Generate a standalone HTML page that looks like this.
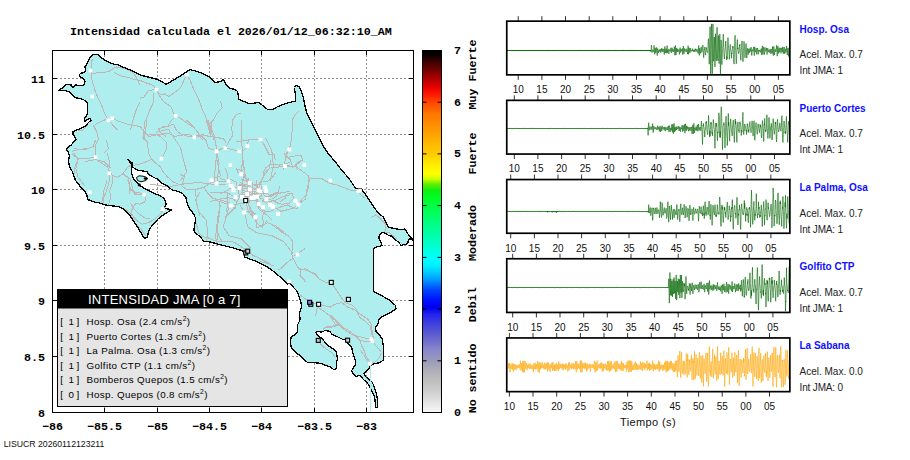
<!DOCTYPE html>
<html><head><meta charset="utf-8"><style>html,body{margin:0;padding:0;background:#fff;width:910px;height:460px;overflow:hidden}svg{display:block}</style></head>
<body><svg width="910" height="460" viewBox="0 0 910 460"><rect x="0" y="0" width="910" height="460" fill="#fff"/>
<text x="70" y="35" font-family="Liberation Mono" font-weight="bold" font-size="11.67" fill="#000">Intensidad calculada el 2026/01/12_06:32:10_AM</text>
<defs><clipPath id="mc"><rect x="52.5" y="50.5" width="361.0" height="362.0"/></clipPath></defs>
<g clip-path="url(#mc)">
<line x1="104.5" y1="50" x2="104.5" y2="412.5" stroke="#8c8c8c" stroke-width="1" stroke-dasharray="2,2" stroke-dashoffset="3" shape-rendering="crispEdges"/>
<line x1="157.5" y1="50" x2="157.5" y2="412.5" stroke="#8c8c8c" stroke-width="1" stroke-dasharray="2,2" stroke-dashoffset="3" shape-rendering="crispEdges"/>
<line x1="209.5" y1="50" x2="209.5" y2="412.5" stroke="#8c8c8c" stroke-width="1" stroke-dasharray="2,2" stroke-dashoffset="3" shape-rendering="crispEdges"/>
<line x1="261.5" y1="50" x2="261.5" y2="412.5" stroke="#8c8c8c" stroke-width="1" stroke-dasharray="2,2" stroke-dashoffset="3" shape-rendering="crispEdges"/>
<line x1="314.5" y1="50" x2="314.5" y2="412.5" stroke="#8c8c8c" stroke-width="1" stroke-dasharray="2,2" stroke-dashoffset="3" shape-rendering="crispEdges"/>
<line x1="366.5" y1="50" x2="366.5" y2="412.5" stroke="#8c8c8c" stroke-width="1" stroke-dasharray="2,2" stroke-dashoffset="3" shape-rendering="crispEdges"/>
<line x1="52" y1="78.5" x2="413.5" y2="78.5" stroke="#8c8c8c" stroke-width="1" stroke-dasharray="2,2" shape-rendering="crispEdges"/>
<line x1="52" y1="134.5" x2="413.5" y2="134.5" stroke="#8c8c8c" stroke-width="1" stroke-dasharray="2,2" shape-rendering="crispEdges"/>
<line x1="52" y1="189.5" x2="413.5" y2="189.5" stroke="#8c8c8c" stroke-width="1" stroke-dasharray="2,2" shape-rendering="crispEdges"/>
<line x1="52" y1="245.5" x2="413.5" y2="245.5" stroke="#8c8c8c" stroke-width="1" stroke-dasharray="2,2" shape-rendering="crispEdges"/>
<line x1="52" y1="300.5" x2="413.5" y2="300.5" stroke="#8c8c8c" stroke-width="1" stroke-dasharray="2,2" shape-rendering="crispEdges"/>
<line x1="52" y1="356.5" x2="413.5" y2="356.5" stroke="#8c8c8c" stroke-width="1" stroke-dasharray="2,2" shape-rendering="crispEdges"/>
<polygon points="93.3,54.3 97.7,54.3 101.4,57.6 104.2,59.8 110.5,62.8 115.0,64.8 118.3,64.8 123.7,67.4 132.4,70.7 140.0,75.0 148.7,77.2 157.4,79.3 161.7,81.5 166.1,84.3 174.8,79.3 183.5,73.9 190.0,69.6 194.3,70.7 200.9,72.8 209.6,77.2 215.0,82.6 220.4,81.5 223.7,79.3 225.9,84.8 229.1,88.0 233.3,89.1 237.6,91.3 238.7,98.9 243.0,101.1 248.5,103.3 253.9,103.3 258.3,102.2 262.6,105.4 268.0,109.8 273.5,109.1 277.8,106.5 284.3,103.9 290.9,102.2 295.2,101.1 295.2,93.5 294.1,87.0 296.3,85.2 299.6,87.0 301.3,91.3 303.5,97.8 304.6,104.3 306.8,113.0 310.0,119.6 313.3,126.1 316.5,132.6 319.8,139.1 323.3,146.5 328.7,154.1 335.2,161.7 341.8,170.4 348.7,178.0 355.2,187.8 358.5,188.9 360.7,188.3 363.9,192.2 368.3,198.7 372.6,205.2 378.0,212.8 383.5,217.2 385.9,222.6 388.5,227.0 391.1,227.8 395.4,228.7 399.8,229.6 405.0,229.1 406.7,232.2 409.3,235.7 412.0,238.3 413.5,240.4 413.5,241.0 411.1,238.9 408.5,239.3 408.0,242.6 406.7,244.3 403.3,244.3 401.5,245.7 398.9,242.6 396.3,240.4 393.7,238.3 392.0,236.1 389.3,235.7 385.9,233.9 384.1,232.6 381.5,232.6 379.3,235.2 378.9,238.3 380.2,240.9 381.5,243.5 382.0,245.7 379.8,246.1 376.3,247.0 373.7,248.3 373.5,291.7 378.0,293.9 382.4,296.1 389.1,300.0 395.2,305.2 396.1,308.7 390.9,312.2 382.2,316.5 378.7,320.0 377.8,324.3 375.2,327.8 376.1,331.3 379.6,334.8 382.2,339.1 383.0,343.5 383.8,350.0 383.8,356.1 383.1,360.1 379.8,362.8 375.0,363.5 371.7,364.8 369.0,368.2 366.3,370.9 364.0,373.5 366.0,377.0 369.5,380.0 372.0,382.0 373.8,385.5 375.5,390.5 376.8,395.5 377.6,401.0 377.6,407.2 375.4,407.2 375.2,401.7 374.4,396.5 372.8,392.6 370.8,388.7 368.8,385.0 366.5,382.3 363.0,379.0 360.0,375.5 356.2,376.3 352.8,373.6 351.5,370.9 353.5,367.5 355.5,364.8 355.5,360.8 354.2,356.7 352.8,352.7 351.7,347.0 349.1,344.3 346.5,342.6 345.7,340.0 342.2,339.1 337.0,336.5 332.6,334.8 329.6,331.3 325.2,330.4 321.7,332.2 318.3,331.3 315.7,332.2 316.5,333.9 319.1,336.5 322.6,339.1 325.2,342.6 328.7,346.1 333.0,348.7 336.5,352.2 337.4,358.3 336.5,363.5 336.5,368.7 333.9,369.6 330.4,367.0 326.1,365.6 320.9,363.5 314.8,362.6 307.8,362.6 304.3,360.0 300.0,355.7 295.7,352.2 291.3,347.8 290.4,342.6 291.3,336.5 293.9,335.7 297.4,332.2 297.4,325.2 300.0,320.0 299.6,312.2 301.7,306.7 300.7,301.3 298.5,294.8 296.3,290.4 293.5,287.4 289.1,283.0 287.0,284.1 284.8,280.9 278.3,275.4 271.7,270.0 265.2,265.7 258.7,262.4 250.0,259.1 244.6,257.0 244.6,252.6 241.3,250.4 230.4,247.2 217.4,243.9 208.7,241.7 204.3,241.7 200.4,237.0 195.0,232.6 193.9,230.0 194.8,223.9 195.7,218.7 193.9,214.3 191.3,210.9 188.7,207.4 187.0,202.2 186.0,197.8 182.6,193.5 179.1,191.7 172.2,190.0 167.0,185.7 161.7,183.0 158.3,179.6 153.0,177.0 148.7,174.3 147.0,171.7 142.6,170.9 137.4,170.0 133.0,167.4 132.2,163.0 127.8,159.6 131.3,163.9 131.3,172.6 133.9,179.6 139.1,184.8 144.3,188.3 149.6,190.9 154.8,193.5 160.9,196.1 164.3,198.7 166.1,203.9 164.3,208.3 168.7,209.1 171.3,210.0 167.0,212.6 161.7,216.1 158.3,218.7 155.9,221.7 152.6,225.0 149.3,229.3 147.2,237.0 145.0,238.7 142.8,235.9 139.6,230.4 134.1,221.7 130.3,216.1 126.8,212.6 123.3,209.1 118.1,206.5 111.1,205.7 104.2,204.8 99.8,203.0 94.6,202.2 90.3,200.4 87.7,199.6 86.8,195.2 85.0,191.7 82.4,189.1 79.0,184.8 75.5,180.4 73.7,175.2 72.0,170.9 69.4,166.5 68.5,160.4 69.4,156.1 68.5,152.6 66.3,149.1 68.3,147.2 71.6,144.6 73.5,142.0 76.1,140.0 74.8,136.7 72.9,134.1 72.9,131.5 76.1,130.2 79.4,128.9 83.3,127.0 85.9,125.7 88.5,122.4 91.1,120.4 89.8,118.5 87.2,119.8 84.6,121.7 84.6,117.8 86.6,115.9 87.9,112.0 87.2,108.0 87.9,104.1 86.6,101.5 83.3,99.6 79.4,98.3 74.8,97.6 72.6,94.8 70.0,92.2 66.1,90.9 62.2,90.3 58.9,90.3 59.6,89.6 63.5,87.6 64.8,85.7 66.1,84.4 71.3,85.0 72.6,87.6 75.2,85.0 81.8,85.7 84.4,84.4 85.0,81.8 83.7,78.5 80.5,77.2 79.2,75.2 80.5,73.3 84.4,72.6 85.7,70.0 85.0,66.8 87.0,63.5 89.6,58.3" fill="#afeeee" stroke="none"/>
<polyline points="92.2,58.7 91.3,67.4 91.0,74.3 92.2,81.3 94.8,90.0 98.3,98.7 101.7,105.7 104.3,112.6 107.0,117.8 109.6,121.3 113.9,126.5 117.4,130.0" fill="none" stroke="#bfb6b6" stroke-width="1" shape-rendering="crispEdges"/>
<polyline points="91.3,73.5 100.0,72.6 108.7,71.7 112.2,69.1 117.4,66.5" fill="none" stroke="#bfb6b6" stroke-width="1" shape-rendering="crispEdges"/>
<polyline points="113.9,72.6 120.9,76.1 129.6,77.8 134.8,79.6 140.0,80.4 145.2,82.6 150.4,84.3 153.9,86.1" fill="none" stroke="#bfb6b6" stroke-width="1" shape-rendering="crispEdges"/>
<polyline points="113.9,67.4 119.1,67.4 126.1,69.1 133.0,72.6 136.5,77.8 140.0,84.8" fill="none" stroke="#bfb6b6" stroke-width="1" shape-rendering="crispEdges"/>
<polyline points="140.0,102.2 136.5,109.1 133.0,119.6 131.3,126.5 130.4,130.0" fill="none" stroke="#bfb6b6" stroke-width="1" shape-rendering="crispEdges"/>
<polyline points="94.8,124.8 105.2,119.6 112.2,118.7 119.1,121.3 129.6,124.8 140.0,126.5" fill="none" stroke="#bfb6b6" stroke-width="1" shape-rendering="crispEdges"/>
<polyline points="187.0,74.8 184.3,79.1 181.7,86.1 177.4,90.4 171.3,94.8 168.7,96.5 164.3,93.9 160.9,94.8 157.4,92.2 155.7,88.7 153.9,86.1" fill="none" stroke="#bfb6b6" stroke-width="1" shape-rendering="crispEdges"/>
<polyline points="187.0,74.8 190.4,80.9 193.9,89.6 197.4,96.5 200.9,105.2 202.6,110.4 205.2,115.7 207.8,122.6 210.4,129.6 213.0,136.5 213.9,140.0" fill="none" stroke="#bfb6b6" stroke-width="1" shape-rendering="crispEdges"/>
<polyline points="153.9,86.1 155.7,89.6 148.7,90.4 143.5,97.4 140.0,98.3" fill="none" stroke="#bfb6b6" stroke-width="1" shape-rendering="crispEdges"/>
<polyline points="157.4,92.2 160.0,96.5 163.5,101.7 168.7,105.2 171.3,107.0 173.0,112.2 175.7,115.7 181.7,119.1 188.7,124.3 193.9,127.8 198.3,133.0 200.0,136.5 202.6,140.0" fill="none" stroke="#bfb6b6" stroke-width="1" shape-rendering="crispEdges"/>
<polyline points="175.7,115.7 171.3,120.9 167.8,126.1 162.6,127.0 159.1,129.6 160.9,133.0 166.1,136.5" fill="none" stroke="#bfb6b6" stroke-width="1" shape-rendering="crispEdges"/>
<polyline points="153.9,93.0 153.0,103.5 149.6,110.4 147.0,117.4 146.1,126.1 144.3,136.5 143.5,140.0" fill="none" stroke="#bfb6b6" stroke-width="1" shape-rendering="crispEdges"/>
<polyline points="220.4,100.9 222.2,107.8 217.0,113.0 213.5,120.0 210.0,123.5 209.6,127.8" fill="none" stroke="#bfb6b6" stroke-width="1" shape-rendering="crispEdges"/>
<polyline points="140.0,126.5 148.7,136.5 157.4,134.8 167.8,133.0 174.8,136.5 183.5,134.8 188.7,136.5 193.9,136.5 202.6,134.8 209.6,136.5 217.0,137.4 223.9,139.1 225.7,142.6" fill="none" stroke="#bfb6b6" stroke-width="1" shape-rendering="crispEdges"/>
<polyline points="241.3,113.0 236.1,114.8 232.6,120.0 231.7,128.7 232.6,135.7 229.1,140.9 225.7,147.8 232.6,149.6 238.7,151.3" fill="none" stroke="#bfb6b6" stroke-width="1" shape-rendering="crispEdges"/>
<polyline points="236.1,141.7 248.3,140.0 260.4,139.5 263.9,144.3 267.4,151.3 269.1,154.8 274.3,154.8 275.2,160.0" fill="none" stroke="#bfb6b6" stroke-width="1" shape-rendering="crispEdges"/>
<polyline points="248.3,140.0 247.4,146.1 243.0,151.3 242.2,160.0 243.0,165.2 244.8,170.4 244.8,177.4 248.3,182.6" fill="none" stroke="#bfb6b6" stroke-width="1" shape-rendering="crispEdges"/>
<polyline points="225.7,147.8 220.4,149.6 217.0,151.3 216.1,160.0 217.0,160.0 218.7,168.7 220.4,175.7 217.0,177.4 210.0,179.1" fill="none" stroke="#bfb6b6" stroke-width="1" shape-rendering="crispEdges"/>
<polyline points="211.7,123.5 210.9,132.2 210.0,135.7" fill="none" stroke="#bfb6b6" stroke-width="1" shape-rendering="crispEdges"/>
<polyline points="289.1,149.6 286.5,154.8 285.7,160.0" fill="none" stroke="#bfb6b6" stroke-width="1" shape-rendering="crispEdges"/>
<polyline points="299.1,110.9 295.7,114.3 292.2,119.6 292.2,130.0 291.3,138.7 290.4,145.7 287.0,152.6 285.2,159.6 284.3,164.8 283.5,170.0" fill="none" stroke="#bfb6b6" stroke-width="1" shape-rendering="crispEdges"/>
<polyline points="286.9,157.8 293.9,156.1 300.9,155.2 302.6,159.6 299.1,163.0 295.7,164.8 297.4,170.0" fill="none" stroke="#bfb6b6" stroke-width="1" shape-rendering="crispEdges"/>
<polyline points="283.5,166.1 295.7,166.1 297.4,162.6 302.6,160.0" fill="none" stroke="#bfb6b6" stroke-width="1" shape-rendering="crispEdges"/>
<polyline points="295.7,166.1 300.9,170.4 306.1,173.9 310.4,178.3 314.8,178.3 321.7,178.3 325.2,180.9 330.4,183.5 337.4,185.2 344.3,187.8 351.3,190.4 356.5,190.4 361.7,195.7 365.2,198.3" fill="none" stroke="#bfb6b6" stroke-width="1" shape-rendering="crispEdges"/>
<polyline points="310.4,178.3 308.7,182.6 307.0,189.6 306.1,194.8 302.6,198.3 300.0,201.7 298.3,205.2 297.4,208.7" fill="none" stroke="#bfb6b6" stroke-width="1" shape-rendering="crispEdges"/>
<polyline points="280.0,201.7 285.2,198.3 287.0,193.9 292.2,193.9 293.9,198.3 290.4,201.7 287.0,205.2" fill="none" stroke="#bfb6b6" stroke-width="1" shape-rendering="crispEdges"/>
<polyline points="280.0,207.0 287.0,205.2 292.2,207.0 297.4,208.7" fill="none" stroke="#bfb6b6" stroke-width="1" shape-rendering="crispEdges"/>
<polyline points="280.0,231.3 287.0,234.8 292.2,240.0" fill="none" stroke="#bfb6b6" stroke-width="1" shape-rendering="crispEdges"/>
<polyline points="270.9,160.0 269.1,168.7 263.9,175.7 260.4,182.6 258.0,190.0" fill="none" stroke="#bfb6b6" stroke-width="1" shape-rendering="crispEdges"/>
<polyline points="290.0,165.2 279.6,167.0 270.9,167.8" fill="none" stroke="#bfb6b6" stroke-width="1" shape-rendering="crispEdges"/>
<polyline points="370.4,218.3 375.7,214.8 379.1,217.4 385.2,223.5 386.1,228.7 384.3,232.2 388.7,232.2 393.0,235.7 397.4,239.1" fill="none" stroke="#bfb6b6" stroke-width="1" shape-rendering="crispEdges"/>
<polyline points="93.3,125.0 96.8,132.0 98.5,138.9 95.9,144.1 95.0,151.1 96.8,159.8 102.0,163.3 107.2,166.7 109.8,172.0 112.4,175.4 117.7,177.2 122.9,173.7 128.1,166.7 130.0,165.7" fill="none" stroke="#bfb6b6" stroke-width="1" shape-rendering="crispEdges"/>
<polyline points="107.2,152.8 109.0,159.8 109.0,166.7" fill="none" stroke="#bfb6b6" stroke-width="1" shape-rendering="crispEdges"/>
<polyline points="72.4,151.1 79.4,149.3 88.1,148.5 95.0,145.9" fill="none" stroke="#bfb6b6" stroke-width="1" shape-rendering="crispEdges"/>
<polyline points="72.4,154.6 77.7,158.0 84.6,158.9 95.0,157.2" fill="none" stroke="#bfb6b6" stroke-width="1" shape-rendering="crispEdges"/>
<polyline points="78.0,160.0 75.0,166.7 74.2,173.7" fill="none" stroke="#bfb6b6" stroke-width="1" shape-rendering="crispEdges"/>
<polyline points="109.8,172.0 109.0,182.4 106.3,191.1 103.7,198.0 102.9,205.0" fill="none" stroke="#bfb6b6" stroke-width="1" shape-rendering="crispEdges"/>
<polyline points="112.4,175.4 112.4,182.4 109.8,191.1 110.7,198.0 109.6,200.9 108.3,204.8" fill="none" stroke="#bfb6b6" stroke-width="1" shape-rendering="crispEdges"/>
<polyline points="122.9,173.7 128.1,177.2 129.8,185.9 129.0,194.6" fill="none" stroke="#bfb6b6" stroke-width="1" shape-rendering="crispEdges"/>
<polyline points="88.1,125.0 82.9,130.2 78.0,131.0" fill="none" stroke="#bfb6b6" stroke-width="1" shape-rendering="crispEdges"/>
<polyline points="127.8,180.0 129.1,183.9 130.4,187.8 133.0,191.7 139.6,193.0 143.5,194.3 146.1,197.0 144.8,202.2 139.6,204.1 135.7,203.5 133.0,207.4 131.1,211.3 131.7,213.9 134.3,217.8 138.3,221.7 142.2,224.3 147.4,223.0 152.6,220.4 156.5,217.8 160.4,213.9 163.0,210.0" fill="none" stroke="#bfb6b6" stroke-width="1" shape-rendering="crispEdges"/>
<polyline points="107.0,180.0 105.7,185.2 103.7,190.4 103.0,197.0 101.7,202.2" fill="none" stroke="#bfb6b6" stroke-width="1" shape-rendering="crispEdges"/>
<polyline points="145.2,120.0 144.1,128.7 143.0,137.4 147.4,141.7 148.5,152.6 151.7,159.1 156.1,163.5 160.4,166.7 162.6,171.1 167.0,176.5 173.5,182.0 181.1,185.2 186.5,189.6 195.2,189.6 203.9,187.4 210.4,183.0 217.0,180.9 225.7,182.0 230.0,183.0 234.3,186.0" fill="none" stroke="#bfb6b6" stroke-width="1" shape-rendering="crispEdges"/>
<polyline points="147.4,135.2 153.9,134.1 160.4,136.3 165.9,141.7 167.0,148.3 164.8,152.6 162.6,157.0 161.5,158.7" fill="none" stroke="#bfb6b6" stroke-width="1" shape-rendering="crispEdges"/>
<polyline points="158.3,128.7 167.0,126.5 173.5,124.3 176.7,130.9 182.2,135.2 188.7,134.1 194.1,137.4 201.7,136.3 206.1,140.7 208.3,148.3 212.6,149.3 215.9,151.5 221.3,148.3 225.7,148.3" fill="none" stroke="#bfb6b6" stroke-width="1" shape-rendering="crispEdges"/>
<polyline points="186.5,120.0 190.9,124.3 195.2,128.7" fill="none" stroke="#bfb6b6" stroke-width="1" shape-rendering="crispEdges"/>
<polyline points="206.1,120.0 208.3,126.5 210.4,135.2" fill="none" stroke="#bfb6b6" stroke-width="1" shape-rendering="crispEdges"/>
<polyline points="217.0,152.6 219.1,163.5 218.0,174.3 217.0,180.9" fill="none" stroke="#bfb6b6" stroke-width="1" shape-rendering="crispEdges"/>
<polyline points="195.2,189.6 196.3,198.3 197.4,207.0 199.6,215.7" fill="none" stroke="#bfb6b6" stroke-width="1" shape-rendering="crispEdges"/>
<polyline points="203.9,187.4 208.3,193.9 212.6,198.3 221.3,200.4 230.0,202.6" fill="none" stroke="#bfb6b6" stroke-width="1" shape-rendering="crispEdges"/>
<polyline points="180.0,174.3 184.3,176.5 182.2,185.2" fill="none" stroke="#bfb6b6" stroke-width="1" shape-rendering="crispEdges"/>
<polyline points="130.0,165.7 138.7,164.6 147.4,161.3 151.7,159.1" fill="none" stroke="#bfb6b6" stroke-width="1" shape-rendering="crispEdges"/>
<polyline points="130.0,189.6 136.5,193.9 143.0,195.0" fill="none" stroke="#bfb6b6" stroke-width="1" shape-rendering="crispEdges"/>
<polyline points="210.0,193.0 218.7,192.2 227.4,193.0 234.3,196.5 240.0,196.0" fill="none" stroke="#bfb6b6" stroke-width="1" shape-rendering="crispEdges"/>
<polyline points="210.0,201.7 215.2,200.0 220.4,201.7 225.7,203.5 230.5,205.6 238.0,204.0 245.0,203.0" fill="none" stroke="#bfb6b6" stroke-width="1" shape-rendering="crispEdges"/>
<polyline points="220.4,205.2 218.7,212.2 217.0,220.9 217.0,229.6 217.8,240.0" fill="none" stroke="#bfb6b6" stroke-width="1" shape-rendering="crispEdges"/>
<polyline points="227.4,193.0 227.4,205.2 226.5,212.0" fill="none" stroke="#bfb6b6" stroke-width="1" shape-rendering="crispEdges"/>
<polyline points="250.0,207.0 251.7,213.9 255.2,217.4 257.0,222.6 256.1,227.8 262.2,226.1 267.4,222.6 276.1,226.1 283.0,231.3 286.5,236.5" fill="none" stroke="#bfb6b6" stroke-width="1" shape-rendering="crispEdges"/>
<polyline points="262.0,201.0 269.1,201.7 276.1,200.0 283.0,196.5 290.0,194.8" fill="none" stroke="#bfb6b6" stroke-width="1" shape-rendering="crispEdges"/>
<polyline points="272.6,207.0 276.1,208.7 283.0,206.1 290.0,205.2" fill="none" stroke="#bfb6b6" stroke-width="1" shape-rendering="crispEdges"/>
<polyline points="265.0,210.0 262.2,217.4 264.0,224.0" fill="none" stroke="#bfb6b6" stroke-width="1" shape-rendering="crispEdges"/>
<polyline points="276.1,192.2 270.0,196.0" fill="none" stroke="#bfb6b6" stroke-width="1" shape-rendering="crispEdges"/>
<polyline points="255.2,217.6 256.1,222.0 259.6,225.4 264.8,224.6 267.0,220.0" fill="none" stroke="#bfb6b6" stroke-width="1" shape-rendering="crispEdges"/>
<polyline points="219.6,215.0 217.8,222.0 216.1,227.2 217.8,232.4 219.6,237.6 222.0,241.0" fill="none" stroke="#bfb6b6" stroke-width="1" shape-rendering="crispEdges"/>
<polyline points="195.2,220.2 198.7,232.4 202.2,236.7 207.4,237.6 216.1,241.1 224.8,242.0 230.0,241.1 235.2,242.8 240.4,246.3 245.7,249.8 252.6,255.0 259.6,258.5 266.5,262.0 270.0,263.7" fill="none" stroke="#bfb6b6" stroke-width="1" shape-rendering="crispEdges"/>
<polyline points="260.0,261.5 267.0,263.3 274.0,266.0" fill="none" stroke="#bfb6b6" stroke-width="1" shape-rendering="crispEdges"/>
<polyline points="272.2,225.0 277.4,228.5 282.6,232.0 287.8,235.4 292.2,240.7 293.0,247.6 291.3,252.8 293.0,258.0 294.8,261.5 297.4,266.7 300.9,270.2 305.2,268.5 310.4,272.0 315.7,273.7 319.1,278.9 326.1,282.4 331.3,282.4 334.8,287.6 338.3,292.8 341.7,298.3 345.2,302.6 352.2,305.2 355.7,308.7 357.4,312.2 362.6,315.7 367.8,319.1 371.3,324.3 372.2,331.3 373.0,336.5 373.0,340.0" fill="none" stroke="#bfb6b6" stroke-width="1" shape-rendering="crispEdges"/>
<polyline points="293.0,258.0 286.1,263.3 280.9,268.5 277.4,270.2" fill="none" stroke="#bfb6b6" stroke-width="1" shape-rendering="crispEdges"/>
<polyline points="294.0,256.0 299.1,252.8 305.2,248.5" fill="none" stroke="#bfb6b6" stroke-width="1" shape-rendering="crispEdges"/>
<polyline points="300.9,270.2 300.0,275.4 303.5,278.9 306.1,282.4" fill="none" stroke="#bfb6b6" stroke-width="1" shape-rendering="crispEdges"/>
<polyline points="263.5,225.0 261.7,228.5" fill="none" stroke="#bfb6b6" stroke-width="1" shape-rendering="crispEdges"/>
<polyline points="300.0,268.7 307.0,270.4 312.2,273.0 316.5,275.7 319.1,279.1" fill="none" stroke="#bfb6b6" stroke-width="1" shape-rendering="crispEdges"/>
<polyline points="300.0,276.5 303.5,278.3 305.2,282.6" fill="none" stroke="#bfb6b6" stroke-width="1" shape-rendering="crispEdges"/>
<polyline points="300.0,294.8 307.0,300.0 313.9,303.5 322.6,305.2 330.4,307.0 334.8,304.3 341.7,302.6" fill="none" stroke="#bfb6b6" stroke-width="1" shape-rendering="crispEdges"/>
<polyline points="317.4,307.0 316.5,312.2 315.7,315.7" fill="none" stroke="#bfb6b6" stroke-width="1" shape-rendering="crispEdges"/>
<polyline points="317.4,307.0 322.6,310.4 329.6,315.7 334.8,320.0 338.3,324.3 341.7,327.8 347.0,331.3 352.2,334.8 359.1,336.5 366.1,338.3 371.3,339.1" fill="none" stroke="#bfb6b6" stroke-width="1" shape-rendering="crispEdges"/>
<polyline points="338.3,324.3 333.0,326.1 326.1,327.0 322.6,329.6" fill="none" stroke="#bfb6b6" stroke-width="1" shape-rendering="crispEdges"/>
<polyline points="341.7,302.6 347.4,307.0 356.1,310.4 359.6,317.4 364.8,320.9 370.0,326.1 371.7,333.0 372.6,340.0 375.2,345.2 378.7,348.7 381.3,352.2" fill="none" stroke="#bfb6b6" stroke-width="1" shape-rendering="crispEdges"/>
<polyline points="330.0,315.7 335.2,324.3 340.4,326.1 347.4,329.6 354.3,334.8 359.6,340.0 361.3,345.2 364.8,352.2 366.5,357.4 370.0,362.6" fill="none" stroke="#bfb6b6" stroke-width="1" shape-rendering="crispEdges"/>
<polyline points="359.6,340.0 364.8,341.7 372.0,341.0" fill="none" stroke="#bfb6b6" stroke-width="1" shape-rendering="crispEdges"/>
<polyline points="360.2,350.0 364.3,355.4 367.0,360.8 370.3,363.5 375.0,362.1 379.1,358.1 381.8,352.7" fill="none" stroke="#bfb6b6" stroke-width="1" shape-rendering="crispEdges"/>
<polyline points="324.1,327.4 329.3,327.4 334.6,326.7 339.8,324.1 343.0,327.0" fill="none" stroke="#bfb6b6" stroke-width="1" shape-rendering="crispEdges"/>
<polyline points="330.7,315.0 334.6,318.9 338.5,322.8 342.4,326.7 345.0,329.0" fill="none" stroke="#bfb6b6" stroke-width="1" shape-rendering="crispEdges"/>
<polyline points="320.2,343.7 324.1,347.6 328.0,350.2 332.0,352.8 334.6,356.7" fill="none" stroke="#bfb6b6" stroke-width="1" shape-rendering="crispEdges"/>
<polyline points="324.1,364.6 328.0,365.2" fill="none" stroke="#bfb6b6" stroke-width="1" shape-rendering="crispEdges"/>
<polyline points="200.3,191.6 195.7,199.2 198.7,211.4 206.4,220.5 207.9,235.7 206.4,241.8" fill="none" stroke="#bfb6b6" stroke-width="1" shape-rendering="crispEdges"/>
<polyline points="220.0,202.2 218.5,220.5 215.5,235.7 217.0,244.9" fill="none" stroke="#bfb6b6" stroke-width="1" shape-rendering="crispEdges"/>
<polyline points="229.2,205.3 226.2,217.5 223.1,226.6 229.2,235.7 241.4,238.8 250.5,247.9" fill="none" stroke="#bfb6b6" stroke-width="1" shape-rendering="crispEdges"/>
<polyline points="244.4,211.4 247.5,226.6 256.6,232.7 271.8,235.7 284.0,241.8 293.2,254.0" fill="none" stroke="#bfb6b6" stroke-width="1" shape-rendering="crispEdges"/>
<polyline points="271.8,205.3 281.0,211.4 293.2,208.3 305.3,199.2 308.4,187.0 308.4,174.8" fill="none" stroke="#bfb6b6" stroke-width="1" shape-rendering="crispEdges"/>
<polyline points="265.7,138.3 271.8,150.5 273.4,165.7 270.3,180.9" fill="none" stroke="#bfb6b6" stroke-width="1" shape-rendering="crispEdges"/>
<polyline points="241.4,120.0 241.4,138.3 242.9,156.6 241.4,171.8" fill="none" stroke="#bfb6b6" stroke-width="1" shape-rendering="crispEdges"/>
<polyline points="284.0,153.5 290.1,159.6 293.0,168.0" fill="none" stroke="#bfb6b6" stroke-width="1" shape-rendering="crispEdges"/>
<polyline points="150.0,184.0 168.3,187.0 183.5,184.0 198.7,182.4 210.9,184.0 226.2,184.0" fill="none" stroke="#bfb6b6" stroke-width="1" shape-rendering="crispEdges"/>
<polyline points="156.1,132.2 168.3,129.1 174.4,138.3 180.5,147.4 183.5,159.6 186.6,171.8 180.5,180.9" fill="none" stroke="#bfb6b6" stroke-width="1" shape-rendering="crispEdges"/>
<polyline points="207.9,120.0 214.0,135.2 217.0,150.5 215.5,165.7 214.0,180.9" fill="none" stroke="#bfb6b6" stroke-width="1" shape-rendering="crispEdges"/>
<polyline points="73.7,148.7 84.6,149.8 93.3,146.5 95.5,140.0" fill="none" stroke="#bfb6b6" stroke-width="1" shape-rendering="crispEdges"/>
<polyline points="73.7,153.0 78.1,159.6 75.9,168.3 78.1,177.0 84.6,185.7" fill="none" stroke="#bfb6b6" stroke-width="1" shape-rendering="crispEdges"/>
<polyline points="84.6,161.7 95.5,159.6 104.2,161.7 110.7,168.3" fill="none" stroke="#bfb6b6" stroke-width="1" shape-rendering="crispEdges"/>
<polyline points="106.3,140.0 108.5,148.7 104.2,153.0" fill="none" stroke="#bfb6b6" stroke-width="1" shape-rendering="crispEdges"/>
<polyline points="123.7,174.8 130.3,179.1 132.4,187.8 134.6,194.3 143.3,194.3" fill="none" stroke="#bfb6b6" stroke-width="1" shape-rendering="crispEdges"/>
<polyline points="125.9,209.6 130.0,213.0 134.6,222.6 141.1,229.1 145.5,235.7" fill="none" stroke="#bfb6b6" stroke-width="1" shape-rendering="crispEdges"/>
<polyline points="130.3,203.0 134.6,209.6 139.0,213.9 145.5,218.3 150.0,218.0" fill="none" stroke="#bfb6b6" stroke-width="1" shape-rendering="crispEdges"/>
<polygon points="93.3,54.3 97.7,54.3 101.4,57.6 104.2,59.8 110.5,62.8 115.0,64.8 118.3,64.8 123.7,67.4 132.4,70.7 140.0,75.0 148.7,77.2 157.4,79.3 161.7,81.5 166.1,84.3 174.8,79.3 183.5,73.9 190.0,69.6 194.3,70.7 200.9,72.8 209.6,77.2 215.0,82.6 220.4,81.5 223.7,79.3 225.9,84.8 229.1,88.0 233.3,89.1 237.6,91.3 238.7,98.9 243.0,101.1 248.5,103.3 253.9,103.3 258.3,102.2 262.6,105.4 268.0,109.8 273.5,109.1 277.8,106.5 284.3,103.9 290.9,102.2 295.2,101.1 295.2,93.5 294.1,87.0 296.3,85.2 299.6,87.0 301.3,91.3 303.5,97.8 304.6,104.3 306.8,113.0 310.0,119.6 313.3,126.1 316.5,132.6 319.8,139.1 323.3,146.5 328.7,154.1 335.2,161.7 341.8,170.4 348.7,178.0 355.2,187.8 358.5,188.9 360.7,188.3 363.9,192.2 368.3,198.7 372.6,205.2 378.0,212.8 383.5,217.2 385.9,222.6 388.5,227.0 391.1,227.8 395.4,228.7 399.8,229.6 405.0,229.1 406.7,232.2 409.3,235.7 412.0,238.3 413.5,240.4 413.5,241.0 411.1,238.9 408.5,239.3 408.0,242.6 406.7,244.3 403.3,244.3 401.5,245.7 398.9,242.6 396.3,240.4 393.7,238.3 392.0,236.1 389.3,235.7 385.9,233.9 384.1,232.6 381.5,232.6 379.3,235.2 378.9,238.3 380.2,240.9 381.5,243.5 382.0,245.7 379.8,246.1 376.3,247.0 373.7,248.3 373.5,291.7 378.0,293.9 382.4,296.1 389.1,300.0 395.2,305.2 396.1,308.7 390.9,312.2 382.2,316.5 378.7,320.0 377.8,324.3 375.2,327.8 376.1,331.3 379.6,334.8 382.2,339.1 383.0,343.5 383.8,350.0 383.8,356.1 383.1,360.1 379.8,362.8 375.0,363.5 371.7,364.8 369.0,368.2 366.3,370.9 364.0,373.5 366.0,377.0 369.5,380.0 372.0,382.0 373.8,385.5 375.5,390.5 376.8,395.5 377.6,401.0 377.6,407.2 375.4,407.2 375.2,401.7 374.4,396.5 372.8,392.6 370.8,388.7 368.8,385.0 366.5,382.3 363.0,379.0 360.0,375.5 356.2,376.3 352.8,373.6 351.5,370.9 353.5,367.5 355.5,364.8 355.5,360.8 354.2,356.7 352.8,352.7 351.7,347.0 349.1,344.3 346.5,342.6 345.7,340.0 342.2,339.1 337.0,336.5 332.6,334.8 329.6,331.3 325.2,330.4 321.7,332.2 318.3,331.3 315.7,332.2 316.5,333.9 319.1,336.5 322.6,339.1 325.2,342.6 328.7,346.1 333.0,348.7 336.5,352.2 337.4,358.3 336.5,363.5 336.5,368.7 333.9,369.6 330.4,367.0 326.1,365.6 320.9,363.5 314.8,362.6 307.8,362.6 304.3,360.0 300.0,355.7 295.7,352.2 291.3,347.8 290.4,342.6 291.3,336.5 293.9,335.7 297.4,332.2 297.4,325.2 300.0,320.0 299.6,312.2 301.7,306.7 300.7,301.3 298.5,294.8 296.3,290.4 293.5,287.4 289.1,283.0 287.0,284.1 284.8,280.9 278.3,275.4 271.7,270.0 265.2,265.7 258.7,262.4 250.0,259.1 244.6,257.0 244.6,252.6 241.3,250.4 230.4,247.2 217.4,243.9 208.7,241.7 204.3,241.7 200.4,237.0 195.0,232.6 193.9,230.0 194.8,223.9 195.7,218.7 193.9,214.3 191.3,210.9 188.7,207.4 187.0,202.2 186.0,197.8 182.6,193.5 179.1,191.7 172.2,190.0 167.0,185.7 161.7,183.0 158.3,179.6 153.0,177.0 148.7,174.3 147.0,171.7 142.6,170.9 137.4,170.0 133.0,167.4 132.2,163.0 127.8,159.6 131.3,163.9 131.3,172.6 133.9,179.6 139.1,184.8 144.3,188.3 149.6,190.9 154.8,193.5 160.9,196.1 164.3,198.7 166.1,203.9 164.3,208.3 168.7,209.1 171.3,210.0 167.0,212.6 161.7,216.1 158.3,218.7 155.9,221.7 152.6,225.0 149.3,229.3 147.2,237.0 145.0,238.7 142.8,235.9 139.6,230.4 134.1,221.7 130.3,216.1 126.8,212.6 123.3,209.1 118.1,206.5 111.1,205.7 104.2,204.8 99.8,203.0 94.6,202.2 90.3,200.4 87.7,199.6 86.8,195.2 85.0,191.7 82.4,189.1 79.0,184.8 75.5,180.4 73.7,175.2 72.0,170.9 69.4,166.5 68.5,160.4 69.4,156.1 68.5,152.6 66.3,149.1 68.3,147.2 71.6,144.6 73.5,142.0 76.1,140.0 74.8,136.7 72.9,134.1 72.9,131.5 76.1,130.2 79.4,128.9 83.3,127.0 85.9,125.7 88.5,122.4 91.1,120.4 89.8,118.5 87.2,119.8 84.6,121.7 84.6,117.8 86.6,115.9 87.9,112.0 87.2,108.0 87.9,104.1 86.6,101.5 83.3,99.6 79.4,98.3 74.8,97.6 72.6,94.8 70.0,92.2 66.1,90.9 62.2,90.3 58.9,90.3 59.6,89.6 63.5,87.6 64.8,85.7 66.1,84.4 71.3,85.0 72.6,87.6 75.2,85.0 81.8,85.7 84.4,84.4 85.0,81.8 83.7,78.5 80.5,77.2 79.2,75.2 80.5,73.3 84.4,72.6 85.7,70.0 85.0,66.8 87.0,63.5 89.6,58.3" fill="none" stroke="#000" stroke-width="1.3" stroke-linejoin="round" shape-rendering="crispEdges"/>
<line x1="370.5" y1="364" x2="370.5" y2="412" stroke="#afeeee" stroke-width="1"/>
<path d="M136.5,177.5 L139,175.8 L143,176.2 L146.5,177.3 L147.5,179 L145.5,180.6 L141,181.8 L137.5,180.5 Z" fill="#afeeee" stroke="#000" stroke-width="1"/>
<ellipse cx="145.6" cy="178.6" rx="1.8" ry="1.3" fill="#000"/>
<ellipse cx="139.3" cy="185" rx="1.6" ry="1.4" fill="#000"/>
<polyline points="243.5,160.0 244.1,167.8 244.8,173.0 246.1,178.3 248.7,182.2" fill="none" stroke="#bfb6b6" stroke-width="1" shape-rendering="crispEdges"/>
<polyline points="237.0,169.1 240.9,170.4 244.8,169.8" fill="none" stroke="#bfb6b6" stroke-width="1" shape-rendering="crispEdges"/>
<polyline points="220.0,178.3 227.8,180.9 233.0,186.1 239.6,188.7 246.1,191.3 253.9,191.9 260.4,191.3 265.6,192.6 269.5,195.2 276.1,193.9 282.6,192.6 290.0,191.3" fill="none" stroke="#bfb6b6" stroke-width="1" shape-rendering="crispEdges"/>
<polyline points="235.6,180.9 237.0,186.1 238.3,191.3 239.6,196.5 237.0,201.7 235.6,206.9 230.4,212.2 225.2,217.4" fill="none" stroke="#bfb6b6" stroke-width="1" shape-rendering="crispEdges"/>
<polyline points="240.9,179.6 246.1,180.9 251.3,183.5 256.5,186.1 259.1,190.0 263.0,193.9 266.9,197.8" fill="none" stroke="#bfb6b6" stroke-width="1" shape-rendering="crispEdges"/>
<polyline points="250.0,188.7 251.3,193.9 250.0,199.1 248.7,204.3 250.0,209.5 253.9,213.5 256.5,217.4 257.8,220.0" fill="none" stroke="#bfb6b6" stroke-width="1" shape-rendering="crispEdges"/>
<polyline points="253.9,192.6 259.1,197.8 263.0,199.1 268.2,199.1 272.2,200.4 277.4,203.0 282.6,204.3 290.0,203.0" fill="none" stroke="#bfb6b6" stroke-width="1" shape-rendering="crispEdges"/>
<polyline points="257.8,199.1 256.5,204.3 259.1,209.5 263.0,212.2 268.2,216.1 272.2,220.0" fill="none" stroke="#bfb6b6" stroke-width="1" shape-rendering="crispEdges"/>
<polyline points="263.0,173.0 265.6,167.8 269.5,165.2 273.5,163.9 278.7,165.2 290.0,162.6" fill="none" stroke="#bfb6b6" stroke-width="1" shape-rendering="crispEdges"/>
<polyline points="260.4,184.8 263.0,177.0 263.0,173.0" fill="none" stroke="#bfb6b6" stroke-width="1" shape-rendering="crispEdges"/>
<polyline points="272.2,199.1 276.1,196.5 278.7,192.6" fill="none" stroke="#bfb6b6" stroke-width="1" shape-rendering="crispEdges"/>
<polyline points="220.0,199.1 227.8,197.8 233.0,199.1 237.0,201.7" fill="none" stroke="#bfb6b6" stroke-width="1" shape-rendering="crispEdges"/>
<polyline points="233.0,186.1 227.8,190.0 222.6,192.6 220.0,193.9" fill="none" stroke="#bfb6b6" stroke-width="1" shape-rendering="crispEdges"/>
<polyline points="225.2,167.8 227.8,175.6 227.8,180.9" fill="none" stroke="#bfb6b6" stroke-width="1" shape-rendering="crispEdges"/>
<polyline points="239.0,184.0 262.0,184.0" fill="none" stroke="#bfb6b6" stroke-width="1" shape-rendering="crispEdges"/>
<polyline points="240.0,188.0 258.0,188.0" fill="none" stroke="#bfb6b6" stroke-width="1" shape-rendering="crispEdges"/>
<polyline points="241.0,192.0 250.0,192.0" fill="none" stroke="#bfb6b6" stroke-width="1" shape-rendering="crispEdges"/>
<polyline points="243.0,196.0 262.0,196.0" fill="none" stroke="#bfb6b6" stroke-width="1" shape-rendering="crispEdges"/>
<polyline points="246.0,200.0 256.0,200.0" fill="none" stroke="#bfb6b6" stroke-width="1" shape-rendering="crispEdges"/>
<polyline points="242.0,180.0 242.0,199.0" fill="none" stroke="#bfb6b6" stroke-width="1" shape-rendering="crispEdges"/>
<polyline points="247.0,179.0 247.0,200.0" fill="none" stroke="#bfb6b6" stroke-width="1" shape-rendering="crispEdges"/>
<polyline points="252.0,182.0 253.0,200.0" fill="none" stroke="#bfb6b6" stroke-width="1" shape-rendering="crispEdges"/>
<polyline points="257.0,184.0 257.0,198.0" fill="none" stroke="#bfb6b6" stroke-width="1" shape-rendering="crispEdges"/>
<polyline points="261.0,186.0 261.0,196.0" fill="none" stroke="#bfb6b6" stroke-width="1" shape-rendering="crispEdges"/>
<polyline points="240.0,182.0 244.0,186.0 248.0,184.0 252.0,188.0 256.0,190.0" fill="none" stroke="#bfb6b6" stroke-width="1" shape-rendering="crispEdges"/>
<polyline points="244.0,194.0 248.0,197.0 254.0,195.0 258.0,193.0" fill="none" stroke="#bfb6b6" stroke-width="1" shape-rendering="crispEdges"/>
<polyline points="236.5,168.0 237.6,172.3 243.0,174.5 244.1,180.0" fill="none" stroke="#bfb6b6" stroke-width="1" shape-rendering="crispEdges"/>
<polyline points="270.0,168.0 265.0,172.0 262.0,180.0 258.0,185.0" fill="none" stroke="#bfb6b6" stroke-width="1" shape-rendering="crispEdges"/>
<polyline points="262.6,181.5 268.0,181.0 272.0,178.0 276.0,172.0" fill="none" stroke="#bfb6b6" stroke-width="1" shape-rendering="crispEdges"/>
<polyline points="240.0,205.0 243.0,210.0 250.0,213.0 256.0,214.0" fill="none" stroke="#bfb6b6" stroke-width="1" shape-rendering="crispEdges"/>
<polyline points="256.0,200.0 258.0,206.0 262.0,210.0 268.0,212.0 274.0,210.0" fill="none" stroke="#bfb6b6" stroke-width="1" shape-rendering="crispEdges"/>
<polyline points="266.0,196.0 272.0,196.0 278.0,192.0 280.0,186.0" fill="none" stroke="#bfb6b6" stroke-width="1" shape-rendering="crispEdges"/>
<polyline points="246.0,202.0 248.0,210.0 252.0,216.0" fill="none" stroke="#bfb6b6" stroke-width="1" shape-rendering="crispEdges"/>
<polyline points="262.6,200.0 268.0,205.0" fill="none" stroke="#bfb6b6" stroke-width="1" shape-rendering="crispEdges"/>
<polyline points="230.0,178.9 236.5,182.1" fill="none" stroke="#bfb6b6" stroke-width="1" shape-rendering="crispEdges"/>
<polyline points="230.0,205.0 236.5,209.3" fill="none" stroke="#bfb6b6" stroke-width="1" shape-rendering="crispEdges"/>
<polyline points="249.6,207.1 251.7,213.7 252.8,218.0" fill="none" stroke="#bfb6b6" stroke-width="1" shape-rendering="crispEdges"/>
<polyline points="238.0,185.0 262.0,190.0" fill="none" stroke="#bfb6b6" stroke-width="1" shape-rendering="crispEdges"/>
<polyline points="240.0,195.0 266.0,193.0" fill="none" stroke="#bfb6b6" stroke-width="1" shape-rendering="crispEdges"/>
<polyline points="248.0,178.0 250.0,200.0" fill="none" stroke="#bfb6b6" stroke-width="1" shape-rendering="crispEdges"/>
<polyline points="257.0,180.0 256.0,200.0" fill="none" stroke="#bfb6b6" stroke-width="1" shape-rendering="crispEdges"/>
<rect x="239.6" y="172.5" width="3.6" height="3.6" fill="#fff"/>
<rect x="247.8" y="181.4" width="3.6" height="3.6" fill="#fff"/>
<rect x="237.4" y="186.3" width="3.6" height="3.6" fill="#fff"/>
<rect x="231.5" y="188.5" width="3.6" height="3.6" fill="#fff"/>
<rect x="229.3" y="183.6" width="3.6" height="3.6" fill="#fff"/>
<rect x="247.8" y="187.4" width="3.6" height="3.6" fill="#fff"/>
<rect x="245.6" y="192.3" width="3.6" height="3.6" fill="#fff"/>
<rect x="233.6" y="195.5" width="3.6" height="3.6" fill="#fff"/>
<rect x="240.2" y="195.3" width="3.6" height="3.6" fill="#fff"/>
<rect x="249.4" y="196.1" width="3.6" height="3.6" fill="#fff"/>
<rect x="251.7" y="195.7" width="3.6" height="3.6" fill="#fff"/>
<rect x="253.7" y="195.2" width="3.6" height="3.6" fill="#fff"/>
<rect x="255.4" y="195.0" width="3.6" height="3.6" fill="#fff"/>
<rect x="256.5" y="188.5" width="3.6" height="3.6" fill="#fff"/>
<rect x="258.6" y="189.6" width="3.6" height="3.6" fill="#fff"/>
<rect x="263.5" y="185.5" width="3.6" height="3.6" fill="#fff"/>
<rect x="264.6" y="189.4" width="3.6" height="3.6" fill="#fff"/>
<rect x="264.6" y="197.7" width="3.6" height="3.6" fill="#fff"/>
<rect x="256.7" y="202.4" width="3.6" height="3.6" fill="#fff"/>
<rect x="261.4" y="205.3" width="3.6" height="3.6" fill="#fff"/>
<rect x="268.4" y="203.2" width="3.6" height="3.6" fill="#fff"/>
<rect x="270.2" y="203.7" width="3.6" height="3.6" fill="#fff"/>
<rect x="271.7" y="204.8" width="3.6" height="3.6" fill="#fff"/>
<rect x="242.3" y="210.8" width="3.6" height="3.6" fill="#fff"/>
<rect x="253.7" y="215.1" width="3.6" height="3.6" fill="#fff"/>
<rect x="276.0" y="212.4" width="3.6" height="3.6" fill="#fff"/>
<rect x="229.8" y="203.7" width="3.6" height="3.6" fill="#fff"/>
<rect x="88.6" y="68.7" width="3.6" height="3.6" fill="#fff"/>
<rect x="90.4" y="94.6" width="3.6" height="3.6" fill="#fff"/>
<rect x="106.5" y="118.6" width="3.6" height="3.6" fill="#fff"/>
<rect x="110.4" y="116.5" width="3.6" height="3.6" fill="#fff"/>
<rect x="185.2" y="73.0" width="3.6" height="3.6" fill="#fff"/>
<rect x="154.7" y="87.8" width="3.6" height="3.6" fill="#fff"/>
<rect x="173.9" y="113.9" width="3.6" height="3.6" fill="#fff"/>
<rect x="192.5" y="135.6" width="3.6" height="3.6" fill="#fff"/>
<rect x="223.5" y="146.5" width="3.6" height="3.6" fill="#fff"/>
<rect x="258.6" y="137.7" width="3.6" height="3.6" fill="#fff"/>
<rect x="245.6" y="144.3" width="3.6" height="3.6" fill="#fff"/>
<rect x="237.4" y="149.5" width="3.6" height="3.6" fill="#fff"/>
<rect x="214.8" y="149.5" width="3.6" height="3.6" fill="#fff"/>
<rect x="287.3" y="147.8" width="3.6" height="3.6" fill="#fff"/>
<rect x="287.8" y="147.7" width="3.6" height="3.6" fill="#fff"/>
<rect x="283.1" y="164.2" width="3.6" height="3.6" fill="#fff"/>
<rect x="302.5" y="163.3" width="3.6" height="3.6" fill="#fff"/>
<rect x="93.8" y="155.4" width="3.6" height="3.6" fill="#fff"/>
<rect x="107.5" y="171.5" width="3.6" height="3.6" fill="#fff"/>
<rect x="87.5" y="190.5" width="3.6" height="3.6" fill="#fff"/>
<rect x="159.7" y="156.9" width="3.6" height="3.6" fill="#fff"/>
<rect x="214.7" y="149.7" width="3.6" height="3.6" fill="#fff"/>
<rect x="209.7" y="178.6" width="3.6" height="3.6" fill="#fff"/>
<rect x="214.7" y="181.9" width="3.6" height="3.6" fill="#fff"/>
<rect x="142.3" y="192.8" width="3.6" height="3.6" fill="#fff"/>
<rect x="160.8" y="207.3" width="3.6" height="3.6" fill="#fff"/>
<rect x="228.5" y="163.4" width="3.6" height="3.6" fill="#fff"/>
<rect x="239.5" y="172.5" width="3.6" height="3.6" fill="#fff"/>
<rect x="209.9" y="178.2" width="3.6" height="3.6" fill="#fff"/>
<rect x="214.8" y="181.3" width="3.6" height="3.6" fill="#fff"/>
<rect x="226.5" y="179.4" width="3.6" height="3.6" fill="#fff"/>
<rect x="228.7" y="183.9" width="3.6" height="3.6" fill="#fff"/>
<rect x="230.8" y="184.6" width="3.6" height="3.6" fill="#fff"/>
<rect x="237.8" y="186.0" width="3.6" height="3.6" fill="#fff"/>
<rect x="247.9" y="181.3" width="3.6" height="3.6" fill="#fff"/>
<rect x="248.2" y="187.8" width="3.6" height="3.6" fill="#fff"/>
<rect x="245.2" y="192.1" width="3.6" height="3.6" fill="#fff"/>
<rect x="232.0" y="188.6" width="3.6" height="3.6" fill="#fff"/>
<rect x="233.9" y="195.2" width="3.6" height="3.6" fill="#fff"/>
<rect x="240.4" y="195.2" width="3.6" height="3.6" fill="#fff"/>
<rect x="249.9" y="195.6" width="3.6" height="3.6" fill="#fff"/>
<rect x="255.2" y="194.7" width="3.6" height="3.6" fill="#fff"/>
<rect x="256.9" y="188.6" width="3.6" height="3.6" fill="#fff"/>
<rect x="263.5" y="185.7" width="3.6" height="3.6" fill="#fff"/>
<rect x="264.4" y="189.5" width="3.6" height="3.6" fill="#fff"/>
<rect x="264.7" y="197.3" width="3.6" height="3.6" fill="#fff"/>
<rect x="256.9" y="202.2" width="3.6" height="3.6" fill="#fff"/>
<rect x="261.2" y="205.5" width="3.6" height="3.6" fill="#fff"/>
<rect x="268.2" y="203.1" width="3.6" height="3.6" fill="#fff"/>
<rect x="270.8" y="205.2" width="3.6" height="3.6" fill="#fff"/>
<rect x="228.7" y="203.8" width="3.6" height="3.6" fill="#fff"/>
<rect x="242.6" y="210.4" width="3.6" height="3.6" fill="#fff"/>
<rect x="253.8" y="215.6" width="3.6" height="3.6" fill="#fff"/>
<rect x="276.5" y="212.5" width="3.6" height="3.6" fill="#fff"/>
<rect x="283.0" y="164.3" width="3.6" height="3.6" fill="#fff"/>
<rect x="251.2" y="196.2" width="3.6" height="3.6" fill="#fff"/>
<rect x="253.2" y="195.2" width="3.6" height="3.6" fill="#fff"/>
<rect x="328.6" y="178.7" width="3.6" height="3.6" fill="#fff"/>
<rect x="293.5" y="198.7" width="3.6" height="3.6" fill="#fff"/>
<rect x="296.5" y="202.5" width="3.6" height="3.6" fill="#fff"/>
<rect x="356.5" y="189.5" width="3.6" height="3.6" fill="#fff"/>
<rect x="358.2" y="188.6" width="3.6" height="3.6" fill="#fff"/>
<rect x="295.6" y="252.8" width="3.6" height="3.6" fill="#fff"/>
<rect x="287.4" y="279.7" width="3.6" height="3.6" fill="#fff"/>
<rect x="369.5" y="337.3" width="3.6" height="3.6" fill="#fff"/>
<rect x="370.5" y="339.4" width="3.6" height="3.6" fill="#fff"/>
<rect x="368.2" y="361.7" width="3.6" height="3.6" fill="#fff"/>
<rect x="161.2" y="207.5" width="3.6" height="3.6" fill="#fff"/>
<rect x="88.2" y="190.6" width="3.6" height="3.6" fill="#fff"/>
<rect x="293.9" y="199.1" width="3.6" height="3.6" fill="#fff"/>
<rect x="296.5" y="203.0" width="3.6" height="3.6" fill="#fff"/>
<rect x="243.7" y="198.5" width="4" height="4" fill="#fff" stroke="#000" stroke-width="1.1"/>
<rect x="329.3" y="280.4" width="4" height="4" fill="#fff" stroke="#000" stroke-width="1.1"/>
<rect x="346.4" y="297.4" width="4" height="4" fill="#fff" stroke="#000" stroke-width="1.1"/>
<rect x="316.6" y="302.3" width="4" height="4" fill="#fff" stroke="#000" stroke-width="1.1"/>
<rect x="308.8" y="302.3" width="4" height="4" fill="#c8c8c8" stroke="#000" stroke-width="1.1"/>
<rect x="307.6" y="300.3" width="4" height="4" fill="#8080e0" stroke="#000" stroke-width="1.1"/>
<rect x="316.3" y="338.4" width="4" height="4" fill="#c0c0c0" stroke="#000" stroke-width="1.1"/>
<rect x="345.6" y="338.2" width="4" height="4" fill="#d0d0d0" stroke="#000" stroke-width="1.1"/>
<rect x="243.7" y="250.9" width="4" height="4" fill="#c0c0c0" stroke="#000" stroke-width="1.1"/>
<rect x="245.7" y="249.2" width="4" height="4" fill="#c8c8c8" stroke="#000" stroke-width="1.1"/>
</g>
<rect x="52.5" y="50.5" width="361.0" height="362.0" fill="none" stroke="#000" stroke-width="1"/>
<line x1="52.5" y1="412.5" x2="52.5" y2="408.0" stroke="#000" stroke-width="1"/>
<line x1="52.5" y1="50.5" x2="52.5" y2="55.0" stroke="#000" stroke-width="1"/>
<line x1="104.5" y1="412.5" x2="104.5" y2="408.0" stroke="#000" stroke-width="1"/>
<line x1="104.5" y1="50.5" x2="104.5" y2="55.0" stroke="#000" stroke-width="1"/>
<line x1="157.5" y1="412.5" x2="157.5" y2="408.0" stroke="#000" stroke-width="1"/>
<line x1="157.5" y1="50.5" x2="157.5" y2="55.0" stroke="#000" stroke-width="1"/>
<line x1="209.5" y1="412.5" x2="209.5" y2="408.0" stroke="#000" stroke-width="1"/>
<line x1="209.5" y1="50.5" x2="209.5" y2="55.0" stroke="#000" stroke-width="1"/>
<line x1="261.5" y1="412.5" x2="261.5" y2="408.0" stroke="#000" stroke-width="1"/>
<line x1="261.5" y1="50.5" x2="261.5" y2="55.0" stroke="#000" stroke-width="1"/>
<line x1="314.5" y1="412.5" x2="314.5" y2="408.0" stroke="#000" stroke-width="1"/>
<line x1="314.5" y1="50.5" x2="314.5" y2="55.0" stroke="#000" stroke-width="1"/>
<line x1="366.5" y1="412.5" x2="366.5" y2="408.0" stroke="#000" stroke-width="1"/>
<line x1="366.5" y1="50.5" x2="366.5" y2="55.0" stroke="#000" stroke-width="1"/>
<line x1="52.5" y1="78.5" x2="57.0" y2="78.5" stroke="#000" stroke-width="1"/>
<line x1="413.5" y1="78.5" x2="409.0" y2="78.5" stroke="#000" stroke-width="1"/>
<line x1="52.5" y1="134.5" x2="57.0" y2="134.5" stroke="#000" stroke-width="1"/>
<line x1="413.5" y1="134.5" x2="409.0" y2="134.5" stroke="#000" stroke-width="1"/>
<line x1="52.5" y1="189.5" x2="57.0" y2="189.5" stroke="#000" stroke-width="1"/>
<line x1="413.5" y1="189.5" x2="409.0" y2="189.5" stroke="#000" stroke-width="1"/>
<line x1="52.5" y1="245.5" x2="57.0" y2="245.5" stroke="#000" stroke-width="1"/>
<line x1="413.5" y1="245.5" x2="409.0" y2="245.5" stroke="#000" stroke-width="1"/>
<line x1="52.5" y1="300.5" x2="57.0" y2="300.5" stroke="#000" stroke-width="1"/>
<line x1="413.5" y1="300.5" x2="409.0" y2="300.5" stroke="#000" stroke-width="1"/>
<line x1="52.5" y1="356.5" x2="57.0" y2="356.5" stroke="#000" stroke-width="1"/>
<line x1="413.5" y1="356.5" x2="409.0" y2="356.5" stroke="#000" stroke-width="1"/>
<line x1="52.5" y1="412.5" x2="57.0" y2="412.5" stroke="#000" stroke-width="1"/>
<line x1="413.5" y1="412.5" x2="409.0" y2="412.5" stroke="#000" stroke-width="1"/>
<text x="52.5" y="430" font-family="Liberation Mono" font-weight="bold" font-size="11.67" text-anchor="middle">−86</text>
<text x="104.5" y="430" font-family="Liberation Mono" font-weight="bold" font-size="11.67" text-anchor="middle">−85.5</text>
<text x="157.5" y="430" font-family="Liberation Mono" font-weight="bold" font-size="11.67" text-anchor="middle">−85</text>
<text x="209.5" y="430" font-family="Liberation Mono" font-weight="bold" font-size="11.67" text-anchor="middle">−84.5</text>
<text x="261.5" y="430" font-family="Liberation Mono" font-weight="bold" font-size="11.67" text-anchor="middle">−84</text>
<text x="314.5" y="430" font-family="Liberation Mono" font-weight="bold" font-size="11.67" text-anchor="middle">−83.5</text>
<text x="366.5" y="430" font-family="Liberation Mono" font-weight="bold" font-size="11.67" text-anchor="middle">−83</text>
<text x="45" y="82.5" font-family="Liberation Mono" font-weight="bold" font-size="11.67" text-anchor="end">11</text>
<text x="45" y="138.5" font-family="Liberation Mono" font-weight="bold" font-size="11.67" text-anchor="end">10.5</text>
<text x="45" y="193.5" font-family="Liberation Mono" font-weight="bold" font-size="11.67" text-anchor="end">10</text>
<text x="45" y="249.5" font-family="Liberation Mono" font-weight="bold" font-size="11.67" text-anchor="end">9.5</text>
<text x="45" y="304.5" font-family="Liberation Mono" font-weight="bold" font-size="11.67" text-anchor="end">9</text>
<text x="45" y="360.5" font-family="Liberation Mono" font-weight="bold" font-size="11.67" text-anchor="end">8.5</text>
<text x="45" y="416.5" font-family="Liberation Mono" font-weight="bold" font-size="11.67" text-anchor="end">8</text>
<rect x="57.5" y="289.5" width="230.0" height="117.0" fill="#e5e5e5" stroke="#000" stroke-width="1"/>
<rect x="57.5" y="289.5" width="230.0" height="19" fill="#000"/>
<text x="88" y="304" font-family="Liberation Sans" font-size="13" letter-spacing="0.24" fill="#fff">INTENSIDAD JMA [0 a 7]</text>
<text x="60.3" y="325.1" font-family="Liberation Sans" font-size="9.8">[</text>
<text x="68.6" y="325.1" font-family="Liberation Sans" font-size="9.8">1</text>
<text x="76.4" y="325.1" font-family="Liberation Sans" font-size="9.8">]</text>
<text x="86.5" y="325.1" font-family="Liberation Sans" font-size="9.8" letter-spacing="0.36">Hosp. Osa (2.4 cm/s<tspan font-size="6.8" dy="-4">2</tspan><tspan dy="4">)</tspan></text>
<text x="60.3" y="339.6" font-family="Liberation Sans" font-size="9.8">[</text>
<text x="68.6" y="339.6" font-family="Liberation Sans" font-size="9.8">1</text>
<text x="76.4" y="339.6" font-family="Liberation Sans" font-size="9.8">]</text>
<text x="86.5" y="339.6" font-family="Liberation Sans" font-size="9.8" letter-spacing="0.36">Puerto Cortes (1.3 cm/s<tspan font-size="6.8" dy="-4">2</tspan><tspan dy="4">)</tspan></text>
<text x="60.3" y="354.1" font-family="Liberation Sans" font-size="9.8">[</text>
<text x="68.6" y="354.1" font-family="Liberation Sans" font-size="9.8">1</text>
<text x="76.4" y="354.1" font-family="Liberation Sans" font-size="9.8">]</text>
<text x="86.5" y="354.1" font-family="Liberation Sans" font-size="9.8" letter-spacing="0.36">La Palma. Osa (1.3 cm/s<tspan font-size="6.8" dy="-4">2</tspan><tspan dy="4">)</tspan></text>
<text x="60.3" y="368.5" font-family="Liberation Sans" font-size="9.8">[</text>
<text x="68.6" y="368.5" font-family="Liberation Sans" font-size="9.8">1</text>
<text x="76.4" y="368.5" font-family="Liberation Sans" font-size="9.8">]</text>
<text x="86.5" y="368.5" font-family="Liberation Sans" font-size="9.8" letter-spacing="0.36">Golfito CTP (1.1 cm/s<tspan font-size="6.8" dy="-4">2</tspan><tspan dy="4">)</tspan></text>
<text x="60.3" y="383.0" font-family="Liberation Sans" font-size="9.8">[</text>
<text x="68.6" y="383.0" font-family="Liberation Sans" font-size="9.8">1</text>
<text x="76.4" y="383.0" font-family="Liberation Sans" font-size="9.8">]</text>
<text x="86.5" y="383.0" font-family="Liberation Sans" font-size="9.8" letter-spacing="0.36">Bomberos Quepos (1.5 cm/s<tspan font-size="6.8" dy="-4">2</tspan><tspan dy="4">)</tspan></text>
<text x="60.3" y="397.5" font-family="Liberation Sans" font-size="9.8">[</text>
<text x="68.6" y="397.5" font-family="Liberation Sans" font-size="9.8">0</text>
<text x="76.4" y="397.5" font-family="Liberation Sans" font-size="9.8">]</text>
<text x="86.5" y="397.5" font-family="Liberation Sans" font-size="9.8" letter-spacing="0.36">Hosp. Quepos (0.8 cm/s<tspan font-size="6.8" dy="-4">2</tspan><tspan dy="4">)</tspan></text>
<defs><linearGradient id="cb" x1="0" y1="0" x2="0" y2="1"><stop offset="0.0" stop-color="#000"/><stop offset="0.0097" stop-color="#000"/><stop offset="0.0262" stop-color="#300"/><stop offset="0.0483" stop-color="#600"/><stop offset="0.076" stop-color="#a00"/><stop offset="0.1036" stop-color="#e00"/><stop offset="0.1257" stop-color="#f20"/><stop offset="0.1423" stop-color="#f40"/><stop offset="0.1754" stop-color="#f70"/><stop offset="0.2196" stop-color="#f90"/><stop offset="0.261" stop-color="#fb0"/><stop offset="0.2859" stop-color="#fc0"/><stop offset="0.3163" stop-color="#fe0"/><stop offset="0.3412" stop-color="#ff0"/><stop offset="0.355" stop-color="#cf0"/><stop offset="0.3688" stop-color="#6e0"/><stop offset="0.3854" stop-color="#1e1"/><stop offset="0.4047" stop-color="#0f2"/><stop offset="0.4296" stop-color="#0f4"/><stop offset="0.4682" stop-color="#0f7"/><stop offset="0.5235" stop-color="#0fb"/><stop offset="0.5511" stop-color="#0fd"/><stop offset="0.5732" stop-color="#0ff"/><stop offset="0.5953" stop-color="#0ef"/><stop offset="0.6119" stop-color="#0cf"/><stop offset="0.634" stop-color="#09f"/><stop offset="0.6616" stop-color="#04f"/><stop offset="0.6892" stop-color="#01f"/><stop offset="0.7113" stop-color="#00e"/><stop offset="0.7279" stop-color="#22e"/><stop offset="0.7583" stop-color="#44d"/><stop offset="0.7942" stop-color="#66c"/><stop offset="0.8273" stop-color="#88c"/><stop offset="0.855" stop-color="#99b"/><stop offset="0.8771" stop-color="#aab"/><stop offset="0.9047" stop-color="#bbb"/><stop offset="0.9378" stop-color="#ccc"/><stop offset="0.9655" stop-color="#e0e0e0"/><stop offset="1.0" stop-color="#f8f8f8"/></linearGradient></defs>
<rect x="422.5" y="50.5" width="19.0" height="362.0" fill="url(#cb)" stroke="#000" stroke-width="1"/>
<text x="454" y="416.0" font-family="Liberation Mono" font-weight="bold" font-size="11.67">0</text>
<line x1="422.5" y1="360.8" x2="426.5" y2="360.8" stroke="#000" stroke-width="1"/>
<line x1="441.5" y1="360.8" x2="437.5" y2="360.8" stroke="#000" stroke-width="1"/>
<text x="454" y="364.3" font-family="Liberation Mono" font-weight="bold" font-size="11.67">1</text>
<line x1="422.5" y1="309.1" x2="426.5" y2="309.1" stroke="#000" stroke-width="1"/>
<line x1="441.5" y1="309.1" x2="437.5" y2="309.1" stroke="#000" stroke-width="1"/>
<text x="454" y="312.6" font-family="Liberation Mono" font-weight="bold" font-size="11.67">2</text>
<line x1="422.5" y1="257.4" x2="426.5" y2="257.4" stroke="#000" stroke-width="1"/>
<line x1="441.5" y1="257.4" x2="437.5" y2="257.4" stroke="#000" stroke-width="1"/>
<text x="454" y="260.9" font-family="Liberation Mono" font-weight="bold" font-size="11.67">3</text>
<line x1="422.5" y1="205.6" x2="426.5" y2="205.6" stroke="#000" stroke-width="1"/>
<line x1="441.5" y1="205.6" x2="437.5" y2="205.6" stroke="#000" stroke-width="1"/>
<text x="454" y="209.1" font-family="Liberation Mono" font-weight="bold" font-size="11.67">4</text>
<line x1="422.5" y1="153.9" x2="426.5" y2="153.9" stroke="#000" stroke-width="1"/>
<line x1="441.5" y1="153.9" x2="437.5" y2="153.9" stroke="#000" stroke-width="1"/>
<text x="454" y="157.4" font-family="Liberation Mono" font-weight="bold" font-size="11.67">5</text>
<line x1="422.5" y1="102.2" x2="426.5" y2="102.2" stroke="#000" stroke-width="1"/>
<line x1="441.5" y1="102.2" x2="437.5" y2="102.2" stroke="#000" stroke-width="1"/>
<text x="454" y="105.7" font-family="Liberation Mono" font-weight="bold" font-size="11.67">6</text>
<text x="454" y="54.0" font-family="Liberation Mono" font-weight="bold" font-size="11.67">7</text>
<text transform="translate(475.6,74.5) rotate(-90)" font-family="Liberation Mono" font-weight="bold" font-size="11.67" text-anchor="middle">Muy Fuerte</text>
<text transform="translate(475.6,153.4) rotate(-90)" font-family="Liberation Mono" font-weight="bold" font-size="11.67" text-anchor="middle">Fuerte</text>
<text transform="translate(475.6,233) rotate(-90)" font-family="Liberation Mono" font-weight="bold" font-size="11.67" text-anchor="middle">Moderado</text>
<text transform="translate(475.6,304.8) rotate(-90)" font-family="Liberation Mono" font-weight="bold" font-size="11.67" text-anchor="middle">Debil</text>
<text transform="translate(475.6,378.4) rotate(-90)" font-family="Liberation Mono" font-weight="bold" font-size="11.67" text-anchor="middle">No sentido</text>
<line x1="506.75" y1="50.5" x2="651" y2="50.5" stroke="#0a6a0a" stroke-width="0.9"/>
<path d="M507.8,50.5 507.9,50.6 508.1,50.5 508.3,50.4 508.5,50.5 508.7,50.5 508.9,50.6 509.1,50.5 509.3,50.5 509.5,50.5 509.7,50.5 509.9,50.5 510.1,50.5 510.3,50.6 510.5,50.5 510.7,50.3 510.9,50.5 511.1,50.7 511.3,50.7 511.5,50.4 511.7,50.3 511.9,50.3 512.1,50.5 512.3,50.7 512.5,50.7 512.7,50.5 512.9,50.3 513.1,50.4 513.3,50.6 513.5,50.7 513.7,50.6 513.9,50.4 514.1,50.4 514.3,50.5 514.5,50.6 514.7,50.6 514.9,50.5 515.1,50.5 515.3,50.5 515.5,50.5 515.7,50.6 515.9,50.5 516.1,50.5 516.3,50.5 516.5,50.5 516.7,50.5 516.9,50.6 517.1,50.5 517.3,50.4 517.5,50.5 517.7,50.5 517.9,50.6 518.1,50.6 518.3,50.6 518.5,50.5 518.7,50.4 518.9,50.5 519.1,50.6 519.3,50.6 519.5,50.5 519.7,50.5 519.9,50.5 520.1,50.5 520.3,50.6 520.5,50.5 520.7,50.5 520.9,50.4 521.1,50.5 521.3,50.6 521.5,50.6 521.7,50.5 521.9,50.5 522.1,50.4 522.3,50.5 522.5,50.5 522.7,50.6 522.9,50.5 523.1,50.4 523.3,50.4 523.5,50.5 523.7,50.5 523.9,50.5 524.1,50.5 524.3,50.5 524.5,50.4 524.7,50.5 524.9,50.5 525.1,50.5 525.3,50.5 525.5,50.5 525.7,50.4 525.9,50.5 526.1,50.7 526.3,50.5 526.5,50.5 526.7,50.5 526.9,50.4 527.1,50.6 527.3,50.7 527.5,50.6 527.7,50.4 527.9,50.4 528.1,50.4 528.3,50.6 528.5,50.5 528.7,50.5 528.9,50.4 529.1,50.5 529.3,50.5 529.5,50.5 529.7,50.5 529.9,50.5 530.1,50.4 530.3,50.5 530.5,50.6 530.7,50.5 530.9,50.5 531.1,50.5 531.3,50.5 531.5,50.5 531.7,50.6 531.9,50.6 532.1,50.4 532.3,50.3 532.5,50.4 532.7,50.7 532.9,50.7 533.1,50.6 533.3,50.4 533.5,50.4 533.7,50.4 533.9,50.5 534.1,50.5 534.3,50.6 534.5,50.5 534.7,50.4 534.9,50.5 535.1,50.5 535.3,50.6 535.5,50.5 535.7,50.4 535.9,50.4 536.1,50.4 536.3,50.5 536.5,50.6 536.7,50.6 536.9,50.5 537.1,50.4 537.3,50.5 537.5,50.5 537.7,50.5 537.9,50.5 538.1,50.4 538.3,50.3 538.5,50.5 538.7,50.6 538.9,50.6 539.1,50.4 539.3,50.4 539.5,50.5 539.7,50.5 539.9,50.5 540.1,50.5 540.3,50.5 540.5,50.4 540.7,50.4 540.9,50.5 541.1,50.7 541.3,50.6 541.5,50.4 541.7,50.4 541.9,50.5 542.1,50.6 542.3,50.6 542.5,50.5 542.7,50.4 542.9,50.4 543.1,50.5 543.3,50.6 543.5,50.5 543.7,50.5 543.9,50.4 544.1,50.5 544.3,50.5 544.5,50.6 544.7,50.6 544.9,50.5 545.1,50.5 545.3,50.4 545.5,50.5 545.7,50.6 545.9,50.6 546.1,50.5 546.3,50.4 546.5,50.4 546.7,50.7 546.9,50.7 547.1,50.5 547.3,50.4 547.5,50.3 547.7,50.5 547.9,50.6 548.1,50.7 548.3,50.4 548.5,50.4 548.7,50.4 548.9,50.6 549.1,50.6 549.3,50.5 549.5,50.4 549.7,50.3 549.9,50.4 550.1,50.6 550.3,50.7 550.5,50.6 550.7,50.4 550.9,50.3 551.1,50.4 551.3,50.6 551.5,50.7 551.7,50.6 551.9,50.4 552.1,50.3 552.3,50.5 552.5,50.7 552.7,50.7 552.9,50.5 553.1,50.4 553.3,50.4 553.5,50.6 553.7,50.7 553.9,50.5 554.1,50.4 554.3,50.5 554.5,50.5 554.7,50.6 554.9,50.5 555.1,50.5 555.3,50.5 555.5,50.4 555.7,50.5 555.9,50.6 556.1,50.5 556.3,50.5 556.5,50.4 556.7,50.4 556.9,50.5 557.1,50.7 557.3,50.6 557.5,50.3 557.7,50.3 557.9,50.4 558.1,50.7 558.3,50.7 558.5,50.5 558.7,50.5 558.9,50.5 559.1,50.5 559.3,50.5 559.5,50.5 559.7,50.4 559.9,50.4 560.1,50.5 560.3,50.5 560.5,50.6 560.7,50.5 560.9,50.5 561.1,50.4 561.3,50.5 561.5,50.5 561.7,50.6 561.9,50.5 562.1,50.4 562.3,50.4 562.5,50.5 562.7,50.5 562.9,50.6 563.1,50.5 563.3,50.4 563.5,50.4 563.7,50.5 563.9,50.6 564.1,50.5 564.3,50.5 564.5,50.4 564.7,50.5 564.9,50.6 565.1,50.5 565.3,50.5 565.5,50.4 565.7,50.4 565.9,50.6 566.1,50.6 566.3,50.5 566.5,50.4 566.7,50.3 566.9,50.4 567.1,50.5 567.3,50.6 567.5,50.6 567.7,50.5 567.9,50.5 568.1,50.5 568.3,50.6 568.5,50.6 568.7,50.5 568.9,50.5 569.1,50.5 569.3,50.5 569.5,50.5 569.7,50.5 569.9,50.5 570.1,50.4 570.3,50.4 570.5,50.5 570.7,50.6 570.9,50.6 571.1,50.6 571.3,50.4 571.5,50.5 571.7,50.5 571.9,50.5 572.1,50.5 572.3,50.4 572.5,50.5 572.7,50.5 572.9,50.6 573.1,50.5 573.3,50.5 573.5,50.5 573.7,50.5 573.9,50.5 574.1,50.6 574.3,50.5 574.5,50.5 574.7,50.4 574.9,50.5 575.1,50.5 575.3,50.6 575.5,50.7 575.7,50.6 575.9,50.4 576.1,50.4 576.3,50.5 576.5,50.6 576.7,50.6 576.9,50.5 577.1,50.4 577.3,50.4 577.5,50.5 577.7,50.5 577.9,50.5 578.1,50.5 578.3,50.4 578.5,50.5 578.7,50.5 578.9,50.5 579.1,50.5 579.3,50.4 579.5,50.4 579.7,50.5 579.9,50.6 580.1,50.6 580.3,50.5 580.5,50.4 580.7,50.4 580.9,50.5 581.1,50.6 581.3,50.7 581.5,50.5 581.7,50.3 581.9,50.5 582.1,50.5 582.3,50.6 582.5,50.5 582.7,50.5 582.9,50.5 583.1,50.5 583.3,50.5 583.5,50.5 583.7,50.6 583.9,50.5 584.1,50.4 584.3,50.5 584.5,50.5 584.7,50.6 584.9,50.6 585.1,50.5 585.3,50.4 585.5,50.5 585.7,50.4 585.9,50.6 586.1,50.6 586.3,50.6 586.5,50.4 586.7,50.4 586.9,50.5 587.1,50.6 587.3,50.5 587.5,50.5 587.7,50.5 587.9,50.5 588.1,50.5 588.3,50.6 588.5,50.5 588.7,50.5 588.9,50.4 589.1,50.5 589.3,50.5 589.5,50.5 589.7,50.6 589.9,50.5 590.1,50.5 590.3,50.4 590.5,50.4 590.7,50.6 590.9,50.6 591.1,50.5 591.3,50.5 591.5,50.5 591.7,50.4 591.9,50.5 592.1,50.5 592.3,50.6 592.5,50.4 592.7,50.4 592.9,50.5 593.1,50.5 593.3,50.6 593.5,50.6 593.7,50.4 593.9,50.3 594.1,50.3 594.3,50.6 594.5,50.7 594.7,50.6 594.9,50.5 595.1,50.3 595.3,50.3 595.5,50.5 595.7,50.6 595.9,50.5 596.1,50.5 596.3,50.5 596.5,50.5 596.7,50.5 596.9,50.5 597.1,50.5 597.3,50.4 597.5,50.5 597.7,50.5 597.9,50.6 598.1,50.5 598.3,50.5 598.5,50.5 598.7,50.5 598.9,50.5 599.1,50.6 599.3,50.6 599.5,50.5 599.7,50.3 599.9,50.4 600.1,50.5 600.3,50.7 600.5,50.6 600.7,50.4 600.9,50.3 601.1,50.3 601.3,50.5 601.5,50.7 601.7,50.7 601.9,50.5 602.1,50.4 602.3,50.4 602.5,50.4 602.7,50.6 602.9,50.6 603.1,50.5 603.3,50.5 603.5,50.4 603.7,50.4 603.9,50.5 604.1,50.6 604.3,50.5 604.5,50.5 604.7,50.4 604.9,50.4 605.1,50.5 605.3,50.6 605.5,50.6 605.7,50.4 605.9,50.4 606.1,50.4 606.3,50.6 606.5,50.7 606.7,50.6 606.9,50.4 607.1,50.4 607.3,50.4 607.5,50.6 607.7,50.6 607.9,50.6 608.1,50.5 608.3,50.4 608.5,50.4 608.7,50.5 608.9,50.6 609.1,50.6 609.3,50.5 609.5,50.3 609.7,50.4 609.9,50.5 610.1,50.5 610.3,50.6 610.5,50.5 610.7,50.4 610.9,50.5 611.1,50.5 611.3,50.6 611.5,50.5 611.7,50.5 611.9,50.4 612.1,50.4 612.3,50.5 612.5,50.6 612.7,50.6 612.9,50.4 613.1,50.4 613.3,50.5 613.5,50.6 613.7,50.6 613.9,50.4 614.1,50.3 614.3,50.4 614.5,50.5 614.7,50.7 614.9,50.7 615.1,50.6 615.3,50.4 615.5,50.3 615.7,50.4 615.9,50.6 616.1,50.7 616.3,50.6 616.5,50.5 616.7,50.4 616.9,50.4 617.1,50.5 617.3,50.6 617.5,50.6 617.7,50.4 617.9,50.4 618.1,50.5 618.3,50.6 618.5,50.5 618.7,50.5 618.9,50.5 619.1,50.5 619.3,50.5 619.5,50.5 619.7,50.5 619.9,50.5 620.1,50.5 620.3,50.5 620.5,50.5 620.7,50.6 620.9,50.5 621.1,50.5 621.3,50.4 621.5,50.5 621.7,50.5 621.9,50.5 622.1,50.6 622.3,50.3 622.5,50.3 622.7,50.5 622.9,50.7 623.1,50.7 623.3,50.5 623.5,50.4 623.7,50.4 623.9,50.5 624.1,50.6 624.3,50.6 624.5,50.5 624.7,50.4 624.9,50.5 625.1,50.5 625.3,50.5 625.5,50.6 625.7,50.5 625.9,50.4 626.1,50.4 626.3,50.6 626.5,50.6 626.7,50.5 626.9,50.4 627.1,50.5 627.3,50.5 627.5,50.5 627.7,50.6 627.9,50.4 628.1,50.3 628.3,50.4 628.5,50.6 628.7,50.7 628.9,50.7 629.1,50.4 629.3,50.3 629.5,50.4 629.7,50.6 629.9,50.6 630.1,50.5 630.3,50.4 630.5,50.5 630.7,50.5 630.9,50.5 631.1,50.5 631.3,50.4 631.5,50.4 631.7,50.4 631.9,50.6 632.1,50.7 632.3,50.6 632.5,50.3 632.7,50.3 632.9,50.5 633.1,50.6 633.3,50.6 633.5,50.4 633.7,50.3 633.9,50.4 634.1,50.5 634.3,50.6 634.5,50.6 634.7,50.4 634.9,50.5 635.1,50.5 635.3,50.6 635.5,50.6 635.7,50.5 635.9,50.4 636.1,50.4 636.3,50.5 636.5,50.6 636.7,50.5 636.9,50.5 637.1,50.4 637.3,50.4 637.5,50.5 637.7,50.5 637.9,50.5 638.1,50.5 638.3,50.5 638.5,50.4 638.7,50.5 638.9,50.6 639.1,50.5 639.3,50.5 639.5,50.5 639.7,50.5 639.9,50.5 640.1,50.7 640.3,50.6 640.5,50.4 640.7,50.3 640.9,50.4 641.1,50.6 641.3,50.7 641.5,50.6 641.7,50.5 641.9,50.4 642.1,50.4 642.3,50.6 642.5,50.7 642.7,50.5 642.9,50.4 643.1,50.3 643.3,50.4 643.5,50.5 643.7,50.5 643.9,50.5 644.1,50.5 644.3,50.5 644.5,50.5 644.7,50.5 644.9,50.6 645.1,50.6 645.3,50.5 645.5,50.4 645.7,50.6 645.9,50.7 646.1,50.6 646.3,50.5 646.5,50.4 646.7,50.4 646.9,50.6 647.1,50.7 647.3,50.7 647.5,50.5 647.7,50.3 647.9,50.4 648.1,50.6 648.3,50.7 648.5,50.6 648.7,50.3 648.9,50.3 649.1,50.5 649.3,50.6 649.5,50.6 649.7,50.6 649.9,50.4 650.1,50.5 650.3,50.5 650.5,50.7 650.7,51.2 650.9,51.7 651.1,49.9 651.3,47.2 651.5,45.1 651.7,48.7 651.9,52.0 652.1,52.6 652.3,51.6 652.5,50.5 652.7,49.9 652.9,49.7 653.1,50.2 653.3,51.7 653.5,51.9 653.7,50.9 653.9,46.6 654.1,45.4 654.3,48.6 654.5,53.7 654.7,54.4 654.9,52.9 655.1,49.5 655.3,47.8 655.5,48.3 655.7,52.9 655.9,52.3 656.1,51.0 656.3,49.7 656.5,47.4 656.7,48.1 656.9,51.6 657.1,55.1 657.3,55.6 657.5,50.5 657.7,48.6 657.9,49.5 658.1,50.3 658.3,50.8 658.5,52.9 658.7,50.8 658.9,50.3 659.1,50.0 659.3,49.8 659.5,51.0 659.7,51.4 659.9,51.7 660.1,49.1 660.3,49.5 660.5,50.1 660.7,52.6 660.9,52.0 661.1,50.1 661.3,48.8 661.5,48.4 661.7,51.0 661.9,51.4 662.1,51.0 662.3,48.6 662.5,49.7 662.7,50.5 662.9,51.1 663.1,52.0 663.3,50.6 663.5,50.0 663.7,48.9 663.9,50.5 664.1,52.9 664.3,54.6 664.5,52.2 664.7,47.3 664.9,46.4 665.1,49.8 665.3,52.3 665.5,53.0 665.7,50.9 665.9,48.8 666.1,48.6 666.3,49.7 666.5,52.2 666.7,53.3 666.9,50.1 667.1,45.5 667.3,48.9 667.5,51.9 667.7,52.7 667.9,50.7 668.1,49.9 668.3,49.3 668.5,49.1 668.7,52.7 668.9,53.9 669.1,51.3 669.3,49.7 669.5,49.6 669.7,49.7 669.9,50.6 670.1,51.3 670.3,51.5 670.5,50.3 670.7,48.4 670.9,47.8 671.1,49.4 671.3,52.9 671.5,52.7 671.7,51.3 671.9,47.7 672.1,47.8 672.3,51.2 672.5,51.4 672.7,51.5 672.9,49.3 673.1,49.2 673.3,50.1 673.5,51.8 673.7,51.4 673.9,50.5 674.1,49.8 674.3,46.7 674.5,48.6 674.7,53.6 674.9,55.2 675.1,52.1 675.3,47.7 675.5,45.5 675.7,49.4 675.9,55.1 676.1,54.9 676.3,50.9 676.5,48.0 676.7,49.7 676.9,51.5 677.1,52.0 677.3,51.1 677.5,49.5 677.7,48.8 677.9,50.4 678.1,51.7 678.3,50.8 678.5,50.4 678.7,49.6 678.9,49.8 679.1,50.6 679.3,54.4 679.5,53.8 679.7,50.9 679.9,48.5 680.1,47.5 680.3,50.2 680.5,52.7 680.7,52.2 680.9,50.6 681.1,49.0 681.3,49.5 681.5,50.5 681.7,51.3 681.9,50.7 682.1,49.8 682.3,48.5 682.5,50.4 682.7,54.6 682.9,54.5 683.1,49.3 683.3,46.0 683.5,47.5 683.7,50.5 683.9,53.8 684.1,53.5 684.3,50.7 684.5,48.5 684.7,49.3 684.9,50.7 685.1,51.4 685.3,50.7 685.5,49.8 685.7,49.5 685.9,50.4 686.1,51.9 686.3,51.6 686.5,50.4 686.7,49.1 686.9,48.7 687.1,50.0 687.3,50.8 687.5,54.1 687.7,52.8 687.9,49.4 688.1,45.7 688.3,48.0 688.5,54.3 688.7,54.0 688.9,50.0 689.1,48.5 689.3,47.8 689.5,50.4 689.7,52.2 689.9,52.9 690.1,51.3 690.3,49.1 690.5,48.1 690.7,48.8 690.9,51.3 691.1,51.6 691.3,50.7 691.5,49.9 691.7,50.0 691.9,50.4 692.1,51.1 692.3,50.8 692.5,49.8 692.7,48.6 692.9,50.4 693.1,51.1 693.3,50.9 693.5,51.6 693.7,50.0 693.9,50.0 694.1,50.1 694.3,51.8 694.5,51.0 694.7,50.6 694.9,50.1 695.1,48.8 695.3,50.4 695.5,51.3 695.7,51.4 695.9,48.8 696.1,49.2 696.3,49.9 696.5,50.6 696.7,51.3 696.9,51.7 697.1,49.7 697.3,49.4 697.5,49.7 697.7,50.6 697.9,52.6 698.1,53.4 698.3,53.0 698.5,47.7 698.7,45.5 698.9,48.7 699.1,53.6 699.3,55.4 699.5,51.3 699.7,48.1 699.9,49.5 700.1,50.4 700.3,52.5 700.5,53.4 700.7,50.6 700.9,49.9 701.1,47.4 701.3,46.8 701.5,51.2 701.7,52.4 701.9,52.1 702.1,51.3 702.3,50.7 702.5,48.2 702.7,47.4 702.9,45.1 703.1,48.8 703.3,52.0 703.5,55.7 703.7,57.7 703.9,53.3 704.1,50.6 704.3,49.1 704.5,49.5 704.7,48.3 704.9,46.9 705.1,51.2 705.3,55.1 705.5,55.1 705.7,54.1 705.9,50.9 706.1,49.9 706.3,47.5 706.5,49.4 706.7,49.5 706.9,51.2 707.1,51.8 707.3,51.9 707.5,51.9 707.7,52.6 707.9,49.1 708.1,42.7 708.3,39.2 708.5,38.7 708.7,44.8 708.9,49.6 709.1,61.8 709.3,64.2 709.5,55.9 709.7,44.0 709.9,30.8 710.1,26.7 710.3,42.7 710.5,69.1 710.7,73.8 710.9,69.4 711.1,49.4 711.3,31.4 711.5,23.9 711.7,33.3 711.9,51.6 712.1,69.8 712.3,73.8 712.5,63.3 712.7,34.7 712.9,23.9 713.1,28.3 713.3,53.1 713.5,61.2 713.7,59.9 713.9,52.5 714.1,42.6 714.3,37.1 714.5,41.0 714.7,59.6 714.9,67.0 715.1,65.6 715.3,48.9 715.5,33.7 715.7,43.1 715.9,49.0 716.1,58.9 716.3,60.9 716.5,57.0 716.7,48.8 716.9,31.8 717.1,27.2 717.3,47.1 717.5,57.9 717.7,58.8 717.9,60.9 718.1,53.5 718.3,43.2 718.5,35.6 718.7,43.9 718.9,55.8 719.1,63.6 719.3,58.0 719.5,46.3 719.7,34.6 719.9,33.9 720.1,52.4 720.3,68.1 720.5,73.8 720.7,67.0 720.9,46.5 721.1,39.9 721.3,43.4 721.5,48.5 721.7,60.1 721.9,64.6 722.1,57.0 722.3,53.5 722.5,50.5 722.7,48.5 722.9,44.3 723.1,37.2 723.3,34.1 723.5,39.5 723.7,47.6 723.9,53.2 724.1,56.4 724.3,59.0 724.5,58.1 724.7,54.0 724.9,52.7 725.1,49.6 725.3,47.8 725.5,43.4 725.7,41.1 725.9,42.2 726.1,49.6 726.3,51.5 726.5,53.3 726.7,60.1 726.9,56.7 727.1,58.2 727.3,58.6 727.5,52.1 727.7,44.4 727.9,37.5 728.1,38.7 728.3,45.9 728.5,45.9 728.7,48.8 728.9,51.0 729.1,54.5 729.3,59.3 729.5,56.7 729.7,54.0 729.9,48.2 730.1,46.4 730.3,44.5 730.5,47.4 730.7,49.8 730.9,50.1 731.1,51.9 731.3,54.5 731.5,58.2 731.7,53.1 731.9,54.0 732.1,51.7 732.3,50.0 732.5,48.4 732.7,46.2 732.9,47.6 733.1,46.6 733.3,50.5 733.5,54.4 733.7,61.5 733.9,63.1 734.1,64.1 734.3,57.2 734.5,48.0 734.7,45.1 734.9,36.7 735.1,35.3 735.3,46.2 735.5,49.3 735.7,50.9 735.9,55.1 736.1,61.6 736.3,63.7 736.5,61.6 736.7,55.0 736.9,48.4 737.1,42.2 737.3,39.5 737.5,41.2 737.7,49.1 737.9,47.8 738.1,50.3 738.3,51.4 738.5,53.6 738.7,53.0 738.9,52.0 739.1,51.4 739.3,48.1 739.5,45.1 739.7,45.9 739.9,44.2 740.1,48.8 740.3,53.7 740.5,55.4 740.7,59.6 740.9,60.3 741.1,55.3 741.3,49.8 741.5,47.6 741.7,47.1 741.9,41.0 742.1,40.9 742.3,48.9 742.5,52.4 742.7,58.3 742.9,61.7 743.1,61.2 743.3,56.0 743.5,50.4 743.7,47.2 743.9,41.4 744.1,41.5 744.3,44.3 744.5,46.7 744.7,53.5 744.9,57.8 745.1,57.6 745.3,54.3 745.5,51.9 745.7,49.9 745.9,46.2 746.1,43.5 746.3,48.9 746.5,55.5 746.7,58.0 746.9,57.5 747.1,52.9 747.3,48.9 747.5,48.3 747.7,50.2 747.9,51.5 748.1,54.9 748.3,54.4 748.5,50.9 748.7,48.8 748.9,49.0 749.1,51.3 749.3,52.9 749.5,50.9 749.7,50.0 749.9,48.5 750.1,48.3 750.3,51.3 750.5,51.0 750.7,51.4 750.9,49.6 751.1,47.1 751.3,49.2 751.5,50.6 751.7,55.5 751.9,54.5 752.1,50.6 752.3,49.4 752.5,49.7 752.7,50.5 752.9,51.4 753.1,51.0 753.3,50.5 753.5,47.0 753.7,47.5 753.9,49.5 754.1,54.4 754.3,55.7 754.5,51.5 754.7,46.7 754.9,48.1 755.1,50.2 755.3,51.5 755.5,52.2 755.7,50.8 755.9,49.6 756.1,48.2 756.3,48.5 756.5,52.5 756.7,54.3 756.9,51.8 757.1,50.6 757.3,49.9 757.5,48.0 757.7,49.1 757.9,51.2 758.1,54.3 758.3,53.7 758.5,50.0 758.7,50.0 758.9,50.5 759.1,51.2 759.3,51.4 759.5,50.7 759.7,50.0 759.9,49.8 760.1,51.0 760.3,52.4 760.5,51.2 760.7,50.9 760.9,50.0 761.1,50.0 761.3,48.6 761.5,51.4 761.7,55.1 761.9,53.5 762.1,49.1 762.3,45.8 762.5,47.2 762.7,52.6 762.9,54.4 763.1,54.4 763.3,50.8 763.5,48.0 763.7,46.9 763.9,48.6 764.1,52.5 764.3,54.1 764.5,54.5 764.7,51.7 764.9,47.6 765.1,47.5 765.3,49.8 765.5,50.6 765.7,51.3 765.9,51.3 766.1,50.5 766.3,50.0 766.5,47.9 766.7,49.9 766.9,54.1 767.1,54.5 767.3,53.4 767.5,49.4 767.7,48.1 767.9,48.4 768.1,50.3 768.3,51.1 768.5,52.0 768.7,50.7 768.9,49.9 769.1,49.9 769.3,50.6 769.5,52.6 769.7,51.6 769.9,50.7 770.1,49.0 770.3,49.3 770.5,50.6 770.7,53.8 770.9,53.7 771.1,50.4 771.3,49.0 771.5,50.1 771.7,51.0 771.9,52.0 772.1,53.4 772.3,50.1 772.5,46.5 772.7,49.8 772.9,50.7 773.1,54.0 773.3,55.7 773.5,50.3 773.7,46.4 773.9,46.8 774.1,48.3 774.3,52.6 774.5,54.9 774.7,52.3 774.9,50.5 775.1,49.3 775.3,49.2 775.5,49.8 775.7,51.9 775.9,51.2 776.1,51.1 776.3,49.2 776.5,45.7 776.7,45.2 776.9,49.4 777.1,55.8 777.3,56.2 777.5,52.6 777.7,46.5 777.9,46.0 778.1,47.6 778.3,53.5 778.5,52.5 778.7,50.5 778.9,49.5 779.1,47.7 779.3,50.1 779.5,52.4 779.7,52.2 779.9,50.6 780.1,49.3 780.3,47.9 780.5,48.5 780.7,50.9 780.9,53.3 781.1,52.8 781.3,50.1 781.5,49.7 781.7,47.8 781.9,50.8 782.1,50.9 782.3,51.9 782.5,50.4 782.7,46.9 782.9,47.5 783.1,51.2 783.3,53.8 783.5,50.9 783.7,50.0 783.9,49.9 784.1,46.9 784.3,48.6 784.5,53.5 784.7,52.4 784.9,53.3 785.1,50.2 785.3,49.7 785.5,48.8 785.7,50.4 785.9,52.1 786.1,51.5 786.3,51.0 786.5,46.1 786.7,46.0 786.9,50.8 787.1,54.5 787.3,55.1 787.5,50.8 787.7,49.7 787.9,47.9 788.1,48.2 788.3,53.8 788.5,56.4 788.7,55.0 788.9,50.3 789.1,47.8" fill="none" stroke="#006400" stroke-width="0.6"/>
<rect x="506.75" y="21.15" width="283.1" height="53.7" fill="none" stroke="#000" stroke-width="1.7"/>
<line x1="518.2" y1="21.15" x2="518.2" y2="16.15" stroke="#000" stroke-width="0.8"/>
<line x1="518.2" y1="74.85" x2="518.2" y2="79.85" stroke="#000" stroke-width="0.8"/>
<text x="518.2" y="93.1" font-family="Liberation Sans" font-size="10" text-anchor="middle" fill="#111">10</text>
<line x1="541.9" y1="21.15" x2="541.9" y2="16.15" stroke="#000" stroke-width="0.8"/>
<line x1="541.9" y1="74.85" x2="541.9" y2="79.85" stroke="#000" stroke-width="0.8"/>
<text x="541.9" y="93.1" font-family="Liberation Sans" font-size="10" text-anchor="middle" fill="#111">15</text>
<line x1="565.5" y1="21.15" x2="565.5" y2="16.15" stroke="#000" stroke-width="0.8"/>
<line x1="565.5" y1="74.85" x2="565.5" y2="79.85" stroke="#000" stroke-width="0.8"/>
<text x="565.5" y="93.1" font-family="Liberation Sans" font-size="10" text-anchor="middle" fill="#111">20</text>
<line x1="589.2" y1="21.15" x2="589.2" y2="16.15" stroke="#000" stroke-width="0.8"/>
<line x1="589.2" y1="74.85" x2="589.2" y2="79.85" stroke="#000" stroke-width="0.8"/>
<text x="589.2" y="93.1" font-family="Liberation Sans" font-size="10" text-anchor="middle" fill="#111">25</text>
<line x1="612.8" y1="21.15" x2="612.8" y2="16.15" stroke="#000" stroke-width="0.8"/>
<line x1="612.8" y1="74.85" x2="612.8" y2="79.85" stroke="#000" stroke-width="0.8"/>
<text x="612.8" y="93.1" font-family="Liberation Sans" font-size="10" text-anchor="middle" fill="#111">30</text>
<line x1="636.5" y1="21.15" x2="636.5" y2="16.15" stroke="#000" stroke-width="0.8"/>
<line x1="636.5" y1="74.85" x2="636.5" y2="79.85" stroke="#000" stroke-width="0.8"/>
<text x="636.5" y="93.1" font-family="Liberation Sans" font-size="10" text-anchor="middle" fill="#111">35</text>
<line x1="660.1" y1="21.15" x2="660.1" y2="16.15" stroke="#000" stroke-width="0.8"/>
<line x1="660.1" y1="74.85" x2="660.1" y2="79.85" stroke="#000" stroke-width="0.8"/>
<text x="660.1" y="93.1" font-family="Liberation Sans" font-size="10" text-anchor="middle" fill="#111">40</text>
<line x1="683.8" y1="21.15" x2="683.8" y2="16.15" stroke="#000" stroke-width="0.8"/>
<line x1="683.8" y1="74.85" x2="683.8" y2="79.85" stroke="#000" stroke-width="0.8"/>
<text x="683.8" y="93.1" font-family="Liberation Sans" font-size="10" text-anchor="middle" fill="#111">45</text>
<line x1="707.4" y1="21.15" x2="707.4" y2="16.15" stroke="#000" stroke-width="0.8"/>
<line x1="707.4" y1="74.85" x2="707.4" y2="79.85" stroke="#000" stroke-width="0.8"/>
<text x="707.4" y="93.1" font-family="Liberation Sans" font-size="10" text-anchor="middle" fill="#111">50</text>
<line x1="731.1" y1="21.15" x2="731.1" y2="16.15" stroke="#000" stroke-width="0.8"/>
<line x1="731.1" y1="74.85" x2="731.1" y2="79.85" stroke="#000" stroke-width="0.8"/>
<text x="731.1" y="93.1" font-family="Liberation Sans" font-size="10" text-anchor="middle" fill="#111">55</text>
<line x1="754.7" y1="21.15" x2="754.7" y2="16.15" stroke="#000" stroke-width="0.8"/>
<line x1="754.7" y1="74.85" x2="754.7" y2="79.85" stroke="#000" stroke-width="0.8"/>
<text x="754.7" y="93.1" font-family="Liberation Sans" font-size="10" text-anchor="middle" fill="#111">00</text>
<line x1="778.4" y1="21.15" x2="778.4" y2="16.15" stroke="#000" stroke-width="0.8"/>
<line x1="778.4" y1="74.85" x2="778.4" y2="79.85" stroke="#000" stroke-width="0.8"/>
<text x="778.4" y="93.1" font-family="Liberation Sans" font-size="10" text-anchor="middle" fill="#111">05</text>
<text x="799.5" y="32.5" font-family="Liberation Sans" font-weight="bold" font-size="10" fill="#1010ff">Hosp. Osa</text>
<text x="799.5" y="58.0" font-family="Liberation Sans" font-size="10" fill="#222">Acel. Max. 0.7</text>
<text x="799.5" y="74.2" font-family="Liberation Sans" font-size="10" fill="#222" letter-spacing="-0.15">Int JMA: 1</text>
<line x1="506.75" y1="128.5" x2="648" y2="128.5" stroke="#5fa25f" stroke-width="0.9"/>
<path d="M507.8,128.6 507.9,128.6 508.1,128.5 508.3,128.3 508.5,128.4 508.7,128.5 508.9,128.6 509.1,128.5 509.3,128.5 509.5,128.5 509.7,128.5 509.9,128.6 510.1,128.6 510.3,128.5 510.5,128.5 510.7,128.4 510.9,128.5 511.1,128.6 511.3,128.6 511.5,128.5 511.7,128.4 511.9,128.4 512.1,128.5 512.3,128.6 512.5,128.7 512.7,128.6 512.9,128.3 513.1,128.3 513.3,128.4 513.5,128.7 513.7,128.7 513.9,128.5 514.1,128.4 514.3,128.4 514.5,128.5 514.7,128.6 514.9,128.5 515.1,128.5 515.3,128.5 515.5,128.4 515.7,128.5 515.9,128.6 516.1,128.6 516.3,128.4 516.5,128.3 516.7,128.4 516.9,128.6 517.1,128.7 517.3,128.6 517.5,128.5 517.7,128.3 517.9,128.5 518.1,128.5 518.3,128.5 518.5,128.5 518.7,128.5 518.9,128.5 519.1,128.5 519.3,128.5 519.5,128.5 519.7,128.5 519.9,128.5 520.1,128.5 520.3,128.5 520.5,128.6 520.7,128.5 520.9,128.5 521.1,128.5 521.3,128.5 521.5,128.5 521.7,128.6 521.9,128.6 522.1,128.4 522.3,128.4 522.5,128.5 522.7,128.7 522.9,128.6 523.1,128.5 523.3,128.4 523.5,128.5 523.7,128.5 523.9,128.6 524.1,128.7 524.3,128.5 524.5,128.3 524.7,128.4 524.9,128.6 525.1,128.6 525.3,128.5 525.5,128.4 525.7,128.4 525.9,128.5 526.1,128.6 526.3,128.7 526.5,128.5 526.7,128.4 526.9,128.4 527.1,128.5 527.3,128.5 527.5,128.5 527.7,128.5 527.9,128.5 528.1,128.4 528.3,128.5 528.5,128.5 528.7,128.5 528.9,128.3 529.1,128.3 529.3,128.4 529.5,128.6 529.7,128.7 529.9,128.5 530.1,128.4 530.3,128.4 530.5,128.5 530.7,128.6 530.9,128.6 531.1,128.5 531.3,128.4 531.5,128.5 531.7,128.5 531.9,128.6 532.1,128.5 532.3,128.4 532.5,128.4 532.7,128.5 532.9,128.5 533.1,128.6 533.3,128.4 533.5,128.4 533.7,128.4 533.9,128.5 534.1,128.6 534.3,128.6 534.5,128.4 534.7,128.4 534.9,128.5 535.1,128.6 535.3,128.5 535.5,128.5 535.7,128.5 535.9,128.5 536.1,128.6 536.3,128.6 536.5,128.4 536.7,128.4 536.9,128.4 537.1,128.6 537.3,128.7 537.5,128.7 537.7,128.4 537.9,128.3 538.1,128.5 538.3,128.6 538.5,128.6 538.7,128.5 538.9,128.4 539.1,128.4 539.3,128.5 539.5,128.5 539.7,128.5 539.9,128.5 540.1,128.4 540.3,128.4 540.5,128.5 540.7,128.6 540.9,128.6 541.1,128.4 541.3,128.4 541.5,128.4 541.7,128.5 541.9,128.6 542.1,128.6 542.3,128.4 542.5,128.5 542.7,128.5 542.9,128.6 543.1,128.6 543.3,128.5 543.5,128.3 543.7,128.3 543.9,128.5 544.1,128.6 544.3,128.6 544.5,128.4 544.7,128.3 544.9,128.5 545.1,128.5 545.3,128.6 545.5,128.4 545.7,128.5 545.9,128.5 546.1,128.5 546.3,128.7 546.5,128.6 546.7,128.4 546.9,128.3 547.1,128.5 547.3,128.7 547.5,128.7 547.7,128.5 547.9,128.3 548.1,128.4 548.3,128.5 548.5,128.7 548.7,128.7 548.9,128.5 549.1,128.3 549.3,128.4 549.5,128.7 549.7,128.6 549.9,128.5 550.1,128.4 550.3,128.4 550.5,128.5 550.7,128.6 550.9,128.6 551.1,128.5 551.3,128.4 551.5,128.4 551.7,128.5 551.9,128.6 552.1,128.6 552.3,128.5 552.5,128.5 552.7,128.5 552.9,128.5 553.1,128.6 553.3,128.5 553.5,128.5 553.7,128.5 553.9,128.5 554.1,128.6 554.3,128.6 554.5,128.5 554.7,128.3 554.9,128.4 555.1,128.5 555.3,128.6 555.5,128.5 555.7,128.5 555.9,128.4 556.1,128.4 556.3,128.5 556.5,128.6 556.7,128.7 556.9,128.5 557.1,128.4 557.3,128.4 557.5,128.5 557.7,128.6 557.9,128.5 558.1,128.5 558.3,128.5 558.5,128.5 558.7,128.5 558.9,128.6 559.1,128.6 559.3,128.5 559.5,128.4 559.7,128.5 559.9,128.5 560.1,128.5 560.3,128.5 560.5,128.5 560.7,128.5 560.9,128.5 561.1,128.5 561.3,128.6 561.5,128.5 561.7,128.5 561.9,128.5 562.1,128.4 562.3,128.5 562.5,128.5 562.7,128.5 562.9,128.5 563.1,128.4 563.3,128.4 563.5,128.5 563.7,128.7 563.9,128.7 564.1,128.6 564.3,128.4 564.5,128.3 564.7,128.4 564.9,128.6 565.1,128.7 565.3,128.6 565.5,128.5 565.7,128.5 565.9,128.5 566.1,128.5 566.3,128.6 566.5,128.6 566.7,128.5 566.9,128.5 567.1,128.4 567.3,128.5 567.5,128.7 567.7,128.7 567.9,128.4 568.1,128.3 568.3,128.4 568.5,128.5 568.7,128.6 568.9,128.6 569.1,128.5 569.3,128.5 569.5,128.4 569.7,128.5 569.9,128.5 570.1,128.5 570.3,128.5 570.5,128.5 570.7,128.5 570.9,128.5 571.1,128.5 571.3,128.6 571.5,128.5 571.7,128.5 571.9,128.3 572.1,128.4 572.3,128.5 572.5,128.6 572.7,128.6 572.9,128.5 573.1,128.4 573.3,128.5 573.5,128.5 573.7,128.6 573.9,128.5 574.1,128.5 574.3,128.4 574.5,128.5 574.7,128.5 574.9,128.5 575.1,128.5 575.3,128.5 575.5,128.5 575.7,128.5 575.9,128.5 576.1,128.6 576.3,128.6 576.5,128.5 576.7,128.4 576.9,128.4 577.1,128.5 577.3,128.6 577.5,128.6 577.7,128.5 577.9,128.4 578.1,128.5 578.3,128.5 578.5,128.6 578.7,128.6 578.9,128.5 579.1,128.5 579.3,128.5 579.5,128.6 579.7,128.6 579.9,128.4 580.1,128.3 580.3,128.5 580.5,128.6 580.7,128.5 580.9,128.5 581.1,128.4 581.3,128.5 581.5,128.5 581.7,128.5 581.9,128.5 582.1,128.4 582.3,128.4 582.5,128.5 582.7,128.7 582.9,128.7 583.1,128.6 583.3,128.5 583.5,128.4 583.7,128.5 583.9,128.5 584.1,128.5 584.3,128.5 584.5,128.4 584.7,128.5 584.9,128.6 585.1,128.6 585.3,128.5 585.5,128.4 585.7,128.4 585.9,128.5 586.1,128.6 586.3,128.5 586.5,128.5 586.7,128.5 586.9,128.5 587.1,128.5 587.3,128.5 587.5,128.5 587.7,128.4 587.9,128.3 588.1,128.4 588.3,128.7 588.5,128.7 588.7,128.5 588.9,128.4 589.1,128.3 589.3,128.5 589.5,128.7 589.7,128.6 589.9,128.5 590.1,128.4 590.3,128.5 590.5,128.5 590.7,128.6 590.9,128.6 591.1,128.4 591.3,128.3 591.5,128.4 591.7,128.7 591.9,128.7 592.1,128.6 592.3,128.4 592.5,128.3 592.7,128.4 592.9,128.7 593.1,128.7 593.3,128.6 593.5,128.4 593.7,128.3 593.9,128.6 594.1,128.7 594.3,128.6 594.5,128.5 594.7,128.4 594.9,128.5 595.1,128.5 595.3,128.7 595.5,128.6 595.7,128.4 595.9,128.4 596.1,128.5 596.3,128.5 596.5,128.5 596.7,128.4 596.9,128.4 597.1,128.5 597.3,128.6 597.5,128.5 597.7,128.5 597.9,128.4 598.1,128.5 598.3,128.5 598.5,128.5 598.7,128.5 598.9,128.4 599.1,128.3 599.3,128.5 599.5,128.6 599.7,128.6 599.9,128.5 600.1,128.3 600.3,128.5 600.5,128.5 600.7,128.6 600.9,128.5 601.1,128.5 601.3,128.4 601.5,128.4 601.7,128.6 601.9,128.7 602.1,128.6 602.3,128.5 602.5,128.4 602.7,128.5 602.9,128.6 603.1,128.6 603.3,128.5 603.5,128.4 603.7,128.4 603.9,128.5 604.1,128.5 604.3,128.6 604.5,128.6 604.7,128.5 604.9,128.4 605.1,128.5 605.3,128.5 605.5,128.6 605.7,128.5 605.9,128.5 606.1,128.4 606.3,128.4 606.5,128.5 606.7,128.6 606.9,128.6 607.1,128.5 607.3,128.4 607.5,128.4 607.7,128.6 607.9,128.6 608.1,128.5 608.3,128.5 608.5,128.4 608.7,128.5 608.9,128.5 609.1,128.6 609.3,128.6 609.5,128.5 609.7,128.5 609.9,128.4 610.1,128.5 610.3,128.6 610.5,128.6 610.7,128.5 610.9,128.3 611.1,128.3 611.3,128.6 611.5,128.6 611.7,128.6 611.9,128.5 612.1,128.4 612.3,128.4 612.5,128.5 612.7,128.5 612.9,128.6 613.1,128.5 613.3,128.5 613.5,128.5 613.7,128.5 613.9,128.5 614.1,128.5 614.3,128.6 614.5,128.5 614.7,128.5 614.9,128.5 615.1,128.5 615.3,128.5 615.5,128.6 615.7,128.5 615.9,128.4 616.1,128.5 616.3,128.5 616.5,128.6 616.7,128.5 616.9,128.4 617.1,128.3 617.3,128.5 617.5,128.6 617.7,128.7 617.9,128.5 618.1,128.4 618.3,128.4 618.5,128.5 618.7,128.6 618.9,128.6 619.1,128.5 619.3,128.4 619.5,128.4 619.7,128.5 619.9,128.6 620.1,128.5 620.3,128.5 620.5,128.4 620.7,128.5 620.9,128.5 621.1,128.6 621.3,128.6 621.5,128.5 621.7,128.4 621.9,128.4 622.1,128.5 622.3,128.6 622.5,128.6 622.7,128.5 622.9,128.4 623.1,128.4 623.3,128.5 623.5,128.6 623.7,128.6 623.9,128.5 624.1,128.4 624.3,128.5 624.5,128.5 624.7,128.6 624.9,128.6 625.1,128.4 625.3,128.3 625.5,128.5 625.7,128.7 625.9,128.6 626.1,128.5 626.3,128.4 626.5,128.5 626.7,128.5 626.9,128.5 627.1,128.5 627.3,128.5 627.5,128.5 627.7,128.5 627.9,128.6 628.1,128.6 628.3,128.5 628.5,128.4 628.7,128.4 628.9,128.5 629.1,128.5 629.3,128.6 629.5,128.5 629.7,128.5 629.9,128.4 630.1,128.5 630.3,128.7 630.5,128.7 630.7,128.4 630.9,128.3 631.1,128.4 631.3,128.5 631.5,128.7 631.7,128.6 631.9,128.4 632.1,128.4 632.3,128.5 632.5,128.6 632.7,128.6 632.9,128.5 633.1,128.4 633.3,128.4 633.5,128.6 633.7,128.6 633.9,128.5 634.1,128.5 634.3,128.4 634.5,128.5 634.7,128.5 634.9,128.6 635.1,128.5 635.3,128.4 635.5,128.4 635.7,128.4 635.9,128.5 636.1,128.6 636.3,128.6 636.5,128.5 636.7,128.4 636.9,128.4 637.1,128.5 637.3,128.5 637.5,128.5 637.7,128.5 637.9,128.5 638.1,128.4 638.3,128.5 638.5,128.6 638.7,128.6 638.9,128.5 639.1,128.5 639.3,128.3 639.5,128.5 639.7,128.5 639.9,128.5 640.1,128.5 640.3,128.5 640.5,128.5 640.7,128.5 640.9,128.6 641.1,128.6 641.3,128.5 641.5,128.4 641.7,128.4 641.9,128.5 642.1,128.6 642.3,128.5 642.5,128.5 642.7,128.5 642.9,128.5 643.1,128.5 643.3,128.6 643.5,128.6 643.7,128.4 643.9,128.3 644.1,128.5 644.3,128.7 644.5,128.7 644.7,128.6 644.9,128.3 645.1,128.4 645.3,128.5 645.5,128.6 645.7,128.6 645.9,128.5 646.1,128.5 646.3,128.4 646.5,128.5 646.7,128.6 646.9,128.5 647.1,128.5 647.3,128.5 647.5,128.3 647.7,127.8 647.9,130.3 648.1,135.4 648.3,130.1 648.5,123.0 648.7,122.7 648.9,126.8 649.1,130.2 649.3,130.2 649.5,129.5 649.7,128.2 649.9,126.5 650.1,127.5 650.3,128.2 650.5,129.1 650.7,129.4 650.9,128.9 651.1,127.5 651.3,126.7 651.5,127.9 651.7,128.9 651.9,129.7 652.1,129.8 652.3,128.4 652.5,125.2 652.7,123.7 652.9,128.4 653.1,132.5 653.3,132.5 653.5,129.9 653.7,126.1 653.9,126.3 654.1,128.2 654.3,129.2 654.5,129.0 654.7,128.9 654.9,128.5 655.1,127.7 655.3,127.2 655.5,128.2 655.7,129.2 655.9,128.9 656.1,128.4 656.3,127.5 656.5,127.8 656.7,128.7 656.9,130.0 657.1,129.0 657.3,128.8 657.5,127.0 657.7,125.6 657.9,128.3 658.1,129.5 658.3,129.0 658.5,128.3 658.7,127.1 658.9,127.4 659.1,128.8 659.3,131.3 659.5,130.5 659.7,127.5 659.9,126.2 660.1,125.8 660.3,129.7 660.5,132.0 660.7,131.0 660.9,128.3 661.1,127.1 661.3,126.8 661.5,129.3 661.7,130.9 661.9,129.5 662.1,126.9 662.3,125.8 662.5,127.5 662.7,128.9 662.9,129.2 663.1,128.9 663.3,128.3 663.5,128.1 663.7,127.2 663.9,128.8 664.1,130.2 664.3,129.3 664.5,128.2 664.7,127.2 664.9,126.8 665.1,129.5 665.3,131.2 665.5,129.7 665.7,127.5 665.9,127.3 666.1,127.8 666.3,128.7 666.5,129.6 666.7,129.6 666.9,127.3 667.1,127.5 667.3,127.4 667.5,128.4 667.7,130.0 667.9,129.5 668.1,128.3 668.3,126.0 668.5,127.9 668.7,128.9 668.9,131.8 669.1,129.7 669.3,125.5 669.5,126.0 669.7,126.8 669.9,129.4 670.1,131.7 670.3,131.7 670.5,128.3 670.7,128.0 670.9,128.2 671.1,128.8 671.3,130.3 671.5,129.8 671.7,126.0 671.9,124.3 672.1,128.0 672.3,132.3 672.5,132.2 672.7,126.9 672.9,124.4 673.1,125.3 673.3,130.0 673.5,133.6 673.7,131.2 673.9,124.9 674.1,123.3 674.3,126.5 674.5,132.1 674.7,131.7 674.9,127.8 675.1,127.2 675.3,128.2 675.5,130.8 675.7,130.5 675.9,128.6 676.1,126.6 676.3,127.5 676.5,130.0 676.7,129.4 676.9,128.5 677.1,126.7 677.3,127.6 677.5,127.9 677.7,129.1 677.9,129.0 678.1,129.1 678.3,128.4 678.5,126.3 678.7,126.1 678.9,128.0 679.1,131.0 679.3,130.0 679.5,129.4 679.7,126.8 679.9,127.1 680.1,128.5 680.3,130.9 680.5,131.7 680.7,129.4 680.9,127.7 681.1,127.4 681.3,128.6 681.5,129.1 681.7,129.1 681.9,127.4 682.1,125.2 682.3,127.5 682.5,129.7 682.7,131.7 682.9,128.3 683.1,125.3 683.3,125.6 683.5,128.2 683.7,130.4 683.9,130.6 684.1,129.1 684.3,127.7 684.5,124.5 684.7,127.3 684.9,133.2 685.1,130.7 685.3,127.8 685.5,123.8 685.7,125.5 685.9,128.8 686.1,131.0 686.3,130.9 686.5,125.9 686.7,126.6 686.9,128.7 687.1,129.5 687.3,129.2 687.5,128.2 687.7,126.6 687.9,127.9 688.1,128.3 688.3,129.5 688.5,131.2 688.7,129.2 688.9,127.0 689.1,127.9 689.3,128.5 689.5,130.3 689.7,129.1 689.9,128.6 690.1,127.2 690.3,127.6 690.5,127.7 690.7,129.1 690.9,130.9 691.1,128.7 691.3,128.0 691.5,126.9 691.7,128.5 691.9,131.6 692.1,133.8 692.3,130.3 692.5,127.0 692.7,125.1 692.9,125.2 693.1,131.4 693.3,133.9 693.5,129.8 693.7,125.8 693.9,123.4 694.1,129.4 694.3,132.9 694.5,131.9 694.7,128.4 694.9,127.8 695.1,127.7 695.3,129.1 695.5,129.8 695.7,130.4 695.9,128.2 696.1,126.5 696.3,128.0 696.5,129.6 696.7,130.6 696.9,128.6 697.1,126.8 697.3,124.8 697.5,126.5 697.7,130.0 697.9,131.3 698.1,130.0 698.3,127.3 698.5,124.1 698.7,125.3 698.9,128.5 699.1,129.1 699.3,130.3 699.5,128.4 699.7,128.2 699.9,127.0 700.1,127.4 700.3,130.0 700.5,130.6 700.7,130.4 700.9,128.2 701.1,125.6 701.3,121.0 701.5,121.5 701.7,126.5 701.9,131.0 702.1,134.2 702.3,137.4 702.5,144.5 702.7,136.7 702.9,129.2 703.1,125.2 703.3,125.8 703.5,123.5 703.7,125.9 703.9,126.6 704.1,128.1 704.3,129.2 704.5,133.0 704.7,137.1 704.9,136.2 705.1,130.6 705.3,130.2 705.5,129.7 705.7,126.9 705.9,122.3 706.1,123.3 706.3,121.2 706.5,123.4 706.7,125.1 706.9,130.2 707.1,131.4 707.3,132.4 707.5,134.6 707.7,134.2 707.9,130.9 708.1,126.7 708.3,123.4 708.5,115.4 708.7,117.9 708.9,122.6 709.1,127.5 709.3,129.4 709.5,131.1 709.7,137.1 709.9,131.0 710.1,135.8 710.3,130.7 710.5,125.5 710.7,122.7 710.9,123.8 711.1,122.4 711.3,122.4 711.5,123.2 711.7,129.4 711.9,133.5 712.1,132.4 712.3,132.5 712.5,135.8 712.7,129.5 712.9,128.2 713.1,124.2 713.3,119.5 713.5,121.7 713.7,123.0 713.9,125.2 714.1,127.6 714.3,128.8 714.5,129.7 714.7,138.2 714.9,148.3 715.1,145.7 715.3,133.6 715.5,129.0 715.7,125.6 715.9,123.0 716.1,126.5 716.3,125.4 716.5,123.5 716.7,123.5 716.9,129.9 717.1,134.3 717.3,139.3 717.5,140.8 717.7,131.9 717.9,132.5 718.1,132.8 718.3,127.0 718.5,119.8 718.7,116.6 718.9,112.8 719.1,116.3 719.3,116.3 719.5,122.9 719.7,134.2 719.9,137.2 720.1,131.3 720.3,137.7 720.5,133.0 720.7,125.9 720.9,116.9 721.1,106.8 721.3,106.8 721.5,107.6 721.7,118.8 721.9,128.1 722.1,129.1 722.3,140.7 722.5,149.7 722.7,142.8 722.9,136.7 723.1,126.8 723.3,125.6 723.5,124.2 723.7,124.7 723.9,122.4 724.1,123.2 724.3,127.3 724.5,129.1 724.7,137.0 724.9,147.9 725.1,146.9 725.3,138.6 725.5,131.5 725.7,121.2 725.9,119.5 726.1,116.2 726.3,121.3 726.5,126.0 726.7,129.0 726.9,136.7 727.1,138.4 727.3,145.6 727.5,141.2 727.7,131.3 727.9,127.7 728.1,121.7 728.3,113.5 728.5,125.7 728.7,122.0 728.9,127.2 729.1,129.3 729.3,133.7 729.5,140.8 729.7,141.2 729.9,130.6 730.1,128.2 730.3,124.0 730.5,120.9 730.7,118.9 730.9,122.4 731.1,126.0 731.3,128.9 731.5,131.9 731.7,132.1 731.9,132.0 732.1,135.9 732.3,134.0 732.5,126.3 732.7,126.5 732.9,122.9 733.1,120.6 733.3,120.0 733.5,121.2 733.7,127.9 733.9,133.1 734.1,138.8 734.3,142.4 734.5,140.5 734.7,130.9 734.9,128.1 735.1,123.3 735.3,119.0 735.5,124.1 735.7,121.0 735.9,122.7 736.1,126.8 736.3,129.1 736.5,135.2 736.7,139.0 736.9,142.3 737.1,131.0 737.3,128.7 737.5,123.4 737.7,122.9 737.9,123.0 738.1,122.2 738.3,127.4 738.5,130.9 738.7,130.4 738.9,131.2 739.1,132.6 739.3,131.2 739.5,129.4 739.7,127.1 739.9,121.7 740.1,124.1 740.3,123.9 740.5,123.7 740.7,126.3 740.9,127.0 741.1,131.8 741.3,135.5 741.5,130.2 741.7,130.4 741.9,132.1 742.1,129.0 742.3,127.0 742.5,119.7 742.7,116.5 742.9,112.3 743.1,119.6 743.3,125.1 743.5,130.2 743.7,134.5 743.9,130.9 744.1,130.2 744.3,130.6 744.5,130.1 744.7,124.1 744.9,124.0 745.1,126.5 745.3,126.4 745.5,127.1 745.7,128.1 745.9,129.1 746.1,131.2 746.3,130.0 746.5,134.5 746.7,132.6 746.9,129.3 747.1,124.5 747.3,123.7 747.5,124.8 747.7,123.9 747.9,127.8 748.1,129.1 748.3,131.6 748.5,129.8 748.7,132.5 748.9,130.7 749.1,128.5 749.3,125.5 749.5,125.5 749.7,122.6 749.9,121.6 750.1,124.6 750.3,127.5 750.5,129.9 750.7,130.2 750.9,131.5 751.1,132.7 751.3,129.2 751.5,128.5 751.7,126.6 751.9,123.8 752.1,120.9 752.3,124.8 752.5,126.9 752.7,130.4 752.9,132.3 753.1,136.1 753.3,131.2 753.5,129.4 753.7,123.9 753.9,121.0 754.1,120.7 754.3,124.3 754.5,133.5 754.7,140.1 754.9,140.3 755.1,135.7 755.3,130.9 755.5,128.4 755.7,127.8 755.9,123.4 756.1,122.6 756.3,126.5 756.5,128.6 756.7,129.6 756.9,129.9 757.1,133.4 757.3,134.4 757.5,131.6 757.7,128.5 757.9,126.9 758.1,123.8 758.3,124.8 758.5,127.0 758.7,128.1 758.9,129.4 759.1,129.4 759.3,131.3 759.5,132.7 759.7,129.4 759.9,128.3 760.1,124.4 760.3,126.8 760.5,127.1 760.7,125.3 760.9,128.2 761.1,131.4 761.3,135.9 761.5,138.0 761.7,137.4 761.9,134.3 762.1,126.1 762.3,122.9 762.5,120.5 762.7,121.7 762.9,124.4 763.1,128.6 763.3,130.3 763.5,136.8 763.7,141.5 763.9,136.2 764.1,129.2 764.3,123.9 764.5,125.0 764.7,118.4 764.9,124.2 765.1,127.9 765.3,129.6 765.5,131.5 765.7,129.9 765.9,131.7 766.1,130.6 766.3,128.3 766.5,124.4 766.7,122.4 766.9,114.8 767.1,124.0 767.3,128.2 767.5,130.2 767.7,135.5 767.9,138.5 768.1,135.1 768.3,132.1 768.5,130.3 768.7,123.1 768.9,117.4 769.1,117.4 769.3,122.4 769.5,126.9 769.7,134.3 769.9,138.3 770.1,137.4 770.3,132.7 770.5,129.0 770.7,126.7 770.9,127.2 771.1,127.0 771.3,123.3 771.5,127.3 771.7,131.7 771.9,139.7 772.1,138.8 772.3,139.4 772.5,133.2 772.7,128.6 772.9,124.7 773.1,118.7 773.3,119.8 773.5,122.9 773.7,126.0 773.9,130.7 774.1,131.3 774.3,134.3 774.5,131.3 774.7,129.9 774.9,129.0 775.1,127.4 775.3,122.2 775.5,123.8 775.7,121.9 775.9,126.4 776.1,132.5 776.3,139.0 776.5,141.8 776.7,141.9 776.9,134.5 777.1,127.8 777.3,122.1 777.5,119.3 777.7,121.4 777.9,125.8 778.1,126.4 778.3,129.6 778.5,130.6 778.7,131.9 778.9,130.7 779.1,129.1 779.3,127.8 779.5,127.5 779.7,124.7 779.9,122.9 780.1,125.5 780.3,129.1 780.5,130.2 780.7,130.3 780.9,131.2 781.1,129.5 781.3,127.5 781.5,124.3 781.7,118.8 781.9,115.7 782.1,121.3 782.3,127.5 782.5,134.9 782.7,138.8 782.9,142.5 783.1,138.2 783.3,134.9 783.5,130.7 783.7,127.9 783.9,123.1 784.1,121.0 784.3,124.3 784.5,124.8 784.7,126.9 784.9,129.7 785.1,133.2 785.3,131.4 785.5,133.9 785.7,132.8 785.9,128.6 786.1,124.8 786.3,117.7 786.5,116.4 786.7,122.9 786.9,126.3 787.1,129.1 787.3,133.9 787.5,138.8 787.7,142.4 787.9,135.2 788.1,134.3 788.3,128.4 788.5,121.8 788.7,121.3 788.9,122.4 789.1,124.6" fill="none" stroke="#006400" stroke-width="0.6"/>
<rect x="506.75" y="100.35" width="283.1" height="53.7" fill="none" stroke="#000" stroke-width="1.7"/>
<line x1="514.3" y1="100.35" x2="514.3" y2="95.35" stroke="#000" stroke-width="0.8"/>
<line x1="514.3" y1="154.05" x2="514.3" y2="159.05" stroke="#000" stroke-width="0.8"/>
<text x="514.3" y="172.4" font-family="Liberation Sans" font-size="10" text-anchor="middle" fill="#111">10</text>
<line x1="537.9" y1="100.35" x2="537.9" y2="95.35" stroke="#000" stroke-width="0.8"/>
<line x1="537.9" y1="154.05" x2="537.9" y2="159.05" stroke="#000" stroke-width="0.8"/>
<text x="537.9" y="172.4" font-family="Liberation Sans" font-size="10" text-anchor="middle" fill="#111">15</text>
<line x1="561.6" y1="100.35" x2="561.6" y2="95.35" stroke="#000" stroke-width="0.8"/>
<line x1="561.6" y1="154.05" x2="561.6" y2="159.05" stroke="#000" stroke-width="0.8"/>
<text x="561.6" y="172.4" font-family="Liberation Sans" font-size="10" text-anchor="middle" fill="#111">20</text>
<line x1="585.2" y1="100.35" x2="585.2" y2="95.35" stroke="#000" stroke-width="0.8"/>
<line x1="585.2" y1="154.05" x2="585.2" y2="159.05" stroke="#000" stroke-width="0.8"/>
<text x="585.2" y="172.4" font-family="Liberation Sans" font-size="10" text-anchor="middle" fill="#111">25</text>
<line x1="608.9" y1="100.35" x2="608.9" y2="95.35" stroke="#000" stroke-width="0.8"/>
<line x1="608.9" y1="154.05" x2="608.9" y2="159.05" stroke="#000" stroke-width="0.8"/>
<text x="608.9" y="172.4" font-family="Liberation Sans" font-size="10" text-anchor="middle" fill="#111">30</text>
<line x1="632.5" y1="100.35" x2="632.5" y2="95.35" stroke="#000" stroke-width="0.8"/>
<line x1="632.5" y1="154.05" x2="632.5" y2="159.05" stroke="#000" stroke-width="0.8"/>
<text x="632.5" y="172.4" font-family="Liberation Sans" font-size="10" text-anchor="middle" fill="#111">35</text>
<line x1="656.2" y1="100.35" x2="656.2" y2="95.35" stroke="#000" stroke-width="0.8"/>
<line x1="656.2" y1="154.05" x2="656.2" y2="159.05" stroke="#000" stroke-width="0.8"/>
<text x="656.2" y="172.4" font-family="Liberation Sans" font-size="10" text-anchor="middle" fill="#111">40</text>
<line x1="679.8" y1="100.35" x2="679.8" y2="95.35" stroke="#000" stroke-width="0.8"/>
<line x1="679.8" y1="154.05" x2="679.8" y2="159.05" stroke="#000" stroke-width="0.8"/>
<text x="679.8" y="172.4" font-family="Liberation Sans" font-size="10" text-anchor="middle" fill="#111">45</text>
<line x1="703.5" y1="100.35" x2="703.5" y2="95.35" stroke="#000" stroke-width="0.8"/>
<line x1="703.5" y1="154.05" x2="703.5" y2="159.05" stroke="#000" stroke-width="0.8"/>
<text x="703.5" y="172.4" font-family="Liberation Sans" font-size="10" text-anchor="middle" fill="#111">50</text>
<line x1="727.1" y1="100.35" x2="727.1" y2="95.35" stroke="#000" stroke-width="0.8"/>
<line x1="727.1" y1="154.05" x2="727.1" y2="159.05" stroke="#000" stroke-width="0.8"/>
<text x="727.1" y="172.4" font-family="Liberation Sans" font-size="10" text-anchor="middle" fill="#111">55</text>
<line x1="750.8" y1="100.35" x2="750.8" y2="95.35" stroke="#000" stroke-width="0.8"/>
<line x1="750.8" y1="154.05" x2="750.8" y2="159.05" stroke="#000" stroke-width="0.8"/>
<text x="750.8" y="172.4" font-family="Liberation Sans" font-size="10" text-anchor="middle" fill="#111">00</text>
<line x1="774.5" y1="100.35" x2="774.5" y2="95.35" stroke="#000" stroke-width="0.8"/>
<line x1="774.5" y1="154.05" x2="774.5" y2="159.05" stroke="#000" stroke-width="0.8"/>
<text x="774.5" y="172.4" font-family="Liberation Sans" font-size="10" text-anchor="middle" fill="#111">05</text>
<text x="799.5" y="111.6" font-family="Liberation Sans" font-weight="bold" font-size="10" fill="#1010ff">Puerto Cortes</text>
<text x="799.5" y="137.2" font-family="Liberation Sans" font-size="10" fill="#222">Acel. Max. 0.7</text>
<text x="799.5" y="153.4" font-family="Liberation Sans" font-size="10" fill="#222" letter-spacing="-0.15">Int JMA: 1</text>
<line x1="506.75" y1="211.5" x2="649" y2="211.5" stroke="#5fa25f" stroke-width="0.9"/>
<path d="M507.8,211.5 507.9,211.5 508.1,211.5 508.3,211.4 508.5,211.4 508.7,211.5 508.9,211.6 509.1,211.7 509.3,211.6 509.5,211.4 509.7,211.3 509.9,211.4 510.1,211.5 510.3,211.5 510.5,211.6 510.7,211.5 510.9,211.4 511.1,211.4 511.3,211.5 511.5,211.6 511.7,211.5 511.9,211.5 512.1,211.4 512.3,211.4 512.5,211.5 512.7,211.5 512.9,211.5 513.1,211.4 513.3,211.4 513.5,211.5 513.7,211.6 513.9,211.7 514.1,211.5 514.3,211.4 514.5,211.3 514.7,211.4 514.9,211.6 515.1,211.7 515.3,211.6 515.5,211.3 515.7,211.3 515.9,211.5 516.1,211.7 516.3,211.5 516.5,211.4 516.7,211.4 516.9,211.5 517.1,211.6 517.3,211.5 517.5,211.5 517.7,211.4 517.9,211.5 518.1,211.5 518.3,211.6 518.5,211.5 518.7,211.3 518.9,211.4 519.1,211.6 519.3,211.7 519.5,211.7 519.7,211.4 519.9,211.3 520.1,211.4 520.3,211.6 520.5,211.7 520.7,211.5 520.9,211.4 521.1,211.4 521.3,211.5 521.5,211.6 521.7,211.7 521.9,211.4 522.1,211.3 522.3,211.5 522.5,211.5 522.7,211.5 522.9,211.5 523.1,211.5 523.3,211.4 523.5,211.5 523.7,211.5 523.9,211.6 524.1,211.6 524.3,211.4 524.5,211.3 524.7,211.4 524.9,211.5 525.1,211.6 525.3,211.6 525.5,211.5 525.7,211.5 525.9,211.4 526.1,211.5 526.3,211.6 526.5,211.5 526.7,211.5 526.9,211.4 527.1,211.4 527.3,211.5 527.5,211.6 527.7,211.5 527.9,211.5 528.1,211.5 528.3,211.4 528.5,211.5 528.7,211.6 528.9,211.5 529.1,211.5 529.3,211.5 529.5,211.5 529.7,211.6 529.9,211.7 530.1,211.6 530.3,211.5 530.5,211.3 530.7,211.4 530.9,211.7 531.1,211.7 531.3,211.5 531.5,211.3 531.7,211.3 531.9,211.6 532.1,211.7 532.3,211.7 532.5,211.4 532.7,211.3 532.9,211.4 533.1,211.5 533.3,211.6 533.5,211.6 533.7,211.5 533.9,211.3 534.1,211.4 534.3,211.5 534.5,211.7 534.7,211.6 534.9,211.5 535.1,211.4 535.3,211.4 535.5,211.5 535.7,211.5 535.9,211.5 536.1,211.5 536.3,211.5 536.5,211.5 536.7,211.5 536.9,211.5 537.1,211.6 537.3,211.5 537.5,211.4 537.7,211.3 537.9,211.5 538.1,211.7 538.3,211.7 538.5,211.5 538.7,211.3 538.9,211.4 539.1,211.6 539.3,211.7 539.5,211.6 539.7,211.4 539.9,211.3 540.1,211.3 540.3,211.5 540.5,211.7 540.7,211.7 540.9,211.5 541.1,211.4 541.3,211.3 541.5,211.5 541.7,211.6 541.9,211.6 542.1,211.5 542.3,211.4 542.5,211.5 542.7,211.5 542.9,211.6 543.1,211.6 543.3,211.3 543.5,211.3 543.7,211.5 543.9,211.7 544.1,211.6 544.3,211.4 544.5,211.3 544.7,211.5 544.9,211.5 545.1,211.6 545.3,211.5 545.5,211.4 545.7,211.4 545.9,211.5 546.1,211.5 546.3,211.5 546.5,211.5 546.7,211.5 546.9,211.5 547.1,211.7 547.3,211.6 547.5,211.2 547.7,212.5 547.9,211.3 548.1,212.0 548.3,211.5 548.5,211.6 548.7,211.5 548.9,211.3 549.1,211.3 549.3,211.4 549.5,211.6 549.7,211.7 549.9,211.6 550.1,211.5 550.3,211.4 550.5,211.5 550.7,211.5 550.9,211.6 551.1,211.6 551.3,211.5 551.5,211.5 551.7,211.5 551.9,211.5 552.1,212.4 552.3,211.2 552.5,211.5 552.7,211.1 552.9,212.0 553.1,211.6 553.3,211.7 553.5,211.5 553.7,211.3 553.9,211.4 554.1,211.5 554.3,211.5 554.5,211.6 554.7,211.5 554.9,211.4 555.1,211.3 555.3,211.0 555.5,212.1 555.7,211.9 555.9,211.1 556.1,212.1 556.3,211.6 556.5,212.8 556.7,212.3 556.9,211.2 557.1,211.4 557.3,211.1 557.5,211.6 557.7,211.5 557.9,211.9 558.1,211.5 558.3,211.4 558.5,211.4 558.7,211.5 558.9,211.7 559.1,211.5 559.3,211.3 559.5,211.3 559.7,211.5 559.9,211.6 560.1,211.6 560.3,211.5 560.5,211.4 560.7,211.4 560.9,211.5 561.1,211.7 561.3,211.7 561.5,211.4 561.7,211.3 561.9,211.4 562.1,211.6 562.3,211.6 562.5,211.5 562.7,211.5 562.9,211.4 563.1,211.4 563.3,211.5 563.5,211.6 563.7,211.7 563.9,211.5 564.1,211.3 564.3,211.4 564.5,211.6 564.7,211.7 564.9,211.5 565.1,211.3 565.3,211.3 565.5,211.5 565.7,211.6 565.9,211.5 566.1,211.5 566.3,211.5 566.5,211.5 566.7,211.5 566.9,211.5 567.1,211.5 567.3,211.4 567.5,211.4 567.7,211.5 567.9,211.5 568.1,211.5 568.3,211.5 568.5,211.4 568.7,211.3 568.9,211.5 569.1,211.5 569.3,211.6 569.5,211.6 569.7,211.4 569.9,211.5 570.1,211.5 570.3,211.5 570.5,211.5 570.7,211.5 570.9,211.5 571.1,211.4 571.3,211.5 571.5,211.5 571.7,211.6 571.9,211.5 572.1,211.4 572.3,211.4 572.5,211.4 572.7,211.6 572.9,211.6 573.1,211.6 573.3,211.5 573.5,211.4 573.7,211.5 573.9,211.6 574.1,211.6 574.3,211.5 574.5,211.5 574.7,211.5 574.9,211.5 575.1,211.6 575.3,211.7 575.5,211.6 575.7,211.5 575.9,211.5 576.1,211.5 576.3,211.5 576.5,211.6 576.7,211.5 576.9,211.4 577.1,211.5 577.3,211.5 577.5,211.6 577.7,211.6 577.9,211.6 578.1,211.4 578.3,211.4 578.5,211.5 578.7,211.6 578.9,211.5 579.1,211.5 579.3,211.4 579.5,211.5 579.7,211.5 579.9,211.6 580.1,211.6 580.3,211.5 580.5,211.4 580.7,211.4 580.9,211.5 581.1,211.6 581.3,211.5 581.5,211.5 581.7,211.4 581.9,211.4 582.1,211.5 582.3,211.6 582.5,211.6 582.7,211.5 582.9,211.4 583.1,211.4 583.3,211.5 583.5,211.6 583.7,211.5 583.9,211.5 584.1,211.4 584.3,211.5 584.5,211.5 584.7,211.5 584.9,211.5 585.1,211.4 585.3,211.3 585.5,211.4 585.7,211.6 585.9,211.7 586.1,211.6 586.3,211.4 586.5,211.3 586.7,211.5 586.9,211.6 587.1,211.6 587.3,211.5 587.5,211.4 587.7,211.4 587.9,211.5 588.1,211.6 588.3,211.5 588.5,211.5 588.7,211.4 588.9,211.4 589.1,211.6 589.3,211.7 589.5,211.5 589.7,211.5 589.9,211.4 590.1,211.5 590.3,211.5 590.5,211.6 590.7,211.6 590.9,211.5 591.1,211.3 591.3,211.4 591.5,211.5 591.7,211.6 591.9,211.5 592.1,211.5 592.3,211.4 592.5,211.5 592.7,211.6 592.9,211.6 593.1,211.5 593.3,211.4 593.5,211.5 593.7,211.5 593.9,211.6 594.1,211.5 594.3,211.5 594.5,211.5 594.7,211.4 594.9,211.5 595.1,211.5 595.3,211.6 595.5,211.5 595.7,211.5 595.9,211.4 596.1,211.4 596.3,211.5 596.5,211.7 596.7,211.6 596.9,211.4 597.1,211.3 597.3,211.5 597.5,211.7 597.7,211.7 597.9,211.5 598.1,211.3 598.3,211.4 598.5,211.6 598.7,211.6 598.9,211.5 599.1,211.5 599.3,211.4 599.5,211.5 599.7,211.6 599.9,211.6 600.1,211.5 600.3,211.5 600.5,211.5 600.7,211.5 600.9,211.6 601.1,211.5 601.3,211.4 601.5,211.3 601.7,211.5 601.9,211.7 602.1,211.6 602.3,211.5 602.5,211.3 602.7,211.4 602.9,211.6 603.1,211.6 603.3,211.6 603.5,211.5 603.7,211.3 603.9,211.4 604.1,211.5 604.3,211.6 604.5,211.6 604.7,211.5 604.9,211.4 605.1,211.4 605.3,211.6 605.5,211.6 605.7,211.5 605.9,211.5 606.1,211.5 606.3,211.5 606.5,211.5 606.7,211.6 606.9,211.6 607.1,211.4 607.3,211.4 607.5,211.5 607.7,211.5 607.9,211.5 608.1,211.5 608.3,211.4 608.5,211.5 608.7,211.5 608.9,211.5 609.1,211.5 609.3,211.4 609.5,211.4 609.7,211.5 609.9,211.5 610.1,211.6 610.3,211.5 610.5,211.5 610.7,211.5 610.9,211.5 611.1,211.5 611.3,211.6 611.5,211.5 611.7,211.5 611.9,211.3 612.1,211.4 612.3,211.5 612.5,211.7 612.7,211.6 612.9,211.5 613.1,211.5 613.3,211.5 613.5,211.5 613.7,211.5 613.9,211.6 614.1,211.5 614.3,211.5 614.5,211.5 614.7,211.5 614.9,211.6 615.1,211.6 615.3,211.4 615.5,211.4 615.7,211.4 615.9,211.5 616.1,211.5 616.3,211.5 616.5,211.5 616.7,211.4 616.9,211.4 617.1,211.5 617.3,211.6 617.5,211.6 617.7,211.5 617.9,211.5 618.1,211.5 618.3,211.5 618.5,211.6 618.7,211.5 618.9,211.5 619.1,211.5 619.3,211.5 619.5,211.6 619.7,211.5 619.9,211.5 620.1,211.4 620.3,211.4 620.5,211.5 620.7,211.6 620.9,211.5 621.1,211.5 621.3,211.5 621.5,211.5 621.7,211.6 621.9,211.7 622.1,211.5 622.3,211.3 622.5,211.4 622.7,211.5 622.9,211.6 623.1,211.6 623.3,211.4 623.5,211.4 623.7,211.4 623.9,211.7 624.1,211.7 624.3,211.5 624.5,211.4 624.7,211.5 624.9,211.5 625.1,211.5 625.3,211.6 625.5,211.5 625.7,211.5 625.9,211.5 626.1,211.5 626.3,211.6 626.5,211.6 626.7,211.5 626.9,211.4 627.1,211.4 627.3,211.5 627.5,211.5 627.7,211.5 627.9,211.5 628.1,211.4 628.3,211.5 628.5,211.7 628.7,211.6 628.9,211.5 629.1,211.4 629.3,211.4 629.5,211.5 629.7,211.6 629.9,211.7 630.1,211.5 630.3,211.3 630.5,211.3 630.7,211.6 630.9,211.7 631.1,211.6 631.3,211.4 631.5,211.3 631.7,211.3 631.9,211.5 632.1,211.7 632.3,211.5 632.5,211.4 632.7,211.5 632.9,211.5 633.1,211.6 633.3,211.6 633.5,211.4 633.7,211.3 633.9,211.5 634.1,211.6 634.3,211.5 634.5,211.5 634.7,211.5 634.9,211.5 635.1,211.5 635.3,211.5 635.5,211.5 635.7,211.5 635.9,211.4 636.1,211.5 636.3,211.6 636.5,211.6 636.7,211.5 636.9,211.4 637.1,211.4 637.3,211.5 637.5,211.6 637.7,211.5 637.9,211.5 638.1,211.4 638.3,211.4 638.5,211.5 638.7,211.5 638.9,211.5 639.1,211.5 639.3,211.4 639.5,211.4 639.7,211.5 639.9,211.6 640.1,211.7 640.3,211.6 640.5,211.3 640.7,211.3 640.9,211.5 641.1,211.7 641.3,211.7 641.5,211.4 641.7,211.3 641.9,211.5 642.1,211.5 642.3,211.6 642.5,211.5 642.7,211.5 642.9,211.4 643.1,211.5 643.3,211.6 643.5,211.6 643.7,211.5 643.9,211.3 644.1,211.4 644.3,211.5 644.5,211.5 644.7,211.6 644.9,211.5 645.1,211.4 645.3,211.4 645.5,211.6 645.7,211.7 645.9,211.6 646.1,211.5 646.3,211.4 646.5,211.5 646.7,211.7 646.9,211.7 647.1,211.6 647.3,211.4 647.5,211.4 647.7,211.5 647.9,211.5 648.1,211.9 648.3,212.7 648.5,209.5 648.7,204.7 648.9,209.1 649.1,212.0 649.3,212.6 649.5,213.1 649.7,211.7 649.9,208.1 650.1,207.7 650.3,207.5 650.5,211.1 650.7,215.1 650.9,215.7 651.1,213.7 651.3,212.4 651.5,210.8 651.7,210.0 651.9,208.0 652.1,207.7 652.3,211.7 652.5,215.2 652.7,220.4 652.9,215.5 653.1,214.0 653.3,210.6 653.5,207.9 653.7,209.0 653.9,209.6 654.1,210.8 654.3,211.9 654.5,213.7 654.7,213.1 654.9,212.2 655.1,210.8 655.3,207.8 655.5,209.7 655.7,210.4 655.9,212.6 656.1,214.1 656.3,212.6 656.5,212.1 656.7,211.1 656.9,207.5 657.1,209.4 657.3,211.3 657.5,212.4 657.7,213.3 657.9,213.7 658.1,211.6 658.3,210.5 658.5,210.0 658.7,209.6 658.9,210.4 659.1,212.4 659.3,214.4 659.5,217.9 659.7,214.7 659.9,211.3 660.1,206.1 660.3,201.6 660.5,204.4 660.7,210.1 660.9,212.0 661.1,212.9 661.3,214.9 661.5,217.4 661.7,214.6 661.9,208.8 662.1,202.7 662.3,204.3 662.5,209.6 662.7,211.9 662.9,212.2 663.1,215.3 663.3,212.7 663.5,212.9 663.7,211.2 663.9,209.2 664.1,208.5 664.3,207.5 664.5,209.7 664.7,213.0 664.9,213.2 665.1,213.0 665.3,213.3 665.5,211.8 665.7,210.0 665.9,209.9 666.1,208.3 666.3,210.4 666.5,212.6 666.7,218.6 666.9,217.1 667.1,216.3 667.3,211.7 667.5,210.4 667.7,206.0 667.9,201.7 668.1,210.0 668.3,212.9 668.5,217.8 668.7,222.2 668.9,218.6 669.1,214.9 669.3,206.9 669.5,206.0 669.7,206.0 669.9,208.7 670.1,212.7 670.3,216.0 670.5,219.7 670.7,215.8 670.9,211.6 671.1,210.2 671.3,205.1 671.5,206.8 671.7,210.1 671.9,211.9 672.1,214.0 672.3,214.4 672.5,219.5 672.7,213.1 672.9,210.9 673.1,210.5 673.3,209.2 673.5,210.8 673.7,211.8 673.9,216.6 674.1,217.8 674.3,215.9 674.5,212.3 674.7,209.3 674.9,210.4 675.1,210.5 675.3,210.9 675.5,211.8 675.7,213.6 675.9,212.8 676.1,214.9 676.3,212.4 676.5,209.2 676.7,205.9 676.9,204.4 677.1,207.4 677.3,211.7 677.5,216.0 677.7,219.5 677.9,215.4 678.1,212.6 678.3,211.5 678.5,210.1 678.7,210.6 678.9,209.5 679.1,209.0 679.3,213.6 679.5,217.6 679.7,221.5 679.9,221.7 680.1,217.0 680.3,211.5 680.5,205.7 680.7,203.9 680.9,203.8 681.1,208.9 681.3,211.7 681.5,214.6 681.7,214.3 681.9,214.2 682.1,211.7 682.3,210.1 682.5,207.8 682.7,209.7 682.9,210.6 683.1,212.9 683.3,215.0 683.5,212.8 683.7,212.0 683.9,209.9 684.1,204.3 684.3,207.5 684.5,209.0 684.7,211.2 684.9,213.7 685.1,218.0 685.3,216.7 685.5,211.9 685.7,211.0 685.9,206.3 686.1,206.6 686.3,208.0 686.5,209.3 686.7,212.8 686.9,213.8 687.1,217.3 687.3,215.8 687.5,211.7 687.7,210.5 687.9,208.3 688.1,209.4 688.3,209.1 688.5,211.1 688.7,214.7 688.9,219.7 689.1,220.9 689.3,218.5 689.5,211.3 689.7,206.4 689.9,205.1 690.1,207.0 690.3,208.7 690.5,212.3 690.7,215.0 690.9,213.2 691.1,213.7 691.3,212.4 691.5,211.2 691.7,210.6 691.9,208.8 692.1,209.5 692.3,211.7 692.5,214.1 692.7,214.4 692.9,220.6 693.1,214.4 693.3,210.5 693.5,209.4 693.7,207.4 693.9,210.5 694.1,210.8 694.3,213.2 694.5,214.0 694.7,214.4 694.9,213.1 695.1,211.0 695.3,210.1 695.5,208.8 695.7,210.1 695.9,210.5 696.1,213.0 696.3,212.8 696.5,212.8 696.7,212.6 696.9,213.4 697.1,210.9 697.3,208.9 697.5,209.7 697.7,210.4 697.9,211.3 698.1,213.3 698.3,216.2 698.5,221.2 698.7,216.8 698.9,212.3 699.1,208.2 699.3,206.2 699.5,207.3 699.7,209.8 699.9,212.3 700.1,212.8 700.3,213.5 700.5,212.2 700.7,210.8 700.9,209.6 701.1,206.7 701.3,210.2 701.5,210.6 701.7,212.2 701.9,214.1 702.1,212.7 702.3,214.7 702.5,216.0 702.7,212.1 702.9,209.8 703.1,209.0 703.3,205.7 703.5,208.1 703.7,210.7 703.9,215.3 704.1,213.7 704.3,218.6 704.5,214.8 704.7,210.4 704.9,203.5 705.1,201.7 705.3,202.9 705.5,208.0 705.7,213.6 705.9,212.5 706.1,215.7 706.3,214.6 706.5,211.5 706.7,210.5 706.9,208.9 707.1,207.3 707.3,207.0 707.5,210.1 707.7,211.8 707.9,212.6 708.1,214.8 708.3,213.6 708.5,211.5 708.7,207.1 708.9,204.0 709.1,201.1 709.3,208.1 709.5,212.0 709.7,212.8 709.9,215.8 710.1,215.1 710.3,219.6 710.5,213.1 710.7,206.8 710.9,204.3 711.1,206.5 711.3,209.7 711.5,210.4 711.7,212.7 711.9,218.7 712.1,225.3 712.3,220.4 712.5,216.7 712.7,210.1 712.9,205.2 713.1,206.0 713.3,206.5 713.5,210.5 713.7,212.8 713.9,213.1 714.1,213.4 714.3,215.0 714.5,213.3 714.7,209.1 714.9,205.3 715.1,204.7 715.3,210.4 715.5,210.8 715.7,213.2 715.9,216.5 716.1,214.7 716.3,216.8 716.5,215.4 716.7,214.1 716.9,211.3 717.1,208.9 717.3,204.7 717.5,206.9 717.7,209.6 717.9,211.2 718.1,214.1 718.3,213.3 718.5,212.8 718.7,212.7 718.9,214.5 719.1,213.6 719.3,208.8 719.5,201.9 719.7,197.0 719.9,199.6 720.1,203.3 720.3,207.9 720.5,215.3 720.7,222.8 720.9,226.4 721.1,226.2 721.3,219.0 721.5,214.8 721.7,208.3 721.9,204.9 722.1,209.4 722.3,206.6 722.5,207.1 722.7,211.4 722.9,216.0 723.1,221.8 723.3,222.5 723.5,219.8 723.7,215.3 723.9,211.8 724.1,210.7 724.3,206.9 724.5,210.0 724.7,207.5 724.9,208.8 725.1,211.1 725.3,213.7 725.5,212.6 725.7,216.7 725.9,217.6 726.1,212.9 726.3,212.2 726.5,210.8 726.7,209.8 726.9,205.6 727.1,204.5 727.3,202.2 727.5,208.1 727.7,212.5 727.9,214.8 728.1,219.7 728.3,217.1 728.5,216.4 728.7,216.5 728.9,211.7 729.1,206.8 729.3,205.8 729.5,208.2 729.7,209.9 729.9,209.5 730.1,210.0 730.3,214.0 730.5,221.7 730.7,219.4 730.9,215.8 731.1,216.9 731.3,212.8 731.5,207.8 731.7,209.1 731.9,207.2 732.1,208.1 732.3,199.6 732.5,206.8 732.7,213.9 732.9,222.2 733.1,227.2 733.3,229.3 733.5,225.1 733.7,214.2 733.9,210.8 734.1,208.3 734.3,207.1 734.5,205.2 734.7,205.5 734.9,208.3 735.1,211.7 735.3,214.2 735.5,213.1 735.7,213.3 735.9,218.4 736.1,215.9 736.3,212.4 736.5,205.6 736.7,203.1 736.9,197.2 737.1,197.6 737.3,205.3 737.5,212.0 737.7,217.8 737.9,225.0 738.1,222.3 738.3,213.9 738.5,215.4 738.7,212.2 738.9,209.5 739.1,209.7 739.3,209.3 739.5,204.9 739.7,209.6 739.9,209.1 740.1,213.6 740.3,220.7 740.5,227.6 740.7,229.4 740.9,222.3 741.1,212.2 741.3,206.5 741.5,206.4 741.7,203.8 741.9,208.5 742.1,208.5 742.3,209.9 742.5,212.6 742.7,213.9 742.9,214.0 743.1,213.6 743.3,214.7 743.5,214.9 743.7,212.0 743.9,210.1 744.1,206.5 744.3,200.5 744.5,208.6 744.7,203.3 744.9,206.7 745.1,211.6 745.3,213.4 745.5,219.0 745.7,221.4 745.9,213.4 746.1,215.5 746.3,211.1 746.5,209.7 746.7,207.4 746.9,208.7 747.1,209.4 747.3,209.2 747.5,210.2 747.7,215.5 747.9,214.1 748.1,220.3 748.3,222.7 748.5,216.0 748.7,212.1 748.9,210.6 749.1,207.9 749.3,208.8 749.5,207.0 749.7,208.8 749.9,209.7 750.1,213.7 750.3,218.8 750.5,227.3 750.7,221.2 750.9,217.0 751.1,204.5 751.3,196.8 751.5,190.2 751.7,196.7 751.9,207.5 752.1,210.4 752.3,212.1 752.5,221.3 752.7,224.4 752.9,223.4 753.1,220.1 753.3,213.4 753.5,206.6 753.7,205.7 753.9,201.4 754.1,209.7 754.3,209.9 754.5,211.8 754.7,220.3 754.9,219.1 755.1,214.0 755.3,215.5 755.5,214.7 755.7,211.7 755.9,209.9 756.1,206.4 756.3,193.7 756.5,204.3 756.7,208.5 756.9,212.0 757.1,213.2 757.3,216.7 757.5,218.0 757.7,214.2 757.9,213.8 758.1,214.8 758.3,210.1 758.5,201.8 758.7,206.0 758.9,208.8 759.1,207.1 759.3,211.2 759.5,213.6 759.7,217.5 759.9,217.1 760.1,215.2 760.3,216.8 760.5,213.0 760.7,210.5 760.9,210.0 761.1,208.5 761.3,204.9 761.5,208.3 761.7,211.6 761.9,216.0 762.1,220.1 762.3,226.6 762.5,218.2 762.7,215.9 762.9,211.7 763.1,209.9 763.3,207.9 763.5,206.3 763.7,201.6 763.9,206.0 764.1,211.8 764.3,215.8 764.5,225.1 764.7,215.4 764.9,215.6 765.1,216.2 765.3,209.7 765.5,208.7 765.7,209.2 765.9,208.3 766.1,199.6 766.3,208.7 766.5,211.1 766.7,215.5 766.9,218.0 767.1,220.2 767.3,218.7 767.5,214.5 767.7,213.6 767.9,208.4 768.1,202.7 768.3,208.7 768.5,207.5 768.7,208.9 768.9,210.4 769.1,211.0 769.3,214.6 769.5,216.6 769.7,216.0 769.9,215.2 770.1,213.0 770.3,211.6 770.5,210.3 770.7,207.6 770.9,205.0 771.1,203.9 771.3,205.2 771.5,212.2 771.7,216.5 771.9,227.8 772.1,224.5 772.3,217.5 772.5,213.0 772.7,206.9 772.9,196.0 773.1,187.9 773.3,192.6 773.5,193.7 773.7,203.4 773.9,216.4 774.1,226.1 774.3,223.2 774.5,222.1 774.7,215.0 774.9,216.2 775.1,210.5 775.3,204.2 775.5,200.0 775.7,201.0 775.9,200.9 776.1,209.7 776.3,214.7 776.5,214.4 776.7,215.5 776.9,223.5 777.1,223.9 777.3,217.9 777.5,201.0 777.7,198.1 777.9,193.6 778.1,192.8 778.3,200.4 778.5,212.1 778.7,215.7 778.9,217.8 779.1,220.4 779.3,224.7 779.5,219.1 779.7,210.3 779.9,202.5 780.1,203.9 780.3,200.7 780.5,203.5 780.7,202.8 780.9,212.1 781.1,218.3 781.3,218.8 781.5,220.2 781.7,226.4 781.9,216.5 782.1,214.4 782.3,210.0 782.5,207.2 782.7,208.5 782.9,196.5 783.1,202.8 783.3,210.0 783.5,211.4 783.7,216.1 783.9,228.7 784.1,225.9 784.3,214.7 784.5,214.0 784.7,212.1 784.9,206.8 785.1,202.3 785.3,207.2 785.5,195.4 785.7,204.0 785.9,215.3 786.1,220.2 786.3,224.3 786.5,228.1 786.7,221.9 786.9,213.6 787.1,218.7 787.3,209.2 787.5,198.5 787.7,196.4 787.9,197.5 788.1,202.4 788.3,210.7 788.5,212.1 788.7,215.9 788.9,220.7 789.1,223.4" fill="none" stroke="#006400" stroke-width="0.6"/>
<rect x="506.75" y="179.55" width="283.1" height="53.7" fill="none" stroke="#000" stroke-width="1.7"/>
<line x1="510.7" y1="179.55" x2="510.7" y2="174.55" stroke="#000" stroke-width="0.8"/>
<line x1="510.7" y1="233.25" x2="510.7" y2="238.25" stroke="#000" stroke-width="0.8"/>
<text x="510.7" y="251.6" font-family="Liberation Sans" font-size="10" text-anchor="middle" fill="#111">10</text>
<line x1="534.4" y1="179.55" x2="534.4" y2="174.55" stroke="#000" stroke-width="0.8"/>
<line x1="534.4" y1="233.25" x2="534.4" y2="238.25" stroke="#000" stroke-width="0.8"/>
<text x="534.4" y="251.6" font-family="Liberation Sans" font-size="10" text-anchor="middle" fill="#111">15</text>
<line x1="558.0" y1="179.55" x2="558.0" y2="174.55" stroke="#000" stroke-width="0.8"/>
<line x1="558.0" y1="233.25" x2="558.0" y2="238.25" stroke="#000" stroke-width="0.8"/>
<text x="558.0" y="251.6" font-family="Liberation Sans" font-size="10" text-anchor="middle" fill="#111">20</text>
<line x1="581.6" y1="179.55" x2="581.6" y2="174.55" stroke="#000" stroke-width="0.8"/>
<line x1="581.6" y1="233.25" x2="581.6" y2="238.25" stroke="#000" stroke-width="0.8"/>
<text x="581.6" y="251.6" font-family="Liberation Sans" font-size="10" text-anchor="middle" fill="#111">25</text>
<line x1="605.3" y1="179.55" x2="605.3" y2="174.55" stroke="#000" stroke-width="0.8"/>
<line x1="605.3" y1="233.25" x2="605.3" y2="238.25" stroke="#000" stroke-width="0.8"/>
<text x="605.3" y="251.6" font-family="Liberation Sans" font-size="10" text-anchor="middle" fill="#111">30</text>
<line x1="629.0" y1="179.55" x2="629.0" y2="174.55" stroke="#000" stroke-width="0.8"/>
<line x1="629.0" y1="233.25" x2="629.0" y2="238.25" stroke="#000" stroke-width="0.8"/>
<text x="629.0" y="251.6" font-family="Liberation Sans" font-size="10" text-anchor="middle" fill="#111">35</text>
<line x1="652.6" y1="179.55" x2="652.6" y2="174.55" stroke="#000" stroke-width="0.8"/>
<line x1="652.6" y1="233.25" x2="652.6" y2="238.25" stroke="#000" stroke-width="0.8"/>
<text x="652.6" y="251.6" font-family="Liberation Sans" font-size="10" text-anchor="middle" fill="#111">40</text>
<line x1="676.2" y1="179.55" x2="676.2" y2="174.55" stroke="#000" stroke-width="0.8"/>
<line x1="676.2" y1="233.25" x2="676.2" y2="238.25" stroke="#000" stroke-width="0.8"/>
<text x="676.2" y="251.6" font-family="Liberation Sans" font-size="10" text-anchor="middle" fill="#111">45</text>
<line x1="699.9" y1="179.55" x2="699.9" y2="174.55" stroke="#000" stroke-width="0.8"/>
<line x1="699.9" y1="233.25" x2="699.9" y2="238.25" stroke="#000" stroke-width="0.8"/>
<text x="699.9" y="251.6" font-family="Liberation Sans" font-size="10" text-anchor="middle" fill="#111">50</text>
<line x1="723.5" y1="179.55" x2="723.5" y2="174.55" stroke="#000" stroke-width="0.8"/>
<line x1="723.5" y1="233.25" x2="723.5" y2="238.25" stroke="#000" stroke-width="0.8"/>
<text x="723.5" y="251.6" font-family="Liberation Sans" font-size="10" text-anchor="middle" fill="#111">55</text>
<line x1="747.2" y1="179.55" x2="747.2" y2="174.55" stroke="#000" stroke-width="0.8"/>
<line x1="747.2" y1="233.25" x2="747.2" y2="238.25" stroke="#000" stroke-width="0.8"/>
<text x="747.2" y="251.6" font-family="Liberation Sans" font-size="10" text-anchor="middle" fill="#111">00</text>
<line x1="770.9" y1="179.55" x2="770.9" y2="174.55" stroke="#000" stroke-width="0.8"/>
<line x1="770.9" y1="233.25" x2="770.9" y2="238.25" stroke="#000" stroke-width="0.8"/>
<text x="770.9" y="251.6" font-family="Liberation Sans" font-size="10" text-anchor="middle" fill="#111">05</text>
<text x="799.5" y="190.9" font-family="Liberation Sans" font-weight="bold" font-size="10" fill="#1010ff">La Palma, Osa</text>
<text x="799.5" y="216.5" font-family="Liberation Sans" font-size="10" fill="#222">Acel. Max. 0.7</text>
<text x="799.5" y="232.7" font-family="Liberation Sans" font-size="10" fill="#222" letter-spacing="-0.15">Int JMA: 1</text>
<line x1="506.75" y1="287.5" x2="669" y2="287.5" stroke="#5fa25f" stroke-width="0.9"/>
<path d="M507.8,287.5 507.9,287.5 508.1,287.5 508.3,287.5 508.5,287.5 508.7,287.5 508.9,287.6 509.1,287.5 509.3,287.5 509.5,287.3 509.7,287.4 509.9,287.5 510.1,287.7 510.3,287.5 510.5,287.5 510.7,287.4 510.9,287.4 511.1,287.5 511.3,287.5 511.5,287.5 511.7,287.5 511.9,287.5 512.1,287.5 512.3,287.5 512.5,287.6 512.7,287.6 512.9,287.5 513.1,287.4 513.3,287.4 513.5,287.5 513.7,287.7 513.9,287.7 514.1,287.6 514.3,287.5 514.5,287.4 514.7,287.5 514.9,287.6 515.1,287.6 515.3,287.5 515.5,287.4 515.7,287.4 515.9,287.5 516.1,287.6 516.3,287.7 516.5,287.6 516.7,287.5 516.9,287.4 517.1,287.4 517.3,287.5 517.5,287.6 517.7,287.5 517.9,287.5 518.1,287.4 518.3,287.4 518.5,287.5 518.7,287.5 518.9,287.5 519.1,287.4 519.3,287.3 519.5,287.5 519.7,287.6 519.9,287.6 520.1,287.4 520.3,287.4 520.5,287.4 520.7,287.6 520.9,287.5 521.1,287.5 521.3,287.5 521.5,287.4 521.7,287.4 521.9,287.6 522.1,287.7 522.3,287.6 522.5,287.4 522.7,287.3 522.9,287.4 523.1,287.5 523.3,287.6 523.5,287.6 523.7,287.5 523.9,287.4 524.1,287.4 524.3,287.5 524.5,287.6 524.7,287.6 524.9,287.5 525.1,287.3 525.3,287.4 525.5,287.5 525.7,287.5 525.9,287.5 526.1,287.5 526.3,287.5 526.5,287.5 526.7,287.6 526.9,287.6 527.1,287.5 527.3,287.4 527.5,287.4 527.7,287.6 527.9,287.6 528.1,287.6 528.3,287.5 528.5,287.4 528.7,287.4 528.9,287.6 529.1,287.7 529.3,287.6 529.5,287.4 529.7,287.3 529.9,287.5 530.1,287.6 530.3,287.6 530.5,287.5 530.7,287.5 530.9,287.3 531.1,287.5 531.3,287.7 531.5,287.6 531.7,287.4 531.9,287.3 532.1,287.4 532.3,287.6 532.5,287.6 532.7,287.6 532.9,287.5 533.1,287.4 533.3,287.5 533.5,287.5 533.7,287.6 533.9,287.5 534.1,287.5 534.3,287.4 534.5,287.4 534.7,287.5 534.9,287.6 535.1,287.5 535.3,287.5 535.5,287.4 535.7,287.4 535.9,287.6 536.1,287.6 536.3,287.5 536.5,287.3 536.7,287.3 536.9,287.4 537.1,287.6 537.3,287.6 537.5,287.5 537.7,287.4 537.9,287.4 538.1,287.5 538.3,287.6 538.5,287.6 538.7,287.5 538.9,287.4 539.1,287.4 539.3,287.5 539.5,287.6 539.7,287.6 539.9,287.5 540.1,287.4 540.3,287.4 540.5,287.5 540.7,287.6 540.9,287.7 541.1,287.5 541.3,287.3 541.5,287.3 541.7,287.4 541.9,287.7 542.1,287.6 542.3,287.5 542.5,287.5 542.7,287.4 542.9,287.4 543.1,287.6 543.3,287.7 543.5,287.6 543.7,287.3 543.9,287.3 544.1,287.5 544.3,287.7 544.5,287.7 544.7,287.5 544.9,287.3 545.1,287.4 545.3,287.5 545.5,287.5 545.7,287.5 545.9,287.5 546.1,287.4 546.3,287.4 546.5,287.6 546.7,287.7 546.9,287.6 547.1,287.4 547.3,287.3 547.5,287.4 547.7,287.6 547.9,287.7 548.1,287.5 548.3,287.3 548.5,287.4 548.7,287.5 548.9,287.6 549.1,287.6 549.3,287.5 549.5,287.3 549.7,287.4 549.9,287.6 550.1,287.7 550.3,287.7 550.5,287.5 550.7,287.3 550.9,287.5 551.1,287.6 551.3,287.6 551.5,287.5 551.7,287.3 551.9,287.4 552.1,287.6 552.3,287.6 552.5,287.5 552.7,287.4 552.9,287.4 553.1,287.5 553.3,287.7 553.5,287.5 553.7,287.4 553.9,287.5 554.1,287.5 554.3,287.6 554.5,287.7 554.7,287.6 554.9,287.3 555.1,287.4 555.3,287.5 555.5,287.7 555.7,287.7 555.9,287.5 556.1,287.5 556.3,287.5 556.5,287.5 556.7,287.6 556.9,287.6 557.1,287.6 557.3,287.5 557.5,287.4 557.7,287.4 557.9,287.5 558.1,287.7 558.3,287.7 558.5,287.5 558.7,287.3 558.9,287.3 559.1,287.4 559.3,287.6 559.5,287.6 559.7,287.5 559.9,287.5 560.1,287.4 560.3,287.5 560.5,287.7 560.7,287.7 560.9,287.4 561.1,287.3 561.3,287.3 561.5,287.5 561.7,287.7 561.9,287.5 562.1,287.4 562.3,287.4 562.5,287.5 562.7,287.5 562.9,287.6 563.1,287.6 563.3,287.5 563.5,287.5 563.7,287.5 563.9,287.5 564.1,287.5 564.3,287.5 564.5,287.4 564.7,287.4 564.9,287.4 565.1,287.5 565.3,287.6 565.5,287.6 565.7,287.4 565.9,287.3 566.1,287.4 566.3,287.5 566.5,287.7 566.7,287.7 566.9,287.6 567.1,287.3 567.3,287.3 567.5,287.5 567.7,287.7 567.9,287.6 568.1,287.5 568.3,287.5 568.5,287.5 568.7,287.5 568.9,287.5 569.1,287.5 569.3,287.4 569.5,287.4 569.7,287.4 569.9,287.6 570.1,287.6 570.3,287.7 570.5,287.5 570.7,287.3 570.9,287.3 571.1,287.5 571.3,287.6 571.5,287.5 571.7,287.5 571.9,287.4 572.1,287.4 572.3,287.6 572.5,287.7 572.7,287.6 572.9,287.5 573.1,287.4 573.3,287.3 573.5,287.5 573.7,287.6 573.9,287.6 574.1,287.5 574.3,287.5 574.5,287.5 574.7,287.6 574.9,287.6 575.1,287.5 575.3,287.5 575.5,287.4 575.7,287.5 575.9,287.6 576.1,287.5 576.3,287.4 576.5,287.4 576.7,287.4 576.9,287.5 577.1,287.7 577.3,287.6 577.5,287.4 577.7,287.3 577.9,287.4 578.1,287.6 578.3,287.7 578.5,287.5 578.7,287.4 578.9,287.4 579.1,287.5 579.3,287.6 579.5,287.7 579.7,287.6 579.9,287.3 580.1,287.4 580.3,287.5 580.5,287.7 580.7,287.6 580.9,287.5 581.1,287.3 581.3,287.4 581.5,287.5 581.7,287.5 581.9,287.5 582.1,287.5 582.3,287.4 582.5,287.3 582.7,287.5 582.9,287.7 583.1,287.6 583.3,287.4 583.5,287.4 583.7,287.5 583.9,287.5 584.1,287.6 584.3,287.6 584.5,287.4 584.7,287.3 584.9,287.5 585.1,287.7 585.3,287.6 585.5,287.5 585.7,287.5 585.9,287.5 586.1,287.5 586.3,287.7 586.5,287.7 586.7,287.6 586.9,287.4 587.1,287.3 587.3,287.5 587.5,287.6 587.7,287.6 587.9,287.5 588.1,287.3 588.3,287.4 588.5,287.6 588.7,287.7 588.9,287.5 589.1,287.3 589.3,287.4 589.5,287.5 589.7,287.5 589.9,287.5 590.1,287.5 590.3,287.4 590.5,287.5 590.7,287.6 590.9,287.6 591.1,287.5 591.3,287.4 591.5,287.4 591.7,287.4 591.9,287.5 592.1,287.5 592.3,287.5 592.5,287.5 592.7,287.4 592.9,287.4 593.1,287.5 593.3,287.6 593.5,287.6 593.7,287.5 593.9,287.5 594.1,287.4 594.3,287.5 594.5,287.6 594.7,287.6 594.9,287.5 595.1,287.4 595.3,287.4 595.5,287.5 595.7,287.6 595.9,287.6 596.1,287.5 596.3,287.4 596.5,287.5 596.7,287.5 596.9,287.6 597.1,287.5 597.3,287.5 597.5,287.4 597.7,287.5 597.9,287.6 598.1,287.6 598.3,287.6 598.5,287.5 598.7,287.5 598.9,287.5 599.1,287.6 599.3,287.6 599.5,287.6 599.7,287.4 599.9,287.3 600.1,287.3 600.3,287.6 600.5,287.7 600.7,287.6 600.9,287.4 601.1,287.4 601.3,287.6 601.5,287.6 601.7,287.5 601.9,287.4 602.1,287.4 602.3,287.5 602.5,287.7 602.7,287.7 602.9,287.5 603.1,287.3 603.3,287.3 603.5,287.6 603.7,287.7 603.9,287.6 604.1,287.5 604.3,287.4 604.5,287.3 604.7,287.5 604.9,287.5 605.1,287.6 605.3,287.5 605.5,287.5 605.7,287.4 605.9,287.5 606.1,287.6 606.3,287.6 606.5,287.5 606.7,287.4 606.9,287.5 607.1,287.6 607.3,287.6 607.5,287.4 607.7,287.3 607.9,287.4 608.1,287.6 608.3,287.7 608.5,287.7 608.7,287.4 608.9,287.3 609.1,287.4 609.3,287.6 609.5,287.6 609.7,287.5 609.9,287.5 610.1,287.3 610.3,287.4 610.5,287.5 610.7,287.6 610.9,287.6 611.1,287.5 611.3,287.4 611.5,287.4 611.7,287.5 611.9,287.5 612.1,287.5 612.3,287.5 612.5,287.4 612.7,287.3 612.9,287.5 613.1,287.7 613.3,287.6 613.5,287.5 613.7,287.4 613.9,287.4 614.1,287.5 614.3,287.5 614.5,287.5 614.7,287.5 614.9,287.4 615.1,287.4 615.3,287.5 615.5,287.5 615.7,287.5 615.9,287.6 616.1,287.4 616.3,287.3 616.5,287.3 616.7,287.5 616.9,287.7 617.1,287.7 617.3,287.4 617.5,287.3 617.7,287.5 617.9,287.6 618.1,287.6 618.3,287.5 618.5,287.4 618.7,287.3 618.9,287.4 619.1,287.6 619.3,287.6 619.5,287.5 619.7,287.4 619.9,287.4 620.1,287.5 620.3,287.5 620.5,287.5 620.7,287.5 620.9,287.4 621.1,287.3 621.3,287.5 621.5,287.6 621.7,287.5 621.9,287.5 622.1,287.5 622.3,287.4 622.5,287.5 622.7,287.6 622.9,287.7 623.1,287.5 623.3,287.4 623.5,287.5 623.7,287.5 623.9,287.5 624.1,287.5 624.3,287.6 624.5,287.5 624.7,287.3 624.9,287.4 625.1,287.5 625.3,287.6 625.5,287.6 625.7,287.5 625.9,287.5 626.1,287.5 626.3,287.6 626.5,287.6 626.7,287.5 626.9,287.4 627.1,287.4 627.3,287.5 627.5,287.5 627.7,287.5 627.9,287.5 628.1,287.5 628.3,287.5 628.5,287.5 628.7,287.5 628.9,287.5 629.1,287.5 629.3,287.5 629.5,287.5 629.7,287.5 629.9,287.7 630.1,287.6 630.3,287.4 630.5,287.4 630.7,287.4 630.9,287.5 631.1,287.5 631.3,287.6 631.5,287.5 631.7,287.4 631.9,287.5 632.1,287.5 632.3,287.5 632.5,287.5 632.7,287.5 632.9,287.5 633.1,287.5 633.3,287.5 633.5,287.5 633.7,287.5 633.9,287.3 634.1,287.3 634.3,287.5 634.5,287.7 634.7,287.7 634.9,287.5 635.1,287.4 635.3,287.4 635.5,287.5 635.7,287.6 635.9,287.6 636.1,287.5 636.3,287.4 636.5,287.4 636.7,287.4 636.9,287.5 637.1,287.5 637.3,287.5 637.5,287.5 637.7,287.4 637.9,287.5 638.1,287.6 638.3,287.6 638.5,287.5 638.7,287.4 638.9,287.4 639.1,287.5 639.3,287.6 639.5,287.6 639.7,287.5 639.9,287.4 640.1,287.5 640.3,287.6 640.5,287.7 640.7,287.6 640.9,287.5 641.1,287.5 641.3,287.4 641.5,287.5 641.7,287.5 641.9,287.5 642.1,287.5 642.3,287.4 642.5,287.5 642.7,287.5 642.9,287.5 643.1,287.5 643.3,287.3 643.5,287.4 643.7,287.5 643.9,287.6 644.1,287.5 644.3,287.4 644.5,287.4 644.7,287.5 644.9,287.6 645.1,287.5 645.3,287.4 645.5,287.4 645.7,287.5 645.9,287.6 646.1,287.6 646.3,287.6 646.5,287.5 646.7,287.5 646.9,287.5 647.1,287.5 647.3,287.5 647.5,287.5 647.7,287.5 647.9,287.4 648.1,287.5 648.3,287.5 648.5,287.5 648.7,287.5 648.9,287.4 649.1,287.3 649.3,287.4 649.5,287.6 649.7,287.6 649.9,287.6 650.1,287.5 650.3,287.5 650.5,287.5 650.7,287.5 650.9,287.6 651.1,287.5 651.3,287.5 651.5,287.5 651.7,287.5 651.9,287.5 652.1,287.5 652.3,287.5 652.5,287.5 652.7,287.4 652.9,287.5 653.1,287.6 653.3,287.6 653.5,287.4 653.7,287.3 653.9,287.4 654.1,287.6 654.3,287.7 654.5,287.7 654.7,287.5 654.9,287.3 655.1,287.4 655.3,287.6 655.5,287.7 655.7,287.5 655.9,287.4 656.1,287.4 656.3,287.5 656.5,287.6 656.7,287.7 656.9,287.5 657.1,287.4 657.3,287.3 657.5,287.5 657.7,287.7 657.9,287.6 658.1,287.4 658.3,287.4 658.5,287.4 658.7,287.5 658.9,287.6 659.1,287.5 659.3,287.5 659.5,287.4 659.7,287.5 659.9,287.6 660.1,287.6 660.3,287.4 660.5,287.3 660.7,287.5 660.9,287.6 661.1,287.6 661.3,287.5 661.5,287.4 661.7,287.5 661.9,287.5 662.1,287.6 662.3,287.6 662.5,287.5 662.7,287.4 662.9,287.5 663.1,287.5 663.3,287.5 663.5,287.5 663.7,287.5 663.9,287.4 664.1,287.5 664.3,287.5 664.5,287.6 664.7,287.5 664.9,287.5 665.1,287.5 665.3,287.5 665.5,287.5 665.7,287.5 665.9,287.6 666.1,287.5 666.3,287.5 666.5,287.4 666.7,287.5 666.9,287.5 667.1,287.6 667.3,287.5 667.5,287.4 667.7,287.4 667.9,287.5 668.1,287.7 668.3,287.7 668.5,286.8 668.7,279.6 668.9,278.8 669.1,293.7 669.3,303.2 669.5,297.0 669.7,283.3 669.9,272.5 670.1,279.7 670.3,288.7 670.5,295.3 670.7,288.2 670.9,278.8 671.1,284.1 671.3,288.8 671.5,295.6 671.7,293.7 671.9,281.0 672.1,282.9 672.3,289.6 672.5,296.8 672.7,290.8 672.9,283.5 673.1,279.3 673.3,283.6 673.5,294.0 673.7,293.2 673.9,286.5 674.1,277.4 674.3,286.2 674.5,293.2 674.7,293.4 674.9,288.2 675.1,281.0 675.3,284.0 675.5,294.9 675.7,299.0 675.9,291.0 676.1,274.9 676.3,277.1 676.5,289.8 676.7,300.2 676.9,292.0 677.1,286.6 677.3,281.0 677.5,282.0 677.7,291.9 677.9,292.1 678.1,281.2 678.3,278.6 678.5,286.7 678.7,294.9 678.9,291.9 679.1,287.0 679.3,281.9 679.5,279.3 679.7,291.1 679.9,298.2 680.1,291.6 680.3,275.0 680.5,279.4 680.7,287.4 680.9,292.3 681.1,292.8 681.3,284.0 681.5,275.1 681.7,284.9 681.9,297.9 682.1,292.6 682.3,285.6 682.5,281.3 682.7,286.9 682.9,291.6 683.1,290.5 683.3,291.6 683.5,289.1 683.7,286.0 683.9,282.8 684.1,283.0 684.3,286.3 684.5,284.0 684.7,288.7 684.9,296.8 685.1,299.2 685.3,297.1 685.5,289.1 685.7,280.5 685.9,276.4 686.1,278.0 686.3,283.7 686.5,289.0 686.7,293.8 686.9,290.0 687.1,288.7 687.3,287.3 687.5,285.9 687.7,286.4 687.9,286.3 688.1,287.3 688.3,290.3 688.5,289.0 688.7,290.3 688.9,289.6 689.1,286.4 689.3,283.3 689.5,284.2 689.7,288.0 689.9,292.0 690.1,294.6 690.3,289.7 690.5,286.0 690.7,283.6 690.9,285.6 691.1,287.2 691.3,288.0 691.5,290.9 691.7,288.7 691.9,286.3 692.1,284.6 692.3,282.8 692.5,286.6 692.7,290.3 692.9,293.9 693.1,290.1 693.3,287.9 693.5,286.1 693.7,285.3 693.9,286.4 694.1,287.1 694.3,288.1 694.5,290.0 694.7,289.3 694.9,286.7 695.1,284.5 695.3,286.0 695.5,287.2 695.7,287.8 695.9,288.7 696.1,288.6 696.3,288.9 696.5,287.1 696.7,284.8 696.9,286.6 697.1,287.3 697.3,288.7 697.5,289.9 697.7,288.8 697.9,287.0 698.1,284.3 698.3,284.6 698.5,285.0 698.7,290.2 698.9,292.3 699.1,291.2 699.3,289.6 699.5,282.3 699.7,282.6 699.9,282.4 700.1,287.8 700.3,288.2 700.5,288.6 700.7,288.1 700.9,286.0 701.1,281.6 701.3,283.8 701.5,288.3 701.7,288.2 701.9,288.1 702.1,289.0 702.3,287.3 702.5,285.7 702.7,285.3 702.9,287.3 703.1,289.5 703.3,289.5 703.5,288.3 703.7,287.2 703.9,284.6 704.1,283.9 704.3,285.3 704.5,290.3 704.7,292.2 704.9,290.6 705.1,286.7 705.3,285.4 705.5,286.9 705.7,286.6 705.9,287.6 706.1,288.4 706.3,289.0 706.5,287.7 706.7,286.2 706.9,283.1 707.1,287.2 707.3,288.7 707.5,291.5 707.7,290.6 707.9,286.3 708.1,282.7 708.3,284.4 708.5,290.0 708.7,294.5 708.9,292.7 709.1,288.4 709.3,283.2 709.5,280.5 709.7,283.5 709.9,289.3 710.1,288.2 710.3,287.8 710.5,286.1 710.7,285.6 710.9,285.8 711.1,288.0 711.3,289.9 711.5,288.4 711.7,287.9 711.9,285.4 712.1,285.7 712.3,287.2 712.5,289.2 712.7,289.9 712.9,290.7 713.1,286.3 713.3,284.3 713.5,285.7 713.7,288.0 713.9,289.8 714.1,288.9 714.3,287.3 714.5,285.3 714.7,284.8 714.9,286.2 715.1,288.3 715.3,289.0 715.5,288.2 715.7,287.0 715.9,285.7 716.1,285.4 716.3,286.8 716.5,289.7 716.7,290.6 716.9,290.8 717.1,286.3 717.3,284.6 717.5,282.4 717.7,286.4 717.9,288.3 718.1,288.2 718.3,289.6 718.5,287.4 718.7,286.8 718.9,286.4 719.1,287.4 719.3,289.7 719.5,289.9 719.7,287.9 719.9,287.2 720.1,286.6 720.3,287.2 720.5,288.4 720.7,291.3 720.9,288.1 721.1,287.5 721.3,285.5 721.5,286.1 721.7,287.8 721.9,290.7 722.1,293.9 722.3,289.4 722.5,285.0 722.7,284.4 722.9,287.2 723.1,288.3 723.3,290.2 723.5,288.4 723.7,284.4 723.9,283.8 724.1,284.4 724.3,288.2 724.5,291.8 724.7,290.8 724.9,287.3 725.1,286.4 725.3,286.2 725.5,287.5 725.7,289.1 725.9,290.2 726.1,292.5 726.3,287.7 726.5,282.1 726.7,282.8 726.9,285.6 727.1,289.3 727.3,291.8 727.5,288.6 727.7,287.1 727.9,286.6 728.1,283.9 728.3,286.1 728.5,290.4 728.7,293.8 728.9,290.1 729.1,286.9 729.3,285.3 729.5,284.7 729.7,287.0 729.9,287.8 730.1,289.4 730.3,288.0 730.5,287.2 730.7,285.6 730.9,286.5 731.1,286.8 731.3,290.5 731.5,291.2 731.7,289.5 731.9,284.6 732.1,281.5 732.3,285.1 732.5,291.9 732.7,290.5 732.9,288.5 733.1,286.6 733.3,286.5 733.5,286.2 733.7,287.8 733.9,289.1 734.1,288.4 734.3,288.4 734.5,284.9 734.7,283.5 734.9,285.3 735.1,287.5 735.3,289.7 735.5,292.2 735.7,289.3 735.9,286.7 736.1,285.7 736.3,284.4 736.5,286.4 736.7,289.0 736.9,290.8 737.1,287.9 737.3,287.3 737.5,285.3 737.7,284.5 737.9,287.5 738.1,290.8 738.3,290.8 738.5,288.1 738.7,283.5 738.9,285.4 739.1,287.4 739.3,289.2 739.5,288.0 739.7,287.6 739.9,286.2 740.1,286.0 740.3,284.8 740.5,288.1 740.7,291.5 740.9,288.4 741.1,289.7 741.3,283.8 741.5,280.2 741.7,280.6 741.9,287.5 742.1,291.9 742.3,296.2 742.5,294.0 742.7,288.9 742.9,286.9 743.1,284.4 743.3,279.4 743.5,281.2 743.7,283.5 743.9,290.3 744.1,297.2 744.3,296.5 744.5,297.4 744.7,290.5 744.9,284.8 745.1,279.3 745.3,277.1 745.5,284.6 745.7,285.3 745.9,288.5 746.1,294.0 746.3,295.0 746.5,295.4 746.7,291.4 746.9,289.3 747.1,286.5 747.3,284.0 747.5,282.4 747.7,283.3 747.9,279.3 748.1,284.9 748.3,288.5 748.5,288.5 748.7,290.9 748.9,289.2 749.1,289.4 749.3,288.1 749.5,286.3 749.7,280.3 749.9,272.8 750.1,276.3 750.3,283.6 750.5,285.2 750.7,291.4 750.9,298.5 751.1,295.3 751.3,290.4 751.5,295.7 751.7,291.4 751.9,287.8 752.1,284.6 752.3,270.2 752.5,267.4 752.7,276.5 752.9,284.3 753.1,287.9 753.3,290.6 753.5,289.5 753.7,291.2 753.9,292.6 754.1,289.2 754.3,286.9 754.5,283.7 754.7,279.5 754.9,279.2 755.1,284.0 755.3,284.8 755.5,285.9 755.7,295.9 755.9,301.4 756.1,304.1 756.3,293.6 756.5,288.9 756.7,289.5 756.9,284.2 757.1,272.1 757.3,267.6 757.5,267.8 757.7,278.0 757.9,291.8 758.1,298.6 758.3,307.9 758.5,310.1 758.7,302.9 758.9,295.2 759.1,285.3 759.3,281.4 759.5,276.5 759.7,276.6 759.9,285.6 760.1,285.7 760.3,288.5 760.5,290.5 760.7,292.5 760.9,291.8 761.1,295.4 761.3,298.4 761.5,292.4 761.7,279.9 761.9,271.1 762.1,264.5 762.3,267.9 762.5,277.3 762.7,283.1 762.9,289.2 763.1,294.6 763.3,289.8 763.5,295.8 763.7,289.7 763.9,288.9 764.1,284.2 764.3,279.4 764.5,278.3 764.7,284.0 764.9,284.8 765.1,283.2 765.3,288.3 765.5,294.1 765.7,293.1 765.9,307.0 766.1,306.2 766.3,295.9 766.5,287.5 766.7,286.0 766.9,280.8 767.1,279.9 767.3,284.2 767.5,281.1 767.7,289.4 767.9,298.1 768.1,300.3 768.3,301.4 768.5,295.5 768.7,289.8 768.9,287.2 769.1,281.0 769.3,277.8 769.5,279.4 769.7,278.0 769.9,279.6 770.1,285.6 770.3,288.6 770.5,292.8 770.7,302.3 770.9,299.2 771.1,291.2 771.3,288.1 771.5,281.2 771.7,281.7 771.9,276.9 772.1,284.1 772.3,280.5 772.5,289.0 772.7,292.8 772.9,293.5 773.1,297.8 773.3,292.0 773.5,289.2 773.7,287.1 773.9,286.2 774.1,285.0 774.3,280.1 774.5,283.7 774.7,285.1 774.9,288.0 775.1,289.0 775.3,292.9 775.5,299.4 775.7,301.2 775.9,295.5 776.1,288.6 776.3,282.8 776.5,283.6 776.7,280.9 776.9,284.9 777.1,284.4 777.3,285.1 777.5,289.3 777.7,296.6 777.9,297.1 778.1,295.9 778.3,289.0 778.5,288.3 778.7,281.5 778.9,274.5 779.1,270.9 779.3,274.6 779.5,278.7 779.7,284.3 779.9,290.5 780.1,294.6 780.3,289.7 780.5,291.7 780.7,290.2 780.9,288.8 781.1,286.9 781.3,285.3 781.5,279.7 781.7,284.7 781.9,284.7 782.1,285.6 782.3,285.9 782.5,288.9 782.7,291.9 782.9,289.8 783.1,292.7 783.3,293.5 783.5,293.6 783.7,288.2 783.9,285.2 784.1,284.5 784.3,277.6 784.5,285.1 784.7,285.4 784.9,287.0 785.1,289.0 785.3,299.5 785.5,311.2 785.7,301.1 785.9,301.7 786.1,289.8 786.3,281.5 786.5,267.7 786.7,278.8 786.9,284.3 787.1,285.0 787.3,287.2 787.5,291.1 787.7,290.1 787.9,291.6 788.1,292.8 788.3,292.6 788.5,292.6 788.7,282.6 788.9,276.8 789.1,266.4" fill="none" stroke="#006400" stroke-width="0.6"/>
<rect x="506.75" y="258.75" width="283.1" height="53.7" fill="none" stroke="#000" stroke-width="1.7"/>
<line x1="512.7" y1="258.75" x2="512.7" y2="253.75" stroke="#000" stroke-width="0.8"/>
<line x1="512.7" y1="312.45" x2="512.7" y2="317.45" stroke="#000" stroke-width="0.8"/>
<text x="512.7" y="330.8" font-family="Liberation Sans" font-size="10" text-anchor="middle" fill="#111">10</text>
<line x1="536.4" y1="258.75" x2="536.4" y2="253.75" stroke="#000" stroke-width="0.8"/>
<line x1="536.4" y1="312.45" x2="536.4" y2="317.45" stroke="#000" stroke-width="0.8"/>
<text x="536.4" y="330.8" font-family="Liberation Sans" font-size="10" text-anchor="middle" fill="#111">15</text>
<line x1="560.0" y1="258.75" x2="560.0" y2="253.75" stroke="#000" stroke-width="0.8"/>
<line x1="560.0" y1="312.45" x2="560.0" y2="317.45" stroke="#000" stroke-width="0.8"/>
<text x="560.0" y="330.8" font-family="Liberation Sans" font-size="10" text-anchor="middle" fill="#111">20</text>
<line x1="583.7" y1="258.75" x2="583.7" y2="253.75" stroke="#000" stroke-width="0.8"/>
<line x1="583.7" y1="312.45" x2="583.7" y2="317.45" stroke="#000" stroke-width="0.8"/>
<text x="583.7" y="330.8" font-family="Liberation Sans" font-size="10" text-anchor="middle" fill="#111">25</text>
<line x1="607.3" y1="258.75" x2="607.3" y2="253.75" stroke="#000" stroke-width="0.8"/>
<line x1="607.3" y1="312.45" x2="607.3" y2="317.45" stroke="#000" stroke-width="0.8"/>
<text x="607.3" y="330.8" font-family="Liberation Sans" font-size="10" text-anchor="middle" fill="#111">30</text>
<line x1="631.0" y1="258.75" x2="631.0" y2="253.75" stroke="#000" stroke-width="0.8"/>
<line x1="631.0" y1="312.45" x2="631.0" y2="317.45" stroke="#000" stroke-width="0.8"/>
<text x="631.0" y="330.8" font-family="Liberation Sans" font-size="10" text-anchor="middle" fill="#111">35</text>
<line x1="654.6" y1="258.75" x2="654.6" y2="253.75" stroke="#000" stroke-width="0.8"/>
<line x1="654.6" y1="312.45" x2="654.6" y2="317.45" stroke="#000" stroke-width="0.8"/>
<text x="654.6" y="330.8" font-family="Liberation Sans" font-size="10" text-anchor="middle" fill="#111">40</text>
<line x1="678.2" y1="258.75" x2="678.2" y2="253.75" stroke="#000" stroke-width="0.8"/>
<line x1="678.2" y1="312.45" x2="678.2" y2="317.45" stroke="#000" stroke-width="0.8"/>
<text x="678.2" y="330.8" font-family="Liberation Sans" font-size="10" text-anchor="middle" fill="#111">45</text>
<line x1="701.9" y1="258.75" x2="701.9" y2="253.75" stroke="#000" stroke-width="0.8"/>
<line x1="701.9" y1="312.45" x2="701.9" y2="317.45" stroke="#000" stroke-width="0.8"/>
<text x="701.9" y="330.8" font-family="Liberation Sans" font-size="10" text-anchor="middle" fill="#111">50</text>
<line x1="725.6" y1="258.75" x2="725.6" y2="253.75" stroke="#000" stroke-width="0.8"/>
<line x1="725.6" y1="312.45" x2="725.6" y2="317.45" stroke="#000" stroke-width="0.8"/>
<text x="725.6" y="330.8" font-family="Liberation Sans" font-size="10" text-anchor="middle" fill="#111">55</text>
<line x1="749.2" y1="258.75" x2="749.2" y2="253.75" stroke="#000" stroke-width="0.8"/>
<line x1="749.2" y1="312.45" x2="749.2" y2="317.45" stroke="#000" stroke-width="0.8"/>
<text x="749.2" y="330.8" font-family="Liberation Sans" font-size="10" text-anchor="middle" fill="#111">00</text>
<line x1="772.9" y1="258.75" x2="772.9" y2="253.75" stroke="#000" stroke-width="0.8"/>
<line x1="772.9" y1="312.45" x2="772.9" y2="317.45" stroke="#000" stroke-width="0.8"/>
<text x="772.9" y="330.8" font-family="Liberation Sans" font-size="10" text-anchor="middle" fill="#111">05</text>
<text x="799.5" y="270.1" font-family="Liberation Sans" font-weight="bold" font-size="10" fill="#1010ff">Golfito CTP</text>
<text x="799.5" y="295.6" font-family="Liberation Sans" font-size="10" fill="#222">Acel. Max. 0.7</text>
<text x="799.5" y="311.9" font-family="Liberation Sans" font-size="10" fill="#222" letter-spacing="-0.15">Int JMA: 1</text>
<path d="M507.8,368.9 507.9,368.8 508.1,366.1 508.3,363.3 508.5,363.5 508.7,366.5 508.9,368.3 509.1,368.0 509.3,365.8 509.5,362.9 509.7,363.3 509.9,367.8 510.1,372.2 510.3,369.3 510.5,364.5 510.7,364.7 510.9,365.0 511.1,367.9 511.3,368.9 511.5,367.6 511.7,366.0 511.9,363.2 512.1,363.6 512.3,367.1 512.5,369.6 512.7,367.0 512.9,365.0 513.1,363.6 513.3,366.6 513.5,371.7 513.7,370.8 513.9,369.2 514.1,364.7 514.3,364.0 514.5,365.7 514.7,367.5 514.9,369.6 515.1,366.4 515.3,364.6 515.5,364.8 515.7,365.9 515.9,368.3 516.1,370.0 516.3,368.2 516.5,365.1 516.7,365.1 516.9,365.4 517.1,367.5 517.3,368.4 517.5,368.1 517.7,366.0 517.9,364.8 518.1,365.2 518.3,367.2 518.5,367.8 518.7,367.9 518.9,365.3 519.1,364.4 519.3,365.6 519.5,367.5 519.7,368.7 519.9,368.2 520.1,366.9 520.3,361.4 520.5,360.7 520.7,364.6 520.9,370.3 521.1,370.2 521.3,367.4 521.5,363.3 521.7,363.2 521.9,365.9 522.1,369.1 522.3,371.5 522.5,366.7 522.7,361.2 522.9,362.4 523.1,368.1 523.3,372.5 523.5,368.1 523.7,363.5 523.9,360.7 524.1,365.1 524.3,371.6 524.5,372.3 524.7,368.6 524.9,364.4 525.1,361.2 525.3,363.6 525.5,366.5 525.7,368.6 525.9,368.7 526.1,366.5 526.3,364.4 526.5,362.8 526.7,365.4 526.9,368.7 527.1,370.2 527.3,368.4 527.5,365.9 527.7,364.7 527.9,366.0 528.1,367.4 528.3,368.2 528.5,367.4 528.7,365.5 528.9,363.6 529.1,364.8 529.3,367.3 529.5,368.8 529.7,367.2 529.9,364.9 530.1,363.5 530.3,365.5 530.5,366.8 530.7,369.0 530.9,368.1 531.1,366.6 531.3,365.0 531.5,365.2 531.7,366.5 531.9,368.1 532.1,369.2 532.3,367.1 532.5,365.3 532.7,365.3 532.9,365.9 533.1,368.4 533.3,372.2 533.5,366.8 533.7,363.4 533.9,364.0 534.1,366.3 534.3,367.8 534.5,368.1 534.7,368.9 534.9,365.0 535.1,362.7 535.3,363.0 535.5,366.9 535.7,369.6 535.9,367.6 536.1,366.3 536.3,364.1 536.5,365.0 536.7,366.7 536.9,369.0 537.1,368.1 537.3,365.1 537.5,361.2 537.7,362.8 537.9,369.0 538.1,371.8 538.3,368.9 538.5,365.8 538.7,364.1 538.9,362.7 539.1,368.9 539.3,372.5 539.5,370.3 539.7,365.4 539.9,361.8 540.1,363.2 540.3,365.3 540.5,368.1 540.7,369.4 540.9,366.7 541.1,363.6 541.3,365.7 541.5,367.6 541.7,368.3 541.9,367.0 542.1,363.7 542.3,362.2 542.5,364.1 542.7,366.7 542.9,368.1 543.1,367.6 543.3,365.9 543.5,364.6 543.7,365.8 543.9,367.8 544.1,369.4 544.3,367.8 544.5,365.1 544.7,362.8 544.9,364.1 545.1,367.5 545.3,369.2 545.5,368.2 545.7,366.3 545.9,363.4 546.1,363.7 546.3,366.7 546.5,368.8 546.7,368.1 546.9,365.7 547.1,362.3 547.3,364.9 547.5,370.0 547.7,371.5 547.9,368.3 548.1,362.7 548.3,362.4 548.5,365.3 548.7,367.4 548.9,369.9 549.1,368.1 549.3,364.6 549.5,365.0 549.7,365.6 549.9,369.5 550.1,371.9 550.3,370.4 550.5,365.6 550.7,364.2 550.9,365.8 551.1,367.2 551.3,367.9 551.5,367.1 551.7,365.3 551.9,362.6 552.1,365.7 552.3,369.4 552.5,370.9 552.7,367.0 552.9,362.5 553.1,362.2 553.3,365.8 553.5,369.5 553.7,370.1 553.9,367.1 554.1,364.6 554.3,365.0 554.5,368.6 554.7,370.8 554.9,367.7 555.1,365.3 555.3,364.6 555.5,364.3 555.7,369.7 555.9,370.9 556.1,367.2 556.3,364.0 556.5,363.0 556.7,365.9 556.9,369.5 557.1,368.6 557.3,366.6 557.5,365.1 557.7,364.5 557.9,366.3 558.1,369.6 558.3,371.2 558.5,365.5 558.7,361.5 558.9,363.0 559.1,366.0 559.3,368.8 559.5,369.0 559.7,366.6 559.9,365.5 560.1,363.6 560.3,366.1 560.5,367.3 560.7,368.0 560.9,367.7 561.1,365.2 561.3,364.1 561.5,365.9 561.7,367.4 561.9,368.7 562.1,368.7 562.3,366.6 562.5,363.7 562.7,363.9 562.9,366.5 563.1,370.4 563.3,369.6 563.5,366.1 563.7,364.4 563.9,364.0 564.1,367.6 564.3,368.5 564.5,367.5 564.7,365.1 564.9,364.6 565.1,365.9 565.3,367.4 565.5,369.5 565.7,366.1 565.9,363.4 566.1,365.7 566.3,367.6 566.5,368.4 566.7,368.0 566.9,366.1 567.1,364.8 567.3,365.3 567.5,365.8 567.7,368.2 567.9,371.7 568.1,366.6 568.3,365.1 568.5,362.7 568.7,365.5 568.9,368.4 569.1,370.1 569.3,366.2 569.5,362.3 569.7,362.8 569.9,366.1 570.1,367.5 570.3,368.2 570.5,367.7 570.7,365.1 570.9,365.1 571.1,366.5 571.3,368.1 571.5,368.9 571.7,366.3 571.9,363.2 572.1,364.6 572.3,366.6 572.5,367.9 572.7,368.4 572.9,367.2 573.1,363.0 573.3,363.3 573.5,365.3 573.7,369.1 573.9,368.6 574.1,366.8 574.3,365.5 574.5,364.2 574.7,365.5 574.9,367.0 575.1,369.2 575.3,366.7 575.5,363.4 575.7,361.0 575.9,365.3 576.1,370.5 576.3,372.3 576.5,367.7 576.7,361.7 576.9,361.3 577.1,368.2 577.3,369.5 577.5,369.0 577.7,366.3 577.9,364.4 578.1,363.9 578.3,367.0 578.5,368.0 578.7,368.4 578.9,364.9 579.1,363.8 579.3,365.5 579.5,367.2 579.7,368.4 579.9,369.4 580.1,365.0 580.3,360.5 580.5,364.2 580.7,371.0 580.9,372.4 581.1,369.3 581.3,363.8 581.5,360.6 581.7,361.8 581.9,366.9 582.1,372.3 582.3,369.4 582.5,364.4 582.7,363.0 582.9,365.9 583.1,367.3 583.3,368.3 583.5,367.2 583.7,365.3 583.9,363.3 584.1,363.4 584.3,368.8 584.5,368.7 584.7,367.5 584.9,364.1 585.1,362.7 585.3,365.7 585.5,368.2 585.7,368.6 585.9,364.5 586.1,363.3 586.3,366.2 586.5,367.5 586.7,371.4 586.9,368.3 587.1,365.3 587.3,363.6 587.5,366.8 587.7,369.7 587.9,369.0 588.1,366.0 588.3,364.9 588.5,364.8 588.7,366.5 588.9,368.3 589.1,368.0 589.3,367.0 589.5,365.0 589.7,363.8 589.9,364.1 590.1,368.9 590.3,371.7 590.5,367.7 590.7,364.2 590.9,364.2 591.1,365.4 591.3,367.4 591.5,367.8 591.7,367.5 591.9,366.5 592.1,365.3 592.3,364.5 592.5,366.6 592.7,368.0 592.9,367.6 593.1,366.3 593.3,364.4 593.5,365.5 593.7,366.6 593.9,368.1 594.1,369.3 594.3,364.2 594.5,360.8 594.7,363.6 594.9,368.8 595.1,372.5 595.3,370.2 595.5,365.6 595.7,362.8 595.9,362.2 596.1,366.5 596.3,370.9 596.5,371.2 596.7,367.1 596.9,361.8 597.1,360.6 597.3,363.8 597.5,367.7 597.7,370.3 597.9,368.2 598.1,365.3 598.3,364.6 598.5,365.5 598.7,367.5 598.9,368.0 599.1,367.4 599.3,365.2 599.5,363.8 599.7,364.9 599.9,367.2 600.1,368.7 600.3,367.6 600.5,365.9 600.7,362.8 600.9,365.0 601.1,368.4 601.3,367.8 601.5,367.9 601.7,364.0 601.9,362.5 602.1,366.2 602.3,371.7 602.5,369.3 602.7,366.3 602.9,365.2 603.1,363.9 603.3,367.4 603.5,370.6 603.7,368.6 603.9,365.9 604.1,364.3 604.3,365.4 604.5,366.8 604.7,368.3 604.9,367.6 605.1,366.8 605.3,363.5 605.5,363.8 605.7,365.7 605.9,368.1 606.1,369.9 606.3,367.1 606.5,365.1 606.7,365.1 606.9,367.7 607.1,370.8 607.3,367.6 607.5,362.5 607.7,361.1 607.9,365.7 608.1,367.6 608.3,370.0 608.5,367.9 608.7,361.8 608.9,360.8 609.1,366.2 609.3,371.8 609.5,370.2 609.7,366.9 609.9,362.4 610.1,361.6 610.3,365.9 610.5,368.8 610.7,371.0 610.9,367.6 611.1,362.6 611.3,361.1 611.5,366.8 611.7,369.4 611.9,369.0 612.1,365.3 612.3,365.1 612.5,365.1 612.7,365.9 612.9,368.1 613.1,367.7 613.3,367.9 613.5,365.8 613.7,364.9 613.9,363.5 614.1,369.0 614.3,369.4 614.5,369.0 614.7,365.8 614.9,361.3 615.1,363.8 615.3,368.2 615.5,372.1 615.7,370.8 615.9,366.8 616.1,362.4 616.3,360.9 616.5,365.5 616.7,370.2 616.9,371.7 617.1,368.1 617.3,364.3 617.5,361.4 617.7,363.7 617.9,366.4 618.1,368.5 618.3,369.0 618.5,365.9 618.7,364.3 618.9,363.6 619.1,366.4 619.3,369.0 619.5,368.4 619.7,367.0 619.9,364.8 620.1,364.1 620.3,365.6 620.5,368.5 620.7,370.6 620.9,370.3 621.1,363.8 621.3,361.1 621.5,362.3 621.7,367.5 621.9,370.3 622.1,369.1 622.3,364.9 622.5,362.6 622.7,363.1 622.9,366.4 623.1,371.1 623.3,368.9 623.5,363.6 623.7,365.0 623.9,366.0 624.1,367.3 624.3,368.5 624.5,367.6 624.7,365.5 624.9,365.3 625.1,366.9 625.3,367.7 625.5,367.0 625.7,364.8 625.9,365.2 626.1,366.4 626.3,370.1 626.5,371.6 626.7,366.5 626.9,362.0 627.1,364.6 627.3,367.4 627.5,368.6 627.7,367.6 627.9,362.5 628.1,360.5 628.3,365.5 628.5,369.8 628.7,372.2 628.9,370.2 629.1,365.1 629.3,360.5 629.5,363.8 629.7,367.7 629.9,371.8 630.1,371.4 630.3,367.1 630.5,362.2 630.7,360.7 630.9,365.3 631.1,372.0 631.3,371.9 631.5,367.9 631.7,361.4 631.9,362.5 632.1,366.5 632.3,368.7 632.5,370.0 632.7,365.2 632.9,365.0 633.1,365.3 633.3,366.3 633.5,369.1 633.7,369.8 633.9,365.5 634.1,364.7 634.3,363.4 634.5,365.5 634.7,367.4 634.9,369.5 635.1,366.9 635.3,361.5 635.5,362.2 635.7,366.1 635.9,368.4 636.1,370.1 636.3,366.5 636.5,363.3 636.7,363.9 636.9,365.8 637.1,370.0 637.3,368.9 637.5,367.4 637.7,365.4 637.9,364.4 638.1,366.0 638.3,367.5 638.5,369.5 638.7,368.4 638.9,366.9 639.1,365.4 639.3,365.3 639.5,365.8 639.7,367.5 639.9,369.3 640.1,367.8 640.3,361.5 640.5,361.9 640.7,365.9 640.9,368.1 641.1,369.9 641.3,367.7 641.5,366.1 641.7,363.2 641.9,365.4 642.1,366.7 642.3,371.0 642.5,369.9 642.7,365.9 642.9,361.9 643.1,364.4 643.3,366.0 643.5,368.1 643.7,368.1 643.9,366.9 644.1,364.3 644.3,363.0 644.5,364.2 644.7,368.6 644.9,370.1 645.1,367.5 645.3,366.0 645.5,363.8 645.7,364.8 645.9,367.3 646.1,368.0 646.3,367.9 646.5,366.7 646.7,363.6 646.9,360.6 647.1,363.5 647.3,368.1 647.5,370.4 647.7,367.7 647.9,365.9 648.1,363.4 648.3,363.4 648.5,366.7 648.7,369.2 648.9,367.0 649.1,365.1 649.3,362.7 649.5,366.0 649.7,370.9 649.9,369.7 650.1,364.2 650.3,364.3 650.5,365.9 650.7,367.4 650.9,370.0 651.1,368.4 651.3,365.4 651.5,364.8 651.7,365.7 651.9,367.9 652.1,368.8 652.3,366.7 652.5,361.9 652.7,360.5 652.9,363.2 653.1,370.4 653.3,371.3 653.5,366.6 653.7,364.6 653.9,363.6 654.1,366.5 654.3,369.1 654.5,369.2 654.7,365.4 654.9,364.3 655.1,365.8 655.3,367.4 655.5,369.6 655.7,367.0 655.9,365.5 656.1,364.9 656.3,365.9 656.5,368.0 656.7,368.9 656.9,367.5 657.1,363.8 657.3,364.8 657.5,365.7 657.7,367.6 657.9,369.5 658.1,367.7 658.3,364.1 658.5,360.7 658.7,362.9 658.9,367.7 659.1,371.8 659.3,370.4 659.5,363.7 659.7,361.8 659.9,362.4 660.1,367.7 660.3,369.9 660.5,366.9 660.7,365.2 660.9,365.3 661.1,367.1 661.3,368.3 661.5,368.6 661.7,366.6 661.9,364.4 662.1,364.8 662.3,364.9 662.5,368.5 662.7,370.8 662.9,368.7 663.1,366.1 663.3,365.0 663.5,365.6 663.7,368.6 663.9,370.0 664.1,368.1 664.3,364.0 664.5,362.5 664.7,364.8 664.9,367.9 665.1,369.9 665.3,368.6 665.5,363.3 665.7,361.2 665.9,364.8 666.1,371.4 666.3,372.4 666.5,369.6 666.7,363.4 666.9,360.8 667.1,364.2 667.3,368.8 667.5,371.3 667.7,365.1 667.9,361.2 668.1,366.0 668.3,367.6 668.5,370.6 668.7,370.2 668.9,364.7 669.1,362.4 669.3,362.9 669.5,368.4 669.7,368.7 669.9,369.3 670.1,365.2 670.3,361.0 670.5,361.2 670.7,365.6 670.9,368.5 671.1,368.3 671.3,365.8 671.5,361.4 671.7,363.7 671.9,367.2 672.1,369.9 672.3,370.4 672.5,367.2 672.7,364.9 672.9,363.3 673.1,365.6 673.3,369.3 673.5,372.1 673.7,369.4 673.9,363.5 674.1,363.9 674.3,364.5 674.5,367.3 674.7,371.8 674.9,368.1 675.1,365.0 675.3,361.1 675.5,361.2 675.7,368.3 675.9,371.2 676.1,370.0 676.3,366.4 676.5,363.0 676.7,361.1 676.9,360.2 677.1,372.2 677.3,377.1 677.5,375.6 677.7,367.4 677.9,358.1 678.1,355.4 678.3,359.9 678.5,366.7 678.7,369.0 678.9,371.9 679.1,371.4 679.3,366.9 679.5,357.1 679.7,352.1 679.9,351.1 680.1,359.9 680.3,370.4 680.5,374.7 680.7,377.6 680.9,373.6 681.1,364.3 681.3,354.5 681.5,352.2 681.7,358.4 681.9,369.4 682.1,373.8 682.3,373.0 682.5,372.6 682.7,367.9 682.9,363.5 683.1,362.0 683.3,360.8 683.5,365.0 683.7,372.3 683.9,374.8 684.1,372.2 684.3,364.6 684.5,361.4 684.7,363.2 684.9,365.4 685.1,371.5 685.3,374.1 685.5,372.0 685.7,369.7 685.9,365.6 686.1,361.9 686.3,353.4 686.5,358.6 686.7,365.8 686.9,373.2 687.1,377.4 687.3,375.7 687.5,367.0 687.7,354.1 687.9,361.1 688.1,359.7 688.3,363.0 688.5,367.4 688.7,373.6 688.9,374.8 689.1,371.9 689.3,366.6 689.5,360.8 689.7,362.2 689.9,359.3 690.1,365.0 690.3,370.3 690.5,371.2 690.7,370.7 690.9,368.9 691.1,364.4 691.3,358.2 691.5,354.7 691.7,361.2 691.9,376.2 692.1,379.7 692.3,373.8 692.5,373.1 692.7,362.7 692.9,358.2 693.1,363.0 693.3,360.9 693.5,368.9 693.7,380.3 693.9,377.4 694.1,370.9 694.3,361.9 694.5,351.3 694.7,357.5 694.9,364.4 695.1,369.8 695.3,378.7 695.5,375.3 695.7,367.3 695.9,360.4 696.1,354.3 696.3,361.5 696.5,366.1 696.7,371.5 696.9,375.5 697.1,369.7 697.3,367.1 697.5,360.7 697.7,358.1 697.9,360.0 698.1,364.4 698.3,369.9 698.5,371.6 698.7,376.0 698.9,368.6 699.1,364.5 699.3,356.0 699.5,352.4 699.7,361.6 699.9,368.1 700.1,370.7 700.3,378.5 700.5,370.8 700.7,364.0 700.9,360.0 701.1,355.8 701.3,358.4 701.5,367.3 701.7,378.4 701.9,382.7 702.1,374.0 702.3,366.3 702.5,361.9 702.7,355.3 702.9,360.9 703.1,371.9 703.3,383.3 703.5,386.3 703.7,377.5 703.9,361.9 704.1,358.5 704.3,362.8 704.5,364.8 704.7,369.5 704.9,372.4 705.1,372.8 705.3,373.9 705.5,366.2 705.7,361.4 705.9,353.9 706.1,352.7 706.3,364.5 706.5,379.1 706.7,381.7 706.9,377.7 707.1,369.6 707.3,357.6 707.5,353.0 707.7,355.7 707.9,364.2 708.1,375.3 708.3,384.4 708.5,386.4 708.7,381.6 708.9,371.9 709.1,356.5 709.3,346.7 709.5,349.2 709.7,361.7 709.9,371.6 710.1,370.8 710.3,376.2 710.5,372.2 710.7,363.8 710.9,362.1 711.1,361.5 711.3,362.9 711.5,368.6 711.7,372.7 711.9,377.0 712.1,368.1 712.3,360.1 712.5,354.0 712.7,349.1 712.9,361.9 713.1,366.6 713.3,372.5 713.5,378.3 713.7,373.3 713.9,369.1 714.1,362.8 714.3,361.6 714.5,354.3 714.7,366.9 714.9,371.5 715.1,374.4 715.3,373.6 715.5,366.5 715.7,362.0 715.9,356.5 716.1,362.0 716.3,365.3 716.5,370.8 716.7,380.8 716.9,379.8 717.1,366.8 717.3,352.5 717.5,346.3 717.7,352.6 717.9,364.9 718.1,378.8 718.3,378.7 718.5,371.0 718.7,362.8 718.9,362.6 719.1,360.9 719.3,363.6 719.5,369.1 719.7,370.6 719.9,374.9 720.1,374.5 720.3,365.1 720.5,357.5 720.7,352.8 720.9,362.3 721.1,365.7 721.3,370.5 721.5,374.0 721.7,368.9 721.9,362.9 722.1,356.7 722.3,355.9 722.5,362.0 722.7,366.5 722.9,372.4 723.1,375.6 723.3,370.0 723.5,364.8 723.7,353.1 723.9,350.7 724.1,354.9 724.3,366.2 724.5,380.8 724.7,386.8 724.9,380.1 725.1,364.3 725.3,362.7 725.5,358.4 725.7,362.2 725.9,367.8 726.1,372.4 726.3,373.6 726.5,370.0 726.7,365.0 726.9,352.3 727.1,355.4 727.3,359.6 727.5,368.1 727.7,374.5 727.9,370.1 728.1,370.4 728.3,362.5 728.5,353.2 728.7,347.3 728.9,351.9 729.1,364.4 729.3,379.2 729.5,384.6 729.7,374.0 729.9,364.7 730.1,360.4 730.3,358.9 730.5,363.0 730.7,364.0 730.9,369.6 731.1,372.0 731.3,372.2 731.5,369.9 731.7,363.0 731.9,352.7 732.1,354.8 732.3,363.9 732.5,370.3 732.7,377.8 732.9,375.1 733.1,368.8 733.3,363.6 733.5,357.8 733.7,358.1 733.9,367.5 734.1,374.4 734.3,375.9 734.5,374.5 734.7,362.5 734.9,352.4 735.1,356.8 735.3,362.9 735.5,367.4 735.7,370.4 735.9,372.2 736.1,369.2 736.3,366.1 736.5,359.2 736.7,355.0 736.9,359.6 737.1,369.5 737.3,376.1 737.5,383.0 737.7,371.8 737.9,366.4 738.1,356.6 738.3,351.8 738.5,350.5 738.7,365.5 738.9,378.1 739.1,385.9 739.3,383.1 739.5,369.8 739.7,363.7 739.9,361.7 740.1,359.0 740.3,361.5 740.5,367.3 740.7,372.2 740.9,372.2 741.1,377.7 741.3,368.3 741.5,363.0 741.7,359.5 741.9,361.8 742.1,361.5 742.3,364.9 742.5,368.0 742.7,372.0 742.9,373.0 743.1,370.9 743.3,364.2 743.5,358.1 743.7,362.2 743.9,359.3 744.1,365.8 744.3,372.7 744.5,376.3 744.7,373.4 744.9,368.9 745.1,365.1 745.3,354.1 745.5,349.4 745.7,362.9 745.9,374.7 746.1,379.8 746.3,371.3 746.5,368.6 746.7,365.0 746.9,351.5 747.1,348.1 747.3,349.4 747.5,364.5 747.7,374.0 747.9,372.5 748.1,370.6 748.3,367.7 748.5,364.1 748.7,358.8 748.9,361.9 749.1,363.0 749.3,370.0 749.5,371.6 749.7,371.7 749.9,369.0 750.1,367.1 750.3,363.2 750.5,355.1 750.7,354.1 750.9,364.8 751.1,368.9 751.3,371.6 751.5,373.0 751.7,367.5 751.9,359.7 752.1,347.1 752.3,346.5 752.5,356.6 752.7,371.9 752.9,386.4 753.1,384.7 753.3,373.8 753.5,359.9 753.7,359.3 753.9,352.4 754.1,359.0 754.3,368.6 754.5,371.6 754.7,375.4 754.9,376.9 755.1,361.8 755.3,356.8 755.5,353.2 755.7,360.6 755.9,366.2 756.1,369.1 756.3,372.1 756.5,378.8 756.7,378.4 756.9,362.4 757.1,355.9 757.3,360.0 757.5,362.4 757.7,364.0 757.9,368.6 758.1,381.0 758.3,381.0 758.5,370.8 758.7,355.4 758.9,347.8 759.1,348.3 759.3,363.4 759.5,375.5 759.7,378.1 759.9,375.7 760.1,365.7 760.3,362.8 760.5,356.4 760.7,353.1 760.9,365.5 761.1,373.7 761.3,382.7 761.5,375.4 761.7,371.6 761.9,364.4 762.1,360.4 762.3,359.5 762.5,362.4 762.7,371.3 762.9,381.1 763.1,373.2 763.3,371.0 763.5,365.8 763.7,361.9 763.9,355.5 764.1,362.1 764.3,367.6 764.5,369.7 764.7,372.3 764.9,372.4 765.1,367.7 765.3,363.0 765.5,353.0 765.7,360.6 765.9,365.1 766.1,371.6 766.3,377.1 766.5,371.3 766.7,373.3 766.9,366.4 767.1,359.3 767.3,351.6 767.5,355.9 767.7,371.2 767.9,380.8 768.1,380.1 768.3,372.7 768.5,365.9 768.7,360.1 768.9,357.6 769.1,360.0 769.3,367.1 769.5,370.0 769.7,377.5 769.9,377.9 770.1,368.1 770.3,361.9 770.5,357.0 770.7,354.9 770.9,365.7 771.1,370.7 771.3,371.3 771.5,371.6 771.7,367.5 771.9,363.7 772.1,356.0 772.3,352.9 772.5,364.3 772.7,375.7 772.9,386.5 773.1,386.4 773.3,378.2 773.5,366.1 773.7,351.3 773.9,347.2 774.1,350.9 774.3,360.9 774.5,369.8 774.7,372.0 774.9,372.9 775.1,377.1 775.3,370.1 775.5,361.7 775.7,347.3 775.9,347.7 776.1,362.5 776.3,382.1 776.5,387.3 776.7,384.5 776.9,373.8 777.1,362.4 777.3,357.6 777.5,355.3 777.7,360.4 777.9,367.4 778.1,371.5 778.3,371.9 778.5,372.6 778.7,368.5 778.9,365.3 779.1,359.6 779.3,354.8 779.5,361.3 779.7,367.8 779.9,375.9 780.1,378.4 780.3,374.1 780.5,360.0 780.7,346.1 780.9,348.4 781.1,357.2 781.3,371.3 781.5,385.4 781.7,387.2 781.9,382.1 782.1,371.1 782.3,359.8 782.5,361.5 782.7,360.1 782.9,360.7 783.1,376.3 783.3,387.0 783.5,386.0 783.7,377.5 783.9,365.6 784.1,360.0 784.3,359.4 784.5,361.6 784.7,365.6 784.9,374.8 785.1,384.8 785.3,378.3 785.5,368.6 785.7,355.8 785.9,349.8 786.1,353.8 786.3,362.7 786.5,372.7 786.7,372.2 786.9,376.3 787.1,368.8 787.3,361.1 787.5,353.1 787.7,350.5 787.9,361.5 788.1,370.9 788.3,378.3 788.5,378.9 788.7,374.8 788.9,366.7 789.1,360.2" fill="none" stroke="#ffa500" stroke-width="0.6"/>
<rect x="506.75" y="337.95" width="283.1" height="53.7" fill="none" stroke="#000" stroke-width="1.7"/>
<line x1="509.4" y1="337.95" x2="509.4" y2="332.95" stroke="#000" stroke-width="0.8"/>
<line x1="509.4" y1="391.65" x2="509.4" y2="396.65" stroke="#000" stroke-width="0.8"/>
<text x="509.4" y="409.9" font-family="Liberation Sans" font-size="10" text-anchor="middle" fill="#111">10</text>
<line x1="533.0" y1="337.95" x2="533.0" y2="332.95" stroke="#000" stroke-width="0.8"/>
<line x1="533.0" y1="391.65" x2="533.0" y2="396.65" stroke="#000" stroke-width="0.8"/>
<text x="533.0" y="409.9" font-family="Liberation Sans" font-size="10" text-anchor="middle" fill="#111">15</text>
<line x1="556.7" y1="337.95" x2="556.7" y2="332.95" stroke="#000" stroke-width="0.8"/>
<line x1="556.7" y1="391.65" x2="556.7" y2="396.65" stroke="#000" stroke-width="0.8"/>
<text x="556.7" y="409.9" font-family="Liberation Sans" font-size="10" text-anchor="middle" fill="#111">20</text>
<line x1="580.4" y1="337.95" x2="580.4" y2="332.95" stroke="#000" stroke-width="0.8"/>
<line x1="580.4" y1="391.65" x2="580.4" y2="396.65" stroke="#000" stroke-width="0.8"/>
<text x="580.4" y="409.9" font-family="Liberation Sans" font-size="10" text-anchor="middle" fill="#111">25</text>
<line x1="604.0" y1="337.95" x2="604.0" y2="332.95" stroke="#000" stroke-width="0.8"/>
<line x1="604.0" y1="391.65" x2="604.0" y2="396.65" stroke="#000" stroke-width="0.8"/>
<text x="604.0" y="409.9" font-family="Liberation Sans" font-size="10" text-anchor="middle" fill="#111">30</text>
<line x1="627.6" y1="337.95" x2="627.6" y2="332.95" stroke="#000" stroke-width="0.8"/>
<line x1="627.6" y1="391.65" x2="627.6" y2="396.65" stroke="#000" stroke-width="0.8"/>
<text x="627.6" y="409.9" font-family="Liberation Sans" font-size="10" text-anchor="middle" fill="#111">35</text>
<line x1="651.3" y1="337.95" x2="651.3" y2="332.95" stroke="#000" stroke-width="0.8"/>
<line x1="651.3" y1="391.65" x2="651.3" y2="396.65" stroke="#000" stroke-width="0.8"/>
<text x="651.3" y="409.9" font-family="Liberation Sans" font-size="10" text-anchor="middle" fill="#111">40</text>
<line x1="675.0" y1="337.95" x2="675.0" y2="332.95" stroke="#000" stroke-width="0.8"/>
<line x1="675.0" y1="391.65" x2="675.0" y2="396.65" stroke="#000" stroke-width="0.8"/>
<text x="675.0" y="409.9" font-family="Liberation Sans" font-size="10" text-anchor="middle" fill="#111">45</text>
<line x1="698.6" y1="337.95" x2="698.6" y2="332.95" stroke="#000" stroke-width="0.8"/>
<line x1="698.6" y1="391.65" x2="698.6" y2="396.65" stroke="#000" stroke-width="0.8"/>
<text x="698.6" y="409.9" font-family="Liberation Sans" font-size="10" text-anchor="middle" fill="#111">50</text>
<line x1="722.2" y1="337.95" x2="722.2" y2="332.95" stroke="#000" stroke-width="0.8"/>
<line x1="722.2" y1="391.65" x2="722.2" y2="396.65" stroke="#000" stroke-width="0.8"/>
<text x="722.2" y="409.9" font-family="Liberation Sans" font-size="10" text-anchor="middle" fill="#111">55</text>
<line x1="745.9" y1="337.95" x2="745.9" y2="332.95" stroke="#000" stroke-width="0.8"/>
<line x1="745.9" y1="391.65" x2="745.9" y2="396.65" stroke="#000" stroke-width="0.8"/>
<text x="745.9" y="409.9" font-family="Liberation Sans" font-size="10" text-anchor="middle" fill="#111">00</text>
<line x1="769.5" y1="337.95" x2="769.5" y2="332.95" stroke="#000" stroke-width="0.8"/>
<line x1="769.5" y1="391.65" x2="769.5" y2="396.65" stroke="#000" stroke-width="0.8"/>
<text x="769.5" y="409.9" font-family="Liberation Sans" font-size="10" text-anchor="middle" fill="#111">05</text>
<text x="799.5" y="349.2" font-family="Liberation Sans" font-weight="bold" font-size="10" fill="#1010ff">La Sabana</text>
<text x="799.5" y="374.8" font-family="Liberation Sans" font-size="10" fill="#222">Acel. Max. 0.0</text>
<text x="799.5" y="391.1" font-family="Liberation Sans" font-size="10" fill="#222" letter-spacing="-0.15">Int JMA: 0</text>
<text x="648" y="425.6" font-family="Liberation Sans" font-size="11" letter-spacing="0.4" text-anchor="middle" fill="#111">Tiempo (s)</text>
<text x="3.7" y="447" font-family="Liberation Sans" font-size="8.7" fill="#111">LISUCR 20260112123211</text></svg></body></html>
